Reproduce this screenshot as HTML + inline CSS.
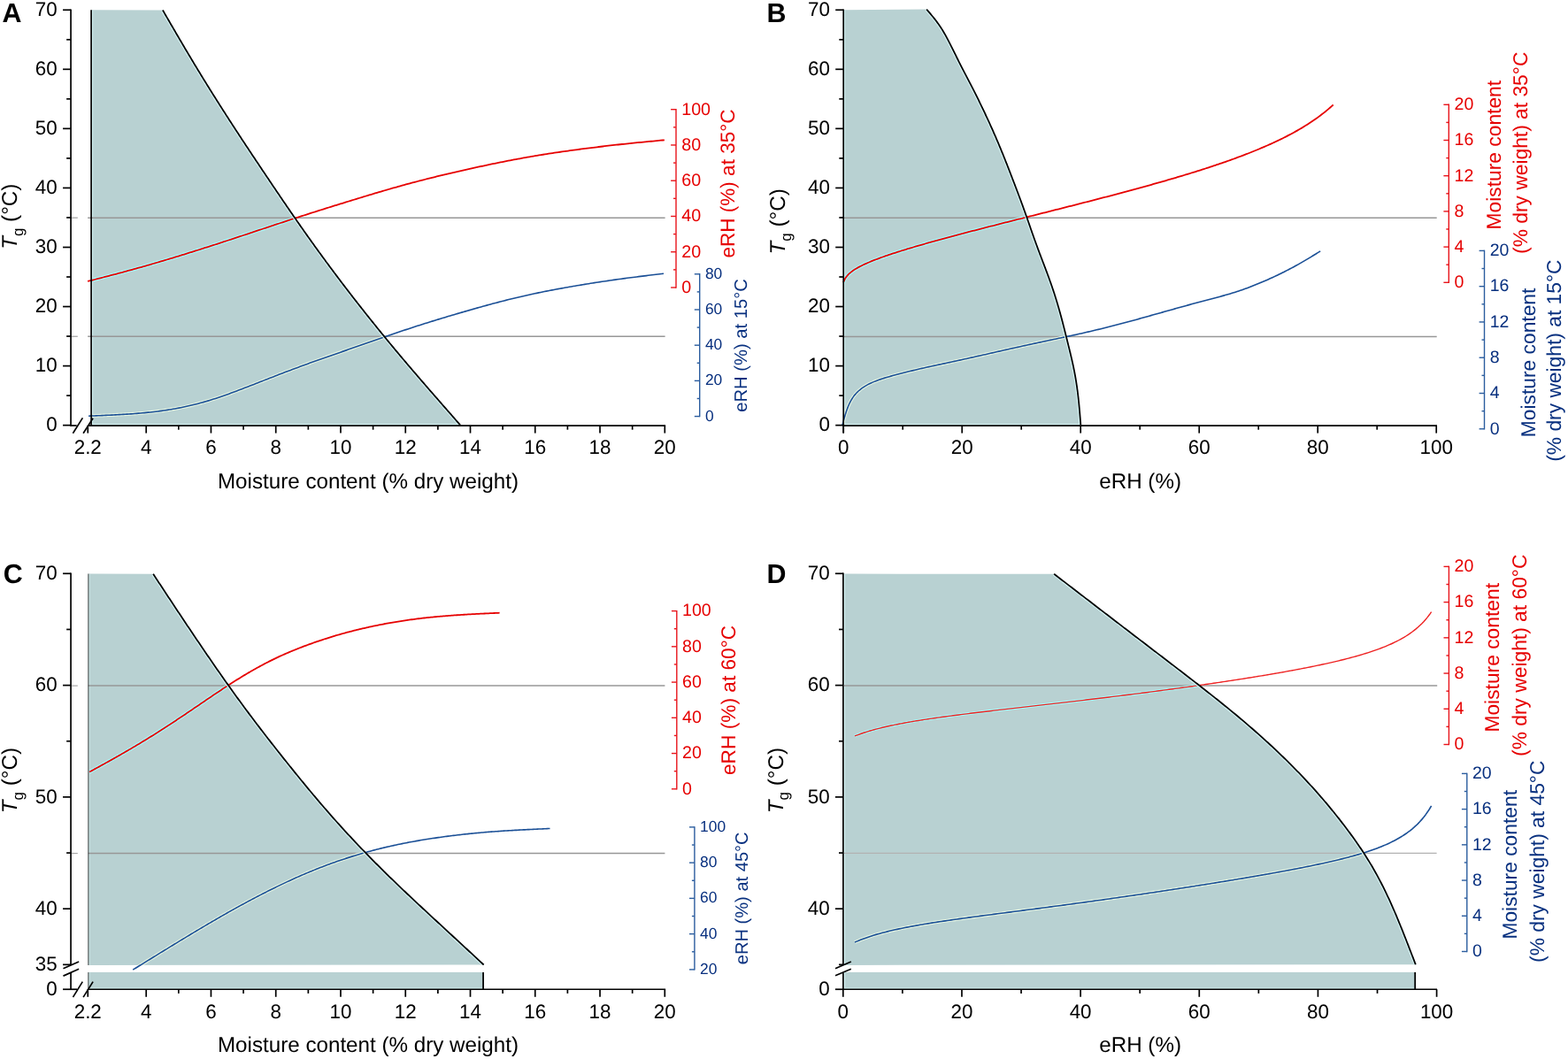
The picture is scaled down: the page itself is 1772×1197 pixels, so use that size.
<!DOCTYPE html>
<html><head><meta charset="utf-8"><title>Glass transition temperature vs moisture content and eRH</title>
<style>
html,body{margin:0;padding:0;background:#fff;}
body{width:1772px;height:1197px;overflow:hidden;}
svg{display:block;font-family:'Liberation Sans', Arial, Helvetica, sans-serif;text-rendering:geometricPrecision;}
</style></head><body>
<svg xmlns="http://www.w3.org/2000/svg" width="1772" height="1197" viewBox="0 0 1772 1197">
<defs>
<clipPath id="cA"><path d="M103.90,480.30 L103.90,11.30 L183.89,11.50 L184.80,13.07 L185.71,14.64 L186.62,16.21 L187.53,17.77 L188.44,19.34 L189.36,20.91 L190.27,22.48 L191.18,24.05 L192.09,25.62 L193.00,27.19 L193.91,28.75 L194.82,30.32 L195.74,31.89 L196.65,33.46 L197.57,35.03 L198.48,36.60 L199.40,38.17 L200.31,39.73 L201.23,41.30 L202.15,42.87 L203.07,44.44 L203.99,46.01 L204.91,47.58 L205.83,49.15 L206.76,50.71 L207.68,52.28 L208.61,53.85 L209.53,55.42 L210.46,56.99 L211.39,58.56 L212.32,60.13 L213.26,61.69 L214.19,63.26 L215.13,64.83 L216.06,66.40 L217.00,67.97 L217.95,69.54 L218.89,71.11 L219.83,72.67 L220.78,74.24 L221.73,75.81 L222.68,77.38 L223.63,78.95 L224.58,80.52 L225.54,82.09 L226.49,83.65 L227.45,85.22 L228.41,86.79 L229.38,88.36 L230.34,89.93 L231.31,91.50 L232.28,93.07 L233.25,94.63 L234.22,96.20 L235.19,97.77 L236.17,99.34 L237.15,100.91 L238.13,102.48 L239.11,104.05 L240.09,105.61 L241.07,107.18 L242.06,108.75 L243.05,110.32 L244.04,111.89 L245.03,113.46 L246.02,115.03 L247.01,116.59 L248.01,118.16 L249.00,119.73 L250.00,121.30 L251.00,122.87 L252.00,124.44 L253.00,126.01 L254.01,127.57 L255.01,129.14 L256.02,130.71 L257.03,132.28 L258.04,133.85 L259.05,135.42 L260.06,136.98 L261.08,138.55 L262.10,140.12 L263.11,141.69 L264.13,143.26 L265.15,144.83 L266.17,146.40 L267.20,147.96 L268.22,149.53 L269.25,151.10 L270.28,152.67 L271.30,154.24 L272.33,155.81 L273.37,157.38 L274.40,158.94 L275.43,160.51 L276.47,162.08 L277.50,163.65 L278.54,165.22 L279.58,166.79 L280.62,168.36 L281.66,169.92 L282.70,171.49 L283.74,173.06 L284.78,174.63 L285.82,176.20 L286.87,177.77 L287.91,179.34 L288.96,180.90 L290.00,182.47 L291.05,184.04 L292.10,185.61 L293.15,187.18 L294.19,188.75 L295.24,190.32 L296.29,191.88 L297.34,193.45 L298.39,195.02 L299.45,196.59 L300.50,198.16 L301.55,199.73 L302.60,201.30 L303.65,202.86 L304.71,204.43 L305.76,206.00 L306.82,207.57 L307.87,209.14 L308.93,210.71 L309.99,212.28 L311.05,213.84 L312.11,215.41 L313.17,216.98 L314.23,218.55 L315.29,220.12 L316.35,221.69 L317.42,223.26 L318.48,224.82 L319.55,226.39 L320.62,227.96 L321.69,229.53 L322.76,231.10 L323.83,232.67 L324.90,234.24 L325.98,235.80 L327.05,237.37 L328.13,238.94 L329.21,240.51 L330.29,242.08 L331.38,243.65 L332.46,245.22 L333.55,246.78 L334.64,248.35 L335.73,249.92 L336.82,251.49 L337.91,253.06 L339.01,254.63 L340.11,256.20 L341.21,257.76 L342.31,259.33 L343.41,260.90 L344.52,262.47 L345.62,264.04 L346.73,265.61 L347.85,267.18 L348.96,268.74 L350.08,270.31 L351.20,271.88 L352.32,273.45 L353.44,275.02 L354.56,276.59 L355.69,278.16 L356.82,279.72 L357.95,281.29 L359.09,282.86 L360.23,284.43 L361.37,286.00 L362.51,287.57 L363.65,289.14 L364.80,290.70 L365.95,292.27 L367.10,293.84 L368.25,295.41 L369.41,296.98 L370.57,298.55 L371.73,300.12 L372.89,301.68 L374.06,303.25 L375.22,304.82 L376.39,306.39 L377.57,307.96 L378.74,309.53 L379.92,311.10 L381.10,312.66 L382.28,314.23 L383.46,315.80 L384.65,317.37 L385.84,318.94 L387.03,320.51 L388.23,322.08 L389.42,323.64 L390.62,325.21 L391.82,326.78 L393.03,328.35 L394.23,329.92 L395.44,331.49 L396.65,333.06 L397.86,334.62 L399.08,336.19 L400.30,337.76 L401.52,339.33 L402.74,340.90 L403.97,342.47 L405.19,344.04 L406.42,345.60 L407.66,347.17 L408.89,348.74 L410.13,350.31 L411.37,351.88 L412.61,353.45 L413.85,355.02 L415.10,356.58 L416.35,358.15 L417.60,359.72 L418.85,361.29 L420.11,362.86 L421.37,364.43 L422.63,365.99 L423.89,367.56 L425.16,369.13 L426.42,370.70 L427.69,372.27 L428.97,373.84 L430.24,375.41 L431.52,376.97 L432.80,378.54 L434.08,380.11 L435.37,381.68 L436.65,383.25 L437.94,384.82 L439.24,386.39 L440.53,387.95 L441.83,389.52 L443.13,391.09 L444.43,392.66 L445.73,394.23 L447.04,395.80 L448.35,397.37 L449.66,398.93 L450.98,400.50 L452.29,402.07 L453.61,403.64 L454.94,405.21 L456.26,406.78 L457.59,408.35 L458.92,409.91 L460.25,411.48 L461.58,413.05 L462.92,414.62 L464.26,416.19 L465.60,417.76 L466.94,419.33 L468.28,420.89 L469.63,422.46 L470.98,424.03 L472.33,425.60 L473.68,427.17 L475.03,428.74 L476.39,430.31 L477.74,431.87 L479.10,433.44 L480.46,435.01 L481.82,436.58 L483.18,438.15 L484.54,439.72 L485.91,441.29 L487.27,442.85 L488.64,444.42 L490.00,445.99 L491.37,447.56 L492.74,449.13 L494.11,450.70 L495.48,452.27 L496.85,453.83 L498.22,455.40 L499.59,456.97 L500.96,458.54 L502.33,460.11 L503.70,461.68 L505.08,463.25 L506.45,464.81 L507.82,466.38 L509.19,467.95 L510.57,469.52 L511.94,471.09 L513.32,472.66 L514.69,474.23 L516.06,475.79 L517.44,477.36 L518.81,478.93 L520.18,480.50 L520.18,480.30 Z"/></clipPath>
<clipPath id="cB"><path d="M954.00,480.30 L954.00,11.30 L1047.16,10.55 L1048.25,11.83 L1049.34,13.11 L1050.42,14.39 L1051.51,15.67 L1052.58,16.96 L1053.65,18.26 L1054.71,19.55 L1055.76,20.86 L1056.80,22.18 L1057.83,23.51 L1058.84,24.84 L1059.83,26.19 L1060.80,27.55 L1061.76,28.93 L1062.70,30.32 L1063.62,31.72 L1064.52,33.13 L1065.40,34.56 L1066.27,35.99 L1067.12,37.44 L1067.95,38.90 L1068.78,40.37 L1069.59,41.84 L1070.39,43.33 L1071.18,44.81 L1071.96,46.31 L1072.73,47.81 L1073.50,49.32 L1074.26,50.82 L1075.02,52.34 L1075.78,53.85 L1076.53,55.37 L1077.29,56.88 L1078.04,58.40 L1078.79,59.92 L1079.54,61.44 L1080.29,62.96 L1081.04,64.48 L1081.80,65.99 L1082.55,67.51 L1083.31,69.03 L1084.07,70.54 L1084.84,72.05 L1085.60,73.56 L1086.37,75.07 L1087.14,76.58 L1087.92,78.09 L1088.70,79.59 L1089.47,81.10 L1090.25,82.60 L1091.04,84.10 L1091.82,85.60 L1092.60,87.11 L1093.39,88.61 L1094.17,90.11 L1094.95,91.61 L1095.74,93.11 L1096.52,94.61 L1097.30,96.11 L1098.07,97.61 L1098.85,99.12 L1099.62,100.63 L1100.39,102.13 L1101.15,103.64 L1101.92,105.15 L1102.68,106.66 L1103.43,108.18 L1104.19,109.69 L1104.94,111.21 L1105.68,112.73 L1106.43,114.24 L1107.17,115.77 L1107.91,117.29 L1108.65,118.81 L1109.38,120.33 L1110.11,121.86 L1110.84,123.39 L1111.57,124.91 L1112.29,126.44 L1113.02,127.97 L1113.74,129.50 L1114.45,131.04 L1115.17,132.57 L1115.88,134.10 L1116.59,135.64 L1117.30,137.17 L1118.01,138.71 L1118.71,140.25 L1119.41,141.79 L1120.11,143.33 L1120.80,144.88 L1121.49,146.42 L1122.17,147.97 L1122.86,149.52 L1123.53,151.07 L1124.21,152.62 L1124.88,154.17 L1125.55,155.72 L1126.22,157.27 L1126.89,158.83 L1127.55,160.39 L1128.21,161.94 L1128.87,163.50 L1129.52,165.06 L1130.18,166.62 L1130.82,168.19 L1131.47,169.75 L1132.11,171.32 L1132.75,172.88 L1133.39,174.45 L1134.02,176.02 L1134.65,177.59 L1135.28,179.16 L1135.91,180.73 L1136.53,182.31 L1137.15,183.88 L1137.77,185.45 L1138.39,187.03 L1139.01,188.60 L1139.62,190.18 L1140.24,191.76 L1140.85,193.34 L1141.46,194.92 L1142.07,196.49 L1142.67,198.07 L1143.28,199.65 L1143.89,201.23 L1144.50,202.81 L1145.10,204.39 L1145.71,205.97 L1146.31,207.55 L1146.92,209.13 L1147.52,210.72 L1148.12,212.30 L1148.72,213.88 L1149.32,215.46 L1149.92,217.04 L1150.52,218.63 L1151.12,220.21 L1151.71,221.79 L1152.30,223.38 L1152.90,224.96 L1153.48,226.55 L1154.07,228.14 L1154.65,229.73 L1155.23,231.31 L1155.81,232.90 L1156.39,234.49 L1156.97,236.09 L1157.54,237.68 L1158.11,239.27 L1158.68,240.86 L1159.24,242.46 L1159.81,244.05 L1160.37,245.65 L1160.93,247.25 L1161.49,248.84 L1162.04,250.44 L1162.60,252.04 L1163.15,253.64 L1163.71,255.24 L1164.26,256.83 L1164.82,258.43 L1165.38,260.03 L1165.93,261.63 L1166.49,263.23 L1167.05,264.82 L1167.61,266.42 L1168.18,268.01 L1168.75,269.61 L1169.32,271.20 L1169.89,272.79 L1170.47,274.38 L1171.04,275.97 L1171.63,277.56 L1172.21,279.15 L1172.80,280.74 L1173.39,282.32 L1173.98,283.91 L1174.57,285.49 L1175.17,287.08 L1175.77,288.66 L1176.37,290.24 L1176.97,291.82 L1177.57,293.41 L1178.17,294.99 L1178.77,296.57 L1179.38,298.15 L1179.98,299.73 L1180.58,301.31 L1181.18,302.90 L1181.78,304.48 L1182.38,306.06 L1182.97,307.65 L1183.56,309.23 L1184.15,310.82 L1184.73,312.41 L1185.31,314.00 L1185.89,315.59 L1186.46,317.18 L1187.03,318.77 L1187.59,320.37 L1188.15,321.97 L1188.70,323.57 L1189.25,325.17 L1189.79,326.77 L1190.33,328.37 L1190.86,329.98 L1191.38,331.59 L1191.90,333.20 L1192.41,334.81 L1192.92,336.42 L1193.43,338.04 L1193.92,339.65 L1194.41,341.27 L1194.90,342.89 L1195.38,344.51 L1195.86,346.14 L1196.33,347.76 L1196.79,349.39 L1197.26,351.02 L1197.71,352.65 L1198.16,354.28 L1198.61,355.91 L1199.05,357.54 L1199.49,359.17 L1199.93,360.81 L1200.36,362.45 L1200.79,364.08 L1201.21,365.72 L1201.63,367.36 L1202.05,369.00 L1202.47,370.64 L1202.88,372.28 L1203.29,373.92 L1203.70,375.57 L1204.11,377.21 L1204.52,378.85 L1204.93,380.49 L1205.34,382.13 L1205.75,383.78 L1206.16,385.42 L1206.57,387.06 L1206.98,388.70 L1207.39,390.35 L1207.80,391.99 L1208.20,393.63 L1208.61,395.28 L1209.01,396.92 L1209.41,398.57 L1209.80,400.21 L1210.20,401.86 L1210.58,403.50 L1210.97,405.15 L1211.35,406.80 L1211.72,408.45 L1212.09,410.10 L1212.45,411.75 L1212.81,413.41 L1213.16,415.06 L1213.50,416.72 L1213.83,418.38 L1214.16,420.03 L1214.47,421.70 L1214.78,423.36 L1215.09,425.02 L1215.38,426.69 L1215.67,428.35 L1215.94,430.02 L1216.21,431.69 L1216.47,433.36 L1216.72,435.03 L1216.97,436.70 L1217.21,438.38 L1217.43,440.05 L1217.66,441.73 L1217.87,443.41 L1218.08,445.09 L1218.28,446.76 L1218.47,448.44 L1218.66,450.13 L1218.84,451.81 L1219.02,453.49 L1219.19,455.17 L1219.36,456.86 L1219.52,458.54 L1219.67,460.23 L1219.83,461.91 L1219.97,463.60 L1220.12,465.29 L1220.26,466.97 L1220.40,468.66 L1220.53,470.35 L1220.67,472.03 L1220.80,473.72 L1220.93,475.41 L1221.06,477.10 L1221.19,478.79 L1221.32,480.48 L1221.32,480.30 Z"/></clipPath>
<clipPath id="cC"><path d="M100.60,1090.90 L100.60,648.60 L173.14,648.80 L174.11,650.28 L175.08,651.75 L176.06,653.23 L177.03,654.71 L178.00,656.19 L178.97,657.66 L179.94,659.14 L180.92,660.62 L181.89,662.10 L182.86,663.57 L183.84,665.05 L184.81,666.53 L185.78,668.00 L186.76,669.48 L187.73,670.96 L188.70,672.44 L189.68,673.91 L190.65,675.39 L191.63,676.87 L192.61,678.35 L193.58,679.82 L194.56,681.30 L195.54,682.78 L196.51,684.25 L197.49,685.73 L198.47,687.21 L199.45,688.69 L200.43,690.16 L201.41,691.64 L202.39,693.12 L203.37,694.59 L204.36,696.07 L205.34,697.55 L206.32,699.03 L207.31,700.50 L208.29,701.98 L209.28,703.46 L210.27,704.94 L211.25,706.41 L212.24,707.89 L213.23,709.37 L214.22,710.84 L215.21,712.32 L216.20,713.80 L217.20,715.28 L218.19,716.75 L219.18,718.23 L220.18,719.71 L221.18,721.19 L222.17,722.66 L223.17,724.14 L224.17,725.62 L225.17,727.09 L226.17,728.57 L227.17,730.05 L228.18,731.53 L229.18,733.00 L230.19,734.48 L231.19,735.96 L232.20,737.44 L233.21,738.91 L234.22,740.39 L235.23,741.87 L236.25,743.34 L237.26,744.82 L238.28,746.30 L239.29,747.78 L240.31,749.25 L241.33,750.73 L242.35,752.21 L243.38,753.69 L244.40,755.16 L245.43,756.64 L246.45,758.12 L247.48,759.59 L248.51,761.07 L249.55,762.55 L250.58,764.03 L251.62,765.50 L252.66,766.98 L253.70,768.46 L254.74,769.94 L255.79,771.41 L256.83,772.89 L257.88,774.37 L258.93,775.84 L259.99,777.32 L261.04,778.80 L262.10,780.28 L263.16,781.75 L264.23,783.23 L265.29,784.71 L266.36,786.18 L267.43,787.66 L268.50,789.14 L269.58,790.62 L270.66,792.09 L271.74,793.57 L272.82,795.05 L273.90,796.53 L274.99,798.00 L276.08,799.48 L277.18,800.96 L278.27,802.43 L279.37,803.91 L280.47,805.39 L281.57,806.87 L282.68,808.34 L283.79,809.82 L284.90,811.30 L286.01,812.78 L287.12,814.25 L288.24,815.73 L289.36,817.21 L290.48,818.68 L291.61,820.16 L292.74,821.64 L293.86,823.12 L295.00,824.59 L296.13,826.07 L297.27,827.55 L298.40,829.03 L299.54,830.50 L300.69,831.98 L301.83,833.46 L302.98,834.93 L304.13,836.41 L305.28,837.89 L306.43,839.37 L307.59,840.84 L308.74,842.32 L309.90,843.80 L311.06,845.28 L312.23,846.75 L313.39,848.23 L314.56,849.71 L315.73,851.18 L316.90,852.66 L318.07,854.14 L319.24,855.62 L320.42,857.09 L321.59,858.57 L322.77,860.05 L323.95,861.53 L325.14,863.00 L326.32,864.48 L327.51,865.96 L328.70,867.43 L329.88,868.91 L331.08,870.39 L332.27,871.87 L333.47,873.34 L334.66,874.82 L335.86,876.30 L337.06,877.77 L338.27,879.25 L339.47,880.73 L340.68,882.21 L341.89,883.68 L343.11,885.16 L344.32,886.64 L345.54,888.12 L346.76,889.59 L347.98,891.07 L349.21,892.55 L350.44,894.02 L351.67,895.50 L352.91,896.98 L354.14,898.46 L355.39,899.93 L356.63,901.41 L357.88,902.89 L359.13,904.37 L360.39,905.84 L361.64,907.32 L362.91,908.80 L364.17,910.27 L365.44,911.75 L366.72,913.23 L367.99,914.71 L369.28,916.18 L370.56,917.66 L371.85,919.14 L373.15,920.62 L374.44,922.09 L375.75,923.57 L377.05,925.05 L378.36,926.52 L379.68,928.00 L381.00,929.48 L382.32,930.96 L383.65,932.43 L384.99,933.91 L386.32,935.39 L387.67,936.87 L389.01,938.34 L390.36,939.82 L391.72,941.30 L393.08,942.77 L394.45,944.25 L395.82,945.73 L397.19,947.21 L398.57,948.68 L399.96,950.16 L401.34,951.64 L402.74,953.12 L404.14,954.59 L405.54,956.07 L406.95,957.55 L408.36,959.02 L409.78,960.50 L411.20,961.98 L412.63,963.46 L414.06,964.93 L415.50,966.41 L416.94,967.89 L418.38,969.36 L419.84,970.84 L421.29,972.32 L422.75,973.80 L424.22,975.27 L425.69,976.75 L427.16,978.23 L428.64,979.71 L430.12,981.18 L431.61,982.66 L433.10,984.14 L434.60,985.61 L436.10,987.09 L437.61,988.57 L439.12,990.05 L440.63,991.52 L442.15,993.00 L443.67,994.48 L445.20,995.96 L446.73,997.43 L448.26,998.91 L449.80,1000.39 L451.34,1001.86 L452.88,1003.34 L454.43,1004.82 L455.99,1006.30 L457.54,1007.77 L459.10,1009.25 L460.66,1010.73 L462.23,1012.21 L463.79,1013.68 L465.37,1015.16 L466.94,1016.64 L468.51,1018.11 L470.09,1019.59 L471.67,1021.07 L473.26,1022.55 L474.84,1024.02 L476.43,1025.50 L478.01,1026.98 L479.60,1028.46 L481.19,1029.93 L482.79,1031.41 L484.38,1032.89 L485.97,1034.36 L487.57,1035.84 L489.17,1037.32 L490.76,1038.80 L492.36,1040.27 L493.96,1041.75 L495.56,1043.23 L497.16,1044.71 L498.75,1046.18 L500.35,1047.66 L501.95,1049.14 L503.55,1050.61 L505.15,1052.09 L506.75,1053.57 L508.35,1055.05 L509.95,1056.52 L511.55,1058.00 L513.15,1059.48 L514.75,1060.95 L516.34,1062.43 L517.94,1063.91 L519.54,1065.39 L521.14,1066.86 L522.73,1068.34 L524.33,1069.82 L525.93,1071.30 L527.52,1072.77 L529.12,1074.25 L530.71,1075.73 L532.31,1077.20 L533.91,1078.68 L535.50,1080.16 L537.10,1081.64 L538.69,1083.11 L540.29,1084.59 L541.88,1086.07 L543.48,1087.55 L545.07,1089.02 L546.66,1090.50 Z"/></clipPath>
<clipPath id="cD"><path d="M953.90,1090.90 L953.90,648.60 L1191.19,648.80 L1193.11,650.28 L1195.04,651.75 L1196.96,653.23 L1198.88,654.71 L1200.81,656.18 L1202.73,657.66 L1204.65,659.14 L1206.58,660.61 L1208.50,662.09 L1210.42,663.57 L1212.35,665.04 L1214.27,666.52 L1216.19,668.00 L1218.11,669.47 L1220.04,670.95 L1221.96,672.43 L1223.88,673.90 L1225.80,675.38 L1227.73,676.86 L1229.65,678.33 L1231.57,679.81 L1233.50,681.28 L1235.42,682.76 L1237.34,684.24 L1239.26,685.71 L1241.19,687.19 L1243.11,688.67 L1245.03,690.14 L1246.96,691.62 L1248.88,693.10 L1250.80,694.57 L1252.73,696.05 L1254.65,697.53 L1256.58,699.00 L1258.50,700.48 L1260.42,701.96 L1262.35,703.43 L1264.28,704.91 L1266.20,706.39 L1268.13,707.86 L1270.05,709.34 L1271.98,710.82 L1273.91,712.29 L1275.84,713.77 L1277.77,715.25 L1279.69,716.72 L1281.62,718.20 L1283.55,719.68 L1285.48,721.15 L1287.41,722.63 L1289.34,724.11 L1291.27,725.58 L1293.20,727.06 L1295.13,728.54 L1297.06,730.01 L1298.99,731.49 L1300.92,732.97 L1302.85,734.44 L1304.78,735.92 L1306.71,737.40 L1308.64,738.87 L1310.57,740.35 L1312.50,741.83 L1314.43,743.30 L1316.36,744.78 L1318.28,746.25 L1320.21,747.73 L1322.14,749.21 L1324.06,750.68 L1325.99,752.16 L1327.91,753.64 L1329.83,755.11 L1331.76,756.59 L1333.68,758.07 L1335.60,759.54 L1337.52,761.02 L1339.43,762.50 L1341.35,763.97 L1343.27,765.45 L1345.18,766.93 L1347.09,768.40 L1349.00,769.88 L1350.90,771.36 L1352.80,772.83 L1354.70,774.31 L1356.60,775.79 L1358.49,777.26 L1360.38,778.74 L1362.27,780.22 L1364.15,781.69 L1366.03,783.17 L1367.90,784.65 L1369.77,786.12 L1371.64,787.60 L1373.50,789.08 L1375.35,790.55 L1377.20,792.03 L1379.04,793.51 L1380.88,794.98 L1382.71,796.46 L1384.54,797.94 L1386.35,799.41 L1388.17,800.89 L1389.97,802.37 L1391.77,803.84 L1393.56,805.32 L1395.35,806.79 L1397.13,808.27 L1398.90,809.75 L1400.66,811.22 L1402.42,812.70 L1404.17,814.18 L1405.91,815.65 L1407.64,817.13 L1409.37,818.61 L1411.08,820.08 L1412.79,821.56 L1414.49,823.04 L1416.19,824.51 L1417.87,825.99 L1419.55,827.47 L1421.22,828.94 L1422.88,830.42 L1424.54,831.90 L1426.18,833.37 L1427.82,834.85 L1429.45,836.33 L1431.07,837.80 L1432.68,839.28 L1434.29,840.76 L1435.89,842.23 L1437.47,843.71 L1439.06,845.19 L1440.63,846.66 L1442.19,848.14 L1443.75,849.62 L1445.30,851.09 L1446.84,852.57 L1448.37,854.05 L1449.90,855.52 L1451.41,857.00 L1452.92,858.48 L1454.42,859.95 L1455.92,861.43 L1457.40,862.91 L1458.88,864.38 L1460.35,865.86 L1461.81,867.34 L1463.27,868.81 L1464.71,870.29 L1466.15,871.76 L1467.58,873.24 L1469.01,874.72 L1470.42,876.19 L1471.83,877.67 L1473.23,879.15 L1474.62,880.62 L1476.01,882.10 L1477.38,883.58 L1478.75,885.05 L1480.11,886.53 L1481.46,888.01 L1482.81,889.48 L1484.14,890.96 L1485.47,892.44 L1486.79,893.91 L1488.10,895.39 L1489.41,896.87 L1490.70,898.34 L1491.99,899.82 L1493.27,901.30 L1494.54,902.77 L1495.81,904.25 L1497.06,905.73 L1498.32,907.20 L1499.56,908.68 L1500.79,910.16 L1502.02,911.63 L1503.24,913.11 L1504.46,914.59 L1505.67,916.06 L1506.87,917.54 L1508.06,919.02 L1509.25,920.49 L1510.43,921.97 L1511.60,923.45 L1512.77,924.92 L1513.93,926.40 L1515.09,927.88 L1516.23,929.35 L1517.38,930.83 L1518.51,932.31 L1519.64,933.78 L1520.76,935.26 L1521.87,936.73 L1522.98,938.21 L1524.08,939.69 L1525.17,941.16 L1526.26,942.64 L1527.34,944.12 L1528.41,945.59 L1529.47,947.07 L1530.52,948.55 L1531.57,950.02 L1532.61,951.50 L1533.64,952.98 L1534.66,954.45 L1535.68,955.93 L1536.68,957.41 L1537.68,958.88 L1538.67,960.36 L1539.64,961.84 L1540.61,963.31 L1541.58,964.79 L1542.53,966.27 L1543.47,967.74 L1544.40,969.22 L1545.33,970.70 L1546.24,972.17 L1547.15,973.65 L1548.05,975.13 L1548.94,976.60 L1549.82,978.08 L1550.69,979.56 L1551.55,981.03 L1552.40,982.51 L1553.24,983.99 L1554.08,985.46 L1554.91,986.94 L1555.72,988.42 L1556.53,989.89 L1557.33,991.37 L1558.12,992.85 L1558.91,994.32 L1559.69,995.80 L1560.45,997.27 L1561.21,998.75 L1561.97,1000.23 L1562.71,1001.70 L1563.45,1003.18 L1564.18,1004.66 L1564.91,1006.13 L1565.63,1007.61 L1566.34,1009.09 L1567.04,1010.56 L1567.74,1012.04 L1568.44,1013.52 L1569.12,1014.99 L1569.81,1016.47 L1570.48,1017.95 L1571.15,1019.42 L1571.82,1020.90 L1572.48,1022.38 L1573.14,1023.85 L1573.79,1025.33 L1574.44,1026.81 L1575.08,1028.28 L1575.72,1029.76 L1576.35,1031.24 L1576.98,1032.71 L1577.61,1034.19 L1578.23,1035.67 L1578.85,1037.14 L1579.47,1038.62 L1580.08,1040.10 L1580.69,1041.57 L1581.30,1043.05 L1581.90,1044.53 L1582.51,1046.00 L1583.10,1047.48 L1583.70,1048.96 L1584.29,1050.43 L1584.89,1051.91 L1585.48,1053.39 L1586.06,1054.86 L1586.65,1056.34 L1587.23,1057.82 L1587.82,1059.29 L1588.40,1060.77 L1588.98,1062.24 L1589.56,1063.72 L1590.13,1065.20 L1590.71,1066.67 L1591.28,1068.15 L1591.86,1069.63 L1592.43,1071.10 L1593.01,1072.58 L1593.58,1074.06 L1594.15,1075.53 L1594.72,1077.01 L1595.29,1078.49 L1595.86,1079.96 L1596.43,1081.44 L1597.00,1082.92 L1597.57,1084.39 L1598.14,1085.87 L1598.71,1087.35 L1599.27,1088.82 L1599.84,1090.30 Z"/></clipPath>
</defs>
<rect width="1772" height="1197" fill="#fff"/>
<path d="M103.90,480.30 L103.90,11.30 L183.89,11.50 L184.80,13.07 L185.71,14.64 L186.62,16.21 L187.53,17.77 L188.44,19.34 L189.36,20.91 L190.27,22.48 L191.18,24.05 L192.09,25.62 L193.00,27.19 L193.91,28.75 L194.82,30.32 L195.74,31.89 L196.65,33.46 L197.57,35.03 L198.48,36.60 L199.40,38.17 L200.31,39.73 L201.23,41.30 L202.15,42.87 L203.07,44.44 L203.99,46.01 L204.91,47.58 L205.83,49.15 L206.76,50.71 L207.68,52.28 L208.61,53.85 L209.53,55.42 L210.46,56.99 L211.39,58.56 L212.32,60.13 L213.26,61.69 L214.19,63.26 L215.13,64.83 L216.06,66.40 L217.00,67.97 L217.95,69.54 L218.89,71.11 L219.83,72.67 L220.78,74.24 L221.73,75.81 L222.68,77.38 L223.63,78.95 L224.58,80.52 L225.54,82.09 L226.49,83.65 L227.45,85.22 L228.41,86.79 L229.38,88.36 L230.34,89.93 L231.31,91.50 L232.28,93.07 L233.25,94.63 L234.22,96.20 L235.19,97.77 L236.17,99.34 L237.15,100.91 L238.13,102.48 L239.11,104.05 L240.09,105.61 L241.07,107.18 L242.06,108.75 L243.05,110.32 L244.04,111.89 L245.03,113.46 L246.02,115.03 L247.01,116.59 L248.01,118.16 L249.00,119.73 L250.00,121.30 L251.00,122.87 L252.00,124.44 L253.00,126.01 L254.01,127.57 L255.01,129.14 L256.02,130.71 L257.03,132.28 L258.04,133.85 L259.05,135.42 L260.06,136.98 L261.08,138.55 L262.10,140.12 L263.11,141.69 L264.13,143.26 L265.15,144.83 L266.17,146.40 L267.20,147.96 L268.22,149.53 L269.25,151.10 L270.28,152.67 L271.30,154.24 L272.33,155.81 L273.37,157.38 L274.40,158.94 L275.43,160.51 L276.47,162.08 L277.50,163.65 L278.54,165.22 L279.58,166.79 L280.62,168.36 L281.66,169.92 L282.70,171.49 L283.74,173.06 L284.78,174.63 L285.82,176.20 L286.87,177.77 L287.91,179.34 L288.96,180.90 L290.00,182.47 L291.05,184.04 L292.10,185.61 L293.15,187.18 L294.19,188.75 L295.24,190.32 L296.29,191.88 L297.34,193.45 L298.39,195.02 L299.45,196.59 L300.50,198.16 L301.55,199.73 L302.60,201.30 L303.65,202.86 L304.71,204.43 L305.76,206.00 L306.82,207.57 L307.87,209.14 L308.93,210.71 L309.99,212.28 L311.05,213.84 L312.11,215.41 L313.17,216.98 L314.23,218.55 L315.29,220.12 L316.35,221.69 L317.42,223.26 L318.48,224.82 L319.55,226.39 L320.62,227.96 L321.69,229.53 L322.76,231.10 L323.83,232.67 L324.90,234.24 L325.98,235.80 L327.05,237.37 L328.13,238.94 L329.21,240.51 L330.29,242.08 L331.38,243.65 L332.46,245.22 L333.55,246.78 L334.64,248.35 L335.73,249.92 L336.82,251.49 L337.91,253.06 L339.01,254.63 L340.11,256.20 L341.21,257.76 L342.31,259.33 L343.41,260.90 L344.52,262.47 L345.62,264.04 L346.73,265.61 L347.85,267.18 L348.96,268.74 L350.08,270.31 L351.20,271.88 L352.32,273.45 L353.44,275.02 L354.56,276.59 L355.69,278.16 L356.82,279.72 L357.95,281.29 L359.09,282.86 L360.23,284.43 L361.37,286.00 L362.51,287.57 L363.65,289.14 L364.80,290.70 L365.95,292.27 L367.10,293.84 L368.25,295.41 L369.41,296.98 L370.57,298.55 L371.73,300.12 L372.89,301.68 L374.06,303.25 L375.22,304.82 L376.39,306.39 L377.57,307.96 L378.74,309.53 L379.92,311.10 L381.10,312.66 L382.28,314.23 L383.46,315.80 L384.65,317.37 L385.84,318.94 L387.03,320.51 L388.23,322.08 L389.42,323.64 L390.62,325.21 L391.82,326.78 L393.03,328.35 L394.23,329.92 L395.44,331.49 L396.65,333.06 L397.86,334.62 L399.08,336.19 L400.30,337.76 L401.52,339.33 L402.74,340.90 L403.97,342.47 L405.19,344.04 L406.42,345.60 L407.66,347.17 L408.89,348.74 L410.13,350.31 L411.37,351.88 L412.61,353.45 L413.85,355.02 L415.10,356.58 L416.35,358.15 L417.60,359.72 L418.85,361.29 L420.11,362.86 L421.37,364.43 L422.63,365.99 L423.89,367.56 L425.16,369.13 L426.42,370.70 L427.69,372.27 L428.97,373.84 L430.24,375.41 L431.52,376.97 L432.80,378.54 L434.08,380.11 L435.37,381.68 L436.65,383.25 L437.94,384.82 L439.24,386.39 L440.53,387.95 L441.83,389.52 L443.13,391.09 L444.43,392.66 L445.73,394.23 L447.04,395.80 L448.35,397.37 L449.66,398.93 L450.98,400.50 L452.29,402.07 L453.61,403.64 L454.94,405.21 L456.26,406.78 L457.59,408.35 L458.92,409.91 L460.25,411.48 L461.58,413.05 L462.92,414.62 L464.26,416.19 L465.60,417.76 L466.94,419.33 L468.28,420.89 L469.63,422.46 L470.98,424.03 L472.33,425.60 L473.68,427.17 L475.03,428.74 L476.39,430.31 L477.74,431.87 L479.10,433.44 L480.46,435.01 L481.82,436.58 L483.18,438.15 L484.54,439.72 L485.91,441.29 L487.27,442.85 L488.64,444.42 L490.00,445.99 L491.37,447.56 L492.74,449.13 L494.11,450.70 L495.48,452.27 L496.85,453.83 L498.22,455.40 L499.59,456.97 L500.96,458.54 L502.33,460.11 L503.70,461.68 L505.08,463.25 L506.45,464.81 L507.82,466.38 L509.19,467.95 L510.57,469.52 L511.94,471.09 L513.32,472.66 L514.69,474.23 L516.06,475.79 L517.44,477.36 L518.81,478.93 L520.18,480.50 L520.18,480.30 Z" fill="#b8d1d2"/>
<line x1="104.6" y1="11.5" x2="104.6" y2="480" stroke="#d2f2f2" stroke-width="1.0" stroke-linecap="butt"/>
<line x1="104" y1="479.6" x2="519.18" y2="479.6" stroke="#d2f2f2" stroke-width="1.0" stroke-linecap="butt"/>
<line x1="99.2" y1="246.16" x2="751.6" y2="246.16" stroke="#979797" stroke-width="1.5" stroke-linecap="butt"/>
<line x1="80.9" y1="246.16" x2="87.8" y2="246.16" stroke="#a8a8a8" stroke-width="1.3" stroke-linecap="butt"/>
<line x1="99.2" y1="380.28" x2="751.6" y2="380.28" stroke="#979797" stroke-width="1.5" stroke-linecap="butt"/>
<line x1="80.9" y1="380.28" x2="87.8" y2="380.28" stroke="#a8a8a8" stroke-width="1.3" stroke-linecap="butt"/>
<path d="M99.10,317.98 L101.28,317.43 L103.46,316.87 L105.64,316.31 L107.82,315.75 L110.00,315.19 L112.18,314.62 L114.36,314.06 L116.54,313.50 L118.72,312.93 L120.90,312.37 L123.08,311.80 L125.26,311.23 L127.44,310.66 L129.62,310.08 L131.80,309.51 L133.98,308.93 L136.16,308.35 L138.34,307.76 L140.52,307.18 L142.70,306.59 L144.88,305.99 L147.06,305.40 L149.24,304.80 L151.42,304.20 L153.60,303.60 L155.78,302.99 L157.96,302.38 L160.14,301.76 L162.32,301.15 L164.50,300.53 L166.68,299.90 L168.86,299.28 L171.04,298.65 L173.22,298.01 L175.40,297.38 L177.58,296.74 L179.76,296.10 L181.94,295.45 L184.12,294.81 L186.30,294.16 L188.48,293.50 L190.66,292.85 L192.84,292.19 L195.02,291.53 L197.20,290.87 L199.38,290.20 L201.56,289.54 L203.74,288.87 L205.92,288.19 L208.10,287.52 L210.28,286.84 L212.46,286.16 L214.64,285.48 L216.82,284.80 L219.00,284.12 L221.18,283.43 L223.36,282.74 L225.54,282.05 L227.72,281.36 L229.90,280.67 L232.08,279.98 L234.26,279.28 L236.44,278.59 L238.62,277.89 L240.80,277.19 L242.98,276.49 L245.16,275.78 L247.34,275.08 L249.52,274.37 L251.70,273.66 L253.88,272.95 L256.06,272.24 L258.24,271.52 L260.42,270.81 L262.59,270.09 L264.77,269.37 L266.95,268.65 L269.13,267.93 L271.31,267.21 L273.49,266.49 L275.67,265.76 L277.85,265.04 L280.03,264.31 L282.21,263.59 L284.39,262.86 L286.57,262.13 L288.75,261.41 L290.93,260.68 L293.11,259.96 L295.29,259.23 L297.47,258.51 L299.65,257.78 L301.83,257.06 L304.01,256.33 L306.19,255.61 L308.37,254.89 L310.55,254.17 L312.73,253.45 L314.91,252.73 L317.09,252.01 L319.27,251.29 L321.45,250.58 L323.63,249.86 L325.81,249.15 L327.99,248.44 L330.17,247.73 L332.35,247.02 L334.53,246.31 L336.71,245.60 L338.89,244.90 L341.07,244.19 L343.25,243.49 L345.43,242.79 L347.61,242.09 L349.79,241.39 L351.97,240.70 L354.15,240.00 L356.33,239.31 L358.51,238.62 L360.69,237.93 L362.87,237.24 L365.05,236.56 L367.23,235.88 L369.41,235.19 L371.59,234.51 L373.77,233.83 L375.95,233.16 L378.13,232.48 L380.31,231.80 L382.49,231.13 L384.67,230.45 L386.85,229.78 L389.03,229.10 L391.21,228.43 L393.39,227.76 L395.57,227.08 L397.75,226.41 L399.93,225.74 L402.11,225.07 L404.29,224.41 L406.47,223.74 L408.65,223.07 L410.83,222.41 L413.01,221.75 L415.19,221.09 L417.37,220.43 L419.55,219.77 L421.73,219.12 L423.91,218.47 L426.09,217.82 L428.27,217.17 L430.45,216.53 L432.63,215.89 L434.81,215.25 L436.99,214.62 L439.17,213.99 L441.35,213.36 L443.53,212.74 L445.71,212.12 L447.89,211.51 L450.07,210.90 L452.25,210.29 L454.43,209.68 L456.61,209.08 L458.79,208.49 L460.97,207.90 L463.15,207.31 L465.33,206.72 L467.51,206.14 L469.69,205.57 L471.87,205.00 L474.05,204.43 L476.23,203.87 L478.41,203.31 L480.59,202.75 L482.77,202.20 L484.95,201.65 L487.13,201.10 L489.31,200.56 L491.49,200.02 L493.67,199.49 L495.85,198.96 L498.03,198.43 L500.21,197.90 L502.39,197.38 L504.57,196.86 L506.75,196.35 L508.93,195.83 L511.11,195.32 L513.29,194.82 L515.47,194.31 L517.65,193.81 L519.83,193.31 L522.01,192.82 L524.19,192.32 L526.37,191.83 L528.55,191.35 L530.73,190.86 L532.91,190.38 L535.09,189.90 L537.27,189.42 L539.45,188.94 L541.63,188.47 L543.81,188.00 L545.99,187.53 L548.17,187.07 L550.35,186.61 L552.53,186.15 L554.71,185.69 L556.89,185.24 L559.07,184.79 L561.25,184.34 L563.43,183.90 L565.61,183.46 L567.79,183.02 L569.97,182.59 L572.15,182.16 L574.33,181.74 L576.51,181.31 L578.69,180.90 L580.87,180.48 L583.05,180.07 L585.23,179.67 L587.41,179.26 L589.58,178.87 L591.76,178.47 L593.94,178.08 L596.12,177.70 L598.30,177.32 L600.48,176.94 L602.66,176.56 L604.84,176.20 L607.02,175.83 L609.20,175.47 L611.38,175.11 L613.56,174.76 L615.74,174.41 L617.92,174.07 L620.10,173.73 L622.28,173.39 L624.46,173.06 L626.64,172.73 L628.82,172.40 L631.00,172.08 L633.18,171.76 L635.36,171.45 L637.54,171.14 L639.72,170.83 L641.90,170.53 L644.08,170.22 L646.26,169.93 L648.44,169.63 L650.62,169.34 L652.80,169.05 L654.98,168.76 L657.16,168.48 L659.34,168.19 L661.52,167.91 L663.70,167.64 L665.88,167.36 L668.06,167.09 L670.24,166.82 L672.42,166.55 L674.60,166.28 L676.78,166.01 L678.96,165.75 L681.14,165.49 L683.32,165.23 L685.50,164.97 L687.68,164.72 L689.86,164.47 L692.04,164.22 L694.22,163.98 L696.40,163.73 L698.58,163.49 L700.76,163.25 L702.94,163.02 L705.12,162.78 L707.30,162.55 L709.48,162.32 L711.66,162.10 L713.84,161.87 L716.02,161.65 L718.20,161.43 L720.38,161.21 L722.56,161.00 L724.74,160.78 L726.92,160.57 L729.10,160.36 L731.28,160.15 L733.46,159.94 L735.64,159.73 L737.82,159.53 L740.00,159.32 L742.18,159.12 L744.36,158.91 L746.54,158.71 L748.72,158.50 L750.90,158.30" fill="none" stroke="#a6fbfb" stroke-width="4.0" clip-path="url(#cA)"/>
<path d="M99.10,317.98 L101.28,317.43 L103.46,316.87 L105.64,316.31 L107.82,315.75 L110.00,315.19 L112.18,314.62 L114.36,314.06 L116.54,313.50 L118.72,312.93 L120.90,312.37 L123.08,311.80 L125.26,311.23 L127.44,310.66 L129.62,310.08 L131.80,309.51 L133.98,308.93 L136.16,308.35 L138.34,307.76 L140.52,307.18 L142.70,306.59 L144.88,305.99 L147.06,305.40 L149.24,304.80 L151.42,304.20 L153.60,303.60 L155.78,302.99 L157.96,302.38 L160.14,301.76 L162.32,301.15 L164.50,300.53 L166.68,299.90 L168.86,299.28 L171.04,298.65 L173.22,298.01 L175.40,297.38 L177.58,296.74 L179.76,296.10 L181.94,295.45 L184.12,294.81 L186.30,294.16 L188.48,293.50 L190.66,292.85 L192.84,292.19 L195.02,291.53 L197.20,290.87 L199.38,290.20 L201.56,289.54 L203.74,288.87 L205.92,288.19 L208.10,287.52 L210.28,286.84 L212.46,286.16 L214.64,285.48 L216.82,284.80 L219.00,284.12 L221.18,283.43 L223.36,282.74 L225.54,282.05 L227.72,281.36 L229.90,280.67 L232.08,279.98 L234.26,279.28 L236.44,278.59 L238.62,277.89 L240.80,277.19 L242.98,276.49 L245.16,275.78 L247.34,275.08 L249.52,274.37 L251.70,273.66 L253.88,272.95 L256.06,272.24 L258.24,271.52 L260.42,270.81 L262.59,270.09 L264.77,269.37 L266.95,268.65 L269.13,267.93 L271.31,267.21 L273.49,266.49 L275.67,265.76 L277.85,265.04 L280.03,264.31 L282.21,263.59 L284.39,262.86 L286.57,262.13 L288.75,261.41 L290.93,260.68 L293.11,259.96 L295.29,259.23 L297.47,258.51 L299.65,257.78 L301.83,257.06 L304.01,256.33 L306.19,255.61 L308.37,254.89 L310.55,254.17 L312.73,253.45 L314.91,252.73 L317.09,252.01 L319.27,251.29 L321.45,250.58 L323.63,249.86 L325.81,249.15 L327.99,248.44 L330.17,247.73 L332.35,247.02 L334.53,246.31 L336.71,245.60 L338.89,244.90 L341.07,244.19 L343.25,243.49 L345.43,242.79 L347.61,242.09 L349.79,241.39 L351.97,240.70 L354.15,240.00 L356.33,239.31 L358.51,238.62 L360.69,237.93 L362.87,237.24 L365.05,236.56 L367.23,235.88 L369.41,235.19 L371.59,234.51 L373.77,233.83 L375.95,233.16 L378.13,232.48 L380.31,231.80 L382.49,231.13 L384.67,230.45 L386.85,229.78 L389.03,229.10 L391.21,228.43 L393.39,227.76 L395.57,227.08 L397.75,226.41 L399.93,225.74 L402.11,225.07 L404.29,224.41 L406.47,223.74 L408.65,223.07 L410.83,222.41 L413.01,221.75 L415.19,221.09 L417.37,220.43 L419.55,219.77 L421.73,219.12 L423.91,218.47 L426.09,217.82 L428.27,217.17 L430.45,216.53 L432.63,215.89 L434.81,215.25 L436.99,214.62 L439.17,213.99 L441.35,213.36 L443.53,212.74 L445.71,212.12 L447.89,211.51 L450.07,210.90 L452.25,210.29 L454.43,209.68 L456.61,209.08 L458.79,208.49 L460.97,207.90 L463.15,207.31 L465.33,206.72 L467.51,206.14 L469.69,205.57 L471.87,205.00 L474.05,204.43 L476.23,203.87 L478.41,203.31 L480.59,202.75 L482.77,202.20 L484.95,201.65 L487.13,201.10 L489.31,200.56 L491.49,200.02 L493.67,199.49 L495.85,198.96 L498.03,198.43 L500.21,197.90 L502.39,197.38 L504.57,196.86 L506.75,196.35 L508.93,195.83 L511.11,195.32 L513.29,194.82 L515.47,194.31 L517.65,193.81 L519.83,193.31 L522.01,192.82 L524.19,192.32 L526.37,191.83 L528.55,191.35 L530.73,190.86 L532.91,190.38 L535.09,189.90 L537.27,189.42 L539.45,188.94 L541.63,188.47 L543.81,188.00 L545.99,187.53 L548.17,187.07 L550.35,186.61 L552.53,186.15 L554.71,185.69 L556.89,185.24 L559.07,184.79 L561.25,184.34 L563.43,183.90 L565.61,183.46 L567.79,183.02 L569.97,182.59 L572.15,182.16 L574.33,181.74 L576.51,181.31 L578.69,180.90 L580.87,180.48 L583.05,180.07 L585.23,179.67 L587.41,179.26 L589.58,178.87 L591.76,178.47 L593.94,178.08 L596.12,177.70 L598.30,177.32 L600.48,176.94 L602.66,176.56 L604.84,176.20 L607.02,175.83 L609.20,175.47 L611.38,175.11 L613.56,174.76 L615.74,174.41 L617.92,174.07 L620.10,173.73 L622.28,173.39 L624.46,173.06 L626.64,172.73 L628.82,172.40 L631.00,172.08 L633.18,171.76 L635.36,171.45 L637.54,171.14 L639.72,170.83 L641.90,170.53 L644.08,170.22 L646.26,169.93 L648.44,169.63 L650.62,169.34 L652.80,169.05 L654.98,168.76 L657.16,168.48 L659.34,168.19 L661.52,167.91 L663.70,167.64 L665.88,167.36 L668.06,167.09 L670.24,166.82 L672.42,166.55 L674.60,166.28 L676.78,166.01 L678.96,165.75 L681.14,165.49 L683.32,165.23 L685.50,164.97 L687.68,164.72 L689.86,164.47 L692.04,164.22 L694.22,163.98 L696.40,163.73 L698.58,163.49 L700.76,163.25 L702.94,163.02 L705.12,162.78 L707.30,162.55 L709.48,162.32 L711.66,162.10 L713.84,161.87 L716.02,161.65 L718.20,161.43 L720.38,161.21 L722.56,161.00 L724.74,160.78 L726.92,160.57 L729.10,160.36 L731.28,160.15 L733.46,159.94 L735.64,159.73 L737.82,159.53 L740.00,159.32 L742.18,159.12 L744.36,158.91 L746.54,158.71 L748.72,158.50 L750.90,158.30" fill="none" stroke="#e60000" stroke-width="1.8" stroke-linejoin="round"/>
<path d="M100.10,470.25 L102.27,470.16 L104.45,470.07 L106.62,469.97 L108.79,469.88 L110.97,469.79 L113.14,469.69 L115.32,469.59 L117.49,469.50 L119.66,469.40 L121.84,469.30 L124.01,469.19 L126.18,469.09 L128.36,468.98 L130.53,468.87 L132.70,468.76 L134.88,468.64 L137.05,468.52 L139.22,468.39 L141.40,468.26 L143.57,468.12 L145.75,467.98 L147.92,467.83 L150.09,467.68 L152.27,467.52 L154.44,467.35 L156.61,467.17 L158.79,466.99 L160.96,466.80 L163.13,466.60 L165.31,466.39 L167.48,466.17 L169.65,465.94 L171.83,465.71 L174.00,465.46 L176.18,465.20 L178.35,464.92 L180.52,464.64 L182.70,464.35 L184.87,464.04 L187.04,463.72 L189.22,463.39 L191.39,463.04 L193.56,462.68 L195.74,462.31 L197.91,461.92 L200.08,461.52 L202.26,461.11 L204.43,460.68 L206.61,460.24 L208.78,459.78 L210.95,459.30 L213.13,458.82 L215.30,458.31 L217.47,457.80 L219.65,457.26 L221.82,456.72 L223.99,456.15 L226.17,455.57 L228.34,454.98 L230.51,454.37 L232.69,453.75 L234.86,453.11 L237.04,452.45 L239.21,451.78 L241.38,451.10 L243.56,450.40 L245.73,449.69 L247.90,448.96 L250.08,448.23 L252.25,447.47 L254.42,446.71 L256.60,445.94 L258.77,445.16 L260.94,444.36 L263.12,443.56 L265.29,442.75 L267.47,441.94 L269.64,441.12 L271.81,440.29 L273.99,439.45 L276.16,438.62 L278.33,437.78 L280.51,436.93 L282.68,436.08 L284.85,435.23 L287.03,434.38 L289.20,433.53 L291.37,432.68 L293.55,431.83 L295.72,430.98 L297.90,430.12 L300.07,429.28 L302.24,428.43 L304.42,427.58 L306.59,426.73 L308.76,425.89 L310.94,425.05 L313.11,424.21 L315.28,423.37 L317.46,422.53 L319.63,421.70 L321.81,420.86 L323.98,420.04 L326.15,419.21 L328.33,418.39 L330.50,417.57 L332.67,416.75 L334.85,415.94 L337.02,415.13 L339.19,414.32 L341.37,413.52 L343.54,412.72 L345.71,411.93 L347.89,411.14 L350.06,410.35 L352.24,409.57 L354.41,408.79 L356.58,408.01 L358.76,407.24 L360.93,406.47 L363.10,405.70 L365.28,404.94 L367.45,404.17 L369.62,403.42 L371.80,402.66 L373.97,401.90 L376.14,401.15 L378.32,400.40 L380.49,399.64 L382.67,398.89 L384.84,398.14 L387.01,397.38 L389.19,396.63 L391.36,395.87 L393.53,395.11 L395.71,394.35 L397.88,393.60 L400.05,392.84 L402.23,392.07 L404.40,391.31 L406.57,390.55 L408.75,389.79 L410.92,389.03 L413.10,388.27 L415.27,387.51 L417.44,386.75 L419.62,385.99 L421.79,385.23 L423.96,384.47 L426.14,383.72 L428.31,382.96 L430.48,382.21 L432.66,381.46 L434.83,380.71 L437.00,379.96 L439.18,379.21 L441.35,378.47 L443.53,377.73 L445.70,376.99 L447.87,376.25 L450.05,375.52 L452.22,374.79 L454.39,374.06 L456.57,373.34 L458.74,372.62 L460.91,371.90 L463.09,371.18 L465.26,370.47 L467.43,369.76 L469.61,369.06 L471.78,368.36 L473.96,367.66 L476.13,366.97 L478.30,366.28 L480.48,365.59 L482.65,364.91 L484.82,364.22 L487.00,363.55 L489.17,362.87 L491.34,362.20 L493.52,361.54 L495.69,360.87 L497.86,360.21 L500.04,359.55 L502.21,358.90 L504.39,358.25 L506.56,357.60 L508.73,356.95 L510.91,356.31 L513.08,355.66 L515.25,355.02 L517.43,354.39 L519.60,353.75 L521.77,353.12 L523.95,352.49 L526.12,351.86 L528.29,351.24 L530.47,350.61 L532.64,349.99 L534.82,349.37 L536.99,348.76 L539.16,348.14 L541.34,347.53 L543.51,346.93 L545.68,346.32 L547.86,345.72 L550.03,345.12 L552.20,344.53 L554.38,343.94 L556.55,343.35 L558.73,342.77 L560.90,342.19 L563.07,341.62 L565.25,341.05 L567.42,340.49 L569.59,339.93 L571.77,339.38 L573.94,338.83 L576.11,338.29 L578.29,337.75 L580.46,337.23 L582.63,336.70 L584.81,336.19 L586.98,335.68 L589.16,335.17 L591.33,334.67 L593.50,334.18 L595.68,333.70 L597.85,333.22 L600.02,332.74 L602.20,332.27 L604.37,331.81 L606.54,331.35 L608.72,330.90 L610.89,330.45 L613.06,330.01 L615.24,329.57 L617.41,329.14 L619.59,328.72 L621.76,328.29 L623.93,327.88 L626.11,327.46 L628.28,327.06 L630.45,326.65 L632.63,326.25 L634.80,325.86 L636.97,325.47 L639.15,325.08 L641.32,324.69 L643.49,324.31 L645.67,323.93 L647.84,323.56 L650.02,323.19 L652.19,322.82 L654.36,322.45 L656.54,322.09 L658.71,321.73 L660.88,321.38 L663.06,321.03 L665.23,320.68 L667.40,320.33 L669.58,319.99 L671.75,319.64 L673.92,319.31 L676.10,318.97 L678.27,318.64 L680.45,318.31 L682.62,317.99 L684.79,317.67 L686.97,317.35 L689.14,317.03 L691.31,316.72 L693.49,316.41 L695.66,316.11 L697.83,315.80 L700.01,315.50 L702.18,315.21 L704.35,314.91 L706.53,314.62 L708.70,314.33 L710.88,314.05 L713.05,313.76 L715.22,313.48 L717.40,313.21 L719.57,312.93 L721.74,312.66 L723.92,312.39 L726.09,312.12 L728.26,311.85 L730.44,311.59 L732.61,311.33 L734.78,311.06 L736.96,310.80 L739.13,310.54 L741.31,310.28 L743.48,310.02 L745.65,309.77 L747.83,309.51 L750.00,309.25" fill="none" stroke="#e4f4e2" stroke-width="3.8000000000000003" clip-path="url(#cA)"/>
<path d="M100.10,470.25 L102.27,470.16 L104.45,470.07 L106.62,469.97 L108.79,469.88 L110.97,469.79 L113.14,469.69 L115.32,469.59 L117.49,469.50 L119.66,469.40 L121.84,469.30 L124.01,469.19 L126.18,469.09 L128.36,468.98 L130.53,468.87 L132.70,468.76 L134.88,468.64 L137.05,468.52 L139.22,468.39 L141.40,468.26 L143.57,468.12 L145.75,467.98 L147.92,467.83 L150.09,467.68 L152.27,467.52 L154.44,467.35 L156.61,467.17 L158.79,466.99 L160.96,466.80 L163.13,466.60 L165.31,466.39 L167.48,466.17 L169.65,465.94 L171.83,465.71 L174.00,465.46 L176.18,465.20 L178.35,464.92 L180.52,464.64 L182.70,464.35 L184.87,464.04 L187.04,463.72 L189.22,463.39 L191.39,463.04 L193.56,462.68 L195.74,462.31 L197.91,461.92 L200.08,461.52 L202.26,461.11 L204.43,460.68 L206.61,460.24 L208.78,459.78 L210.95,459.30 L213.13,458.82 L215.30,458.31 L217.47,457.80 L219.65,457.26 L221.82,456.72 L223.99,456.15 L226.17,455.57 L228.34,454.98 L230.51,454.37 L232.69,453.75 L234.86,453.11 L237.04,452.45 L239.21,451.78 L241.38,451.10 L243.56,450.40 L245.73,449.69 L247.90,448.96 L250.08,448.23 L252.25,447.47 L254.42,446.71 L256.60,445.94 L258.77,445.16 L260.94,444.36 L263.12,443.56 L265.29,442.75 L267.47,441.94 L269.64,441.12 L271.81,440.29 L273.99,439.45 L276.16,438.62 L278.33,437.78 L280.51,436.93 L282.68,436.08 L284.85,435.23 L287.03,434.38 L289.20,433.53 L291.37,432.68 L293.55,431.83 L295.72,430.98 L297.90,430.12 L300.07,429.28 L302.24,428.43 L304.42,427.58 L306.59,426.73 L308.76,425.89 L310.94,425.05 L313.11,424.21 L315.28,423.37 L317.46,422.53 L319.63,421.70 L321.81,420.86 L323.98,420.04 L326.15,419.21 L328.33,418.39 L330.50,417.57 L332.67,416.75 L334.85,415.94 L337.02,415.13 L339.19,414.32 L341.37,413.52 L343.54,412.72 L345.71,411.93 L347.89,411.14 L350.06,410.35 L352.24,409.57 L354.41,408.79 L356.58,408.01 L358.76,407.24 L360.93,406.47 L363.10,405.70 L365.28,404.94 L367.45,404.17 L369.62,403.42 L371.80,402.66 L373.97,401.90 L376.14,401.15 L378.32,400.40 L380.49,399.64 L382.67,398.89 L384.84,398.14 L387.01,397.38 L389.19,396.63 L391.36,395.87 L393.53,395.11 L395.71,394.35 L397.88,393.60 L400.05,392.84 L402.23,392.07 L404.40,391.31 L406.57,390.55 L408.75,389.79 L410.92,389.03 L413.10,388.27 L415.27,387.51 L417.44,386.75 L419.62,385.99 L421.79,385.23 L423.96,384.47 L426.14,383.72 L428.31,382.96 L430.48,382.21 L432.66,381.46 L434.83,380.71 L437.00,379.96 L439.18,379.21 L441.35,378.47 L443.53,377.73 L445.70,376.99 L447.87,376.25 L450.05,375.52 L452.22,374.79 L454.39,374.06 L456.57,373.34 L458.74,372.62 L460.91,371.90 L463.09,371.18 L465.26,370.47 L467.43,369.76 L469.61,369.06 L471.78,368.36 L473.96,367.66 L476.13,366.97 L478.30,366.28 L480.48,365.59 L482.65,364.91 L484.82,364.22 L487.00,363.55 L489.17,362.87 L491.34,362.20 L493.52,361.54 L495.69,360.87 L497.86,360.21 L500.04,359.55 L502.21,358.90 L504.39,358.25 L506.56,357.60 L508.73,356.95 L510.91,356.31 L513.08,355.66 L515.25,355.02 L517.43,354.39 L519.60,353.75 L521.77,353.12 L523.95,352.49 L526.12,351.86 L528.29,351.24 L530.47,350.61 L532.64,349.99 L534.82,349.37 L536.99,348.76 L539.16,348.14 L541.34,347.53 L543.51,346.93 L545.68,346.32 L547.86,345.72 L550.03,345.12 L552.20,344.53 L554.38,343.94 L556.55,343.35 L558.73,342.77 L560.90,342.19 L563.07,341.62 L565.25,341.05 L567.42,340.49 L569.59,339.93 L571.77,339.38 L573.94,338.83 L576.11,338.29 L578.29,337.75 L580.46,337.23 L582.63,336.70 L584.81,336.19 L586.98,335.68 L589.16,335.17 L591.33,334.67 L593.50,334.18 L595.68,333.70 L597.85,333.22 L600.02,332.74 L602.20,332.27 L604.37,331.81 L606.54,331.35 L608.72,330.90 L610.89,330.45 L613.06,330.01 L615.24,329.57 L617.41,329.14 L619.59,328.72 L621.76,328.29 L623.93,327.88 L626.11,327.46 L628.28,327.06 L630.45,326.65 L632.63,326.25 L634.80,325.86 L636.97,325.47 L639.15,325.08 L641.32,324.69 L643.49,324.31 L645.67,323.93 L647.84,323.56 L650.02,323.19 L652.19,322.82 L654.36,322.45 L656.54,322.09 L658.71,321.73 L660.88,321.38 L663.06,321.03 L665.23,320.68 L667.40,320.33 L669.58,319.99 L671.75,319.64 L673.92,319.31 L676.10,318.97 L678.27,318.64 L680.45,318.31 L682.62,317.99 L684.79,317.67 L686.97,317.35 L689.14,317.03 L691.31,316.72 L693.49,316.41 L695.66,316.11 L697.83,315.80 L700.01,315.50 L702.18,315.21 L704.35,314.91 L706.53,314.62 L708.70,314.33 L710.88,314.05 L713.05,313.76 L715.22,313.48 L717.40,313.21 L719.57,312.93 L721.74,312.66 L723.92,312.39 L726.09,312.12 L728.26,311.85 L730.44,311.59 L732.61,311.33 L734.78,311.06 L736.96,310.80 L739.13,310.54 L741.31,310.28 L743.48,310.02 L745.65,309.77 L747.83,309.51 L750.00,309.25" fill="none" stroke="#1a4f96" stroke-width="1.6" stroke-linejoin="round"/>
<path d="M183.89,11.50 L184.80,13.07 L185.71,14.64 L186.62,16.21 L187.53,17.77 L188.44,19.34 L189.36,20.91 L190.27,22.48 L191.18,24.05 L192.09,25.62 L193.00,27.19 L193.91,28.75 L194.82,30.32 L195.74,31.89 L196.65,33.46 L197.57,35.03 L198.48,36.60 L199.40,38.17 L200.31,39.73 L201.23,41.30 L202.15,42.87 L203.07,44.44 L203.99,46.01 L204.91,47.58 L205.83,49.15 L206.76,50.71 L207.68,52.28 L208.61,53.85 L209.53,55.42 L210.46,56.99 L211.39,58.56 L212.32,60.13 L213.26,61.69 L214.19,63.26 L215.13,64.83 L216.06,66.40 L217.00,67.97 L217.95,69.54 L218.89,71.11 L219.83,72.67 L220.78,74.24 L221.73,75.81 L222.68,77.38 L223.63,78.95 L224.58,80.52 L225.54,82.09 L226.49,83.65 L227.45,85.22 L228.41,86.79 L229.38,88.36 L230.34,89.93 L231.31,91.50 L232.28,93.07 L233.25,94.63 L234.22,96.20 L235.19,97.77 L236.17,99.34 L237.15,100.91 L238.13,102.48 L239.11,104.05 L240.09,105.61 L241.07,107.18 L242.06,108.75 L243.05,110.32 L244.04,111.89 L245.03,113.46 L246.02,115.03 L247.01,116.59 L248.01,118.16 L249.00,119.73 L250.00,121.30 L251.00,122.87 L252.00,124.44 L253.00,126.01 L254.01,127.57 L255.01,129.14 L256.02,130.71 L257.03,132.28 L258.04,133.85 L259.05,135.42 L260.06,136.98 L261.08,138.55 L262.10,140.12 L263.11,141.69 L264.13,143.26 L265.15,144.83 L266.17,146.40 L267.20,147.96 L268.22,149.53 L269.25,151.10 L270.28,152.67 L271.30,154.24 L272.33,155.81 L273.37,157.38 L274.40,158.94 L275.43,160.51 L276.47,162.08 L277.50,163.65 L278.54,165.22 L279.58,166.79 L280.62,168.36 L281.66,169.92 L282.70,171.49 L283.74,173.06 L284.78,174.63 L285.82,176.20 L286.87,177.77 L287.91,179.34 L288.96,180.90 L290.00,182.47 L291.05,184.04 L292.10,185.61 L293.15,187.18 L294.19,188.75 L295.24,190.32 L296.29,191.88 L297.34,193.45 L298.39,195.02 L299.45,196.59 L300.50,198.16 L301.55,199.73 L302.60,201.30 L303.65,202.86 L304.71,204.43 L305.76,206.00 L306.82,207.57 L307.87,209.14 L308.93,210.71 L309.99,212.28 L311.05,213.84 L312.11,215.41 L313.17,216.98 L314.23,218.55 L315.29,220.12 L316.35,221.69 L317.42,223.26 L318.48,224.82 L319.55,226.39 L320.62,227.96 L321.69,229.53 L322.76,231.10 L323.83,232.67 L324.90,234.24 L325.98,235.80 L327.05,237.37 L328.13,238.94 L329.21,240.51 L330.29,242.08 L331.38,243.65 L332.46,245.22 L333.55,246.78 L334.64,248.35 L335.73,249.92 L336.82,251.49 L337.91,253.06 L339.01,254.63 L340.11,256.20 L341.21,257.76 L342.31,259.33 L343.41,260.90 L344.52,262.47 L345.62,264.04 L346.73,265.61 L347.85,267.18 L348.96,268.74 L350.08,270.31 L351.20,271.88 L352.32,273.45 L353.44,275.02 L354.56,276.59 L355.69,278.16 L356.82,279.72 L357.95,281.29 L359.09,282.86 L360.23,284.43 L361.37,286.00 L362.51,287.57 L363.65,289.14 L364.80,290.70 L365.95,292.27 L367.10,293.84 L368.25,295.41 L369.41,296.98 L370.57,298.55 L371.73,300.12 L372.89,301.68 L374.06,303.25 L375.22,304.82 L376.39,306.39 L377.57,307.96 L378.74,309.53 L379.92,311.10 L381.10,312.66 L382.28,314.23 L383.46,315.80 L384.65,317.37 L385.84,318.94 L387.03,320.51 L388.23,322.08 L389.42,323.64 L390.62,325.21 L391.82,326.78 L393.03,328.35 L394.23,329.92 L395.44,331.49 L396.65,333.06 L397.86,334.62 L399.08,336.19 L400.30,337.76 L401.52,339.33 L402.74,340.90 L403.97,342.47 L405.19,344.04 L406.42,345.60 L407.66,347.17 L408.89,348.74 L410.13,350.31 L411.37,351.88 L412.61,353.45 L413.85,355.02 L415.10,356.58 L416.35,358.15 L417.60,359.72 L418.85,361.29 L420.11,362.86 L421.37,364.43 L422.63,365.99 L423.89,367.56 L425.16,369.13 L426.42,370.70 L427.69,372.27 L428.97,373.84 L430.24,375.41 L431.52,376.97 L432.80,378.54 L434.08,380.11 L435.37,381.68 L436.65,383.25 L437.94,384.82 L439.24,386.39 L440.53,387.95 L441.83,389.52 L443.13,391.09 L444.43,392.66 L445.73,394.23 L447.04,395.80 L448.35,397.37 L449.66,398.93 L450.98,400.50 L452.29,402.07 L453.61,403.64 L454.94,405.21 L456.26,406.78 L457.59,408.35 L458.92,409.91 L460.25,411.48 L461.58,413.05 L462.92,414.62 L464.26,416.19 L465.60,417.76 L466.94,419.33 L468.28,420.89 L469.63,422.46 L470.98,424.03 L472.33,425.60 L473.68,427.17 L475.03,428.74 L476.39,430.31 L477.74,431.87 L479.10,433.44 L480.46,435.01 L481.82,436.58 L483.18,438.15 L484.54,439.72 L485.91,441.29 L487.27,442.85 L488.64,444.42 L490.00,445.99 L491.37,447.56 L492.74,449.13 L494.11,450.70 L495.48,452.27 L496.85,453.83 L498.22,455.40 L499.59,456.97 L500.96,458.54 L502.33,460.11 L503.70,461.68 L505.08,463.25 L506.45,464.81 L507.82,466.38 L509.19,467.95 L510.57,469.52 L511.94,471.09 L513.32,472.66 L514.69,474.23 L516.06,475.79 L517.44,477.36 L518.81,478.93 L520.18,480.50" fill="none" stroke="#d6f6f6" stroke-width="4.0" clip-path="url(#cA)"/>
<path d="M183.89,11.50 L184.80,13.07 L185.71,14.64 L186.62,16.21 L187.53,17.77 L188.44,19.34 L189.36,20.91 L190.27,22.48 L191.18,24.05 L192.09,25.62 L193.00,27.19 L193.91,28.75 L194.82,30.32 L195.74,31.89 L196.65,33.46 L197.57,35.03 L198.48,36.60 L199.40,38.17 L200.31,39.73 L201.23,41.30 L202.15,42.87 L203.07,44.44 L203.99,46.01 L204.91,47.58 L205.83,49.15 L206.76,50.71 L207.68,52.28 L208.61,53.85 L209.53,55.42 L210.46,56.99 L211.39,58.56 L212.32,60.13 L213.26,61.69 L214.19,63.26 L215.13,64.83 L216.06,66.40 L217.00,67.97 L217.95,69.54 L218.89,71.11 L219.83,72.67 L220.78,74.24 L221.73,75.81 L222.68,77.38 L223.63,78.95 L224.58,80.52 L225.54,82.09 L226.49,83.65 L227.45,85.22 L228.41,86.79 L229.38,88.36 L230.34,89.93 L231.31,91.50 L232.28,93.07 L233.25,94.63 L234.22,96.20 L235.19,97.77 L236.17,99.34 L237.15,100.91 L238.13,102.48 L239.11,104.05 L240.09,105.61 L241.07,107.18 L242.06,108.75 L243.05,110.32 L244.04,111.89 L245.03,113.46 L246.02,115.03 L247.01,116.59 L248.01,118.16 L249.00,119.73 L250.00,121.30 L251.00,122.87 L252.00,124.44 L253.00,126.01 L254.01,127.57 L255.01,129.14 L256.02,130.71 L257.03,132.28 L258.04,133.85 L259.05,135.42 L260.06,136.98 L261.08,138.55 L262.10,140.12 L263.11,141.69 L264.13,143.26 L265.15,144.83 L266.17,146.40 L267.20,147.96 L268.22,149.53 L269.25,151.10 L270.28,152.67 L271.30,154.24 L272.33,155.81 L273.37,157.38 L274.40,158.94 L275.43,160.51 L276.47,162.08 L277.50,163.65 L278.54,165.22 L279.58,166.79 L280.62,168.36 L281.66,169.92 L282.70,171.49 L283.74,173.06 L284.78,174.63 L285.82,176.20 L286.87,177.77 L287.91,179.34 L288.96,180.90 L290.00,182.47 L291.05,184.04 L292.10,185.61 L293.15,187.18 L294.19,188.75 L295.24,190.32 L296.29,191.88 L297.34,193.45 L298.39,195.02 L299.45,196.59 L300.50,198.16 L301.55,199.73 L302.60,201.30 L303.65,202.86 L304.71,204.43 L305.76,206.00 L306.82,207.57 L307.87,209.14 L308.93,210.71 L309.99,212.28 L311.05,213.84 L312.11,215.41 L313.17,216.98 L314.23,218.55 L315.29,220.12 L316.35,221.69 L317.42,223.26 L318.48,224.82 L319.55,226.39 L320.62,227.96 L321.69,229.53 L322.76,231.10 L323.83,232.67 L324.90,234.24 L325.98,235.80 L327.05,237.37 L328.13,238.94 L329.21,240.51 L330.29,242.08 L331.38,243.65 L332.46,245.22 L333.55,246.78 L334.64,248.35 L335.73,249.92 L336.82,251.49 L337.91,253.06 L339.01,254.63 L340.11,256.20 L341.21,257.76 L342.31,259.33 L343.41,260.90 L344.52,262.47 L345.62,264.04 L346.73,265.61 L347.85,267.18 L348.96,268.74 L350.08,270.31 L351.20,271.88 L352.32,273.45 L353.44,275.02 L354.56,276.59 L355.69,278.16 L356.82,279.72 L357.95,281.29 L359.09,282.86 L360.23,284.43 L361.37,286.00 L362.51,287.57 L363.65,289.14 L364.80,290.70 L365.95,292.27 L367.10,293.84 L368.25,295.41 L369.41,296.98 L370.57,298.55 L371.73,300.12 L372.89,301.68 L374.06,303.25 L375.22,304.82 L376.39,306.39 L377.57,307.96 L378.74,309.53 L379.92,311.10 L381.10,312.66 L382.28,314.23 L383.46,315.80 L384.65,317.37 L385.84,318.94 L387.03,320.51 L388.23,322.08 L389.42,323.64 L390.62,325.21 L391.82,326.78 L393.03,328.35 L394.23,329.92 L395.44,331.49 L396.65,333.06 L397.86,334.62 L399.08,336.19 L400.30,337.76 L401.52,339.33 L402.74,340.90 L403.97,342.47 L405.19,344.04 L406.42,345.60 L407.66,347.17 L408.89,348.74 L410.13,350.31 L411.37,351.88 L412.61,353.45 L413.85,355.02 L415.10,356.58 L416.35,358.15 L417.60,359.72 L418.85,361.29 L420.11,362.86 L421.37,364.43 L422.63,365.99 L423.89,367.56 L425.16,369.13 L426.42,370.70 L427.69,372.27 L428.97,373.84 L430.24,375.41 L431.52,376.97 L432.80,378.54 L434.08,380.11 L435.37,381.68 L436.65,383.25 L437.94,384.82 L439.24,386.39 L440.53,387.95 L441.83,389.52 L443.13,391.09 L444.43,392.66 L445.73,394.23 L447.04,395.80 L448.35,397.37 L449.66,398.93 L450.98,400.50 L452.29,402.07 L453.61,403.64 L454.94,405.21 L456.26,406.78 L457.59,408.35 L458.92,409.91 L460.25,411.48 L461.58,413.05 L462.92,414.62 L464.26,416.19 L465.60,417.76 L466.94,419.33 L468.28,420.89 L469.63,422.46 L470.98,424.03 L472.33,425.60 L473.68,427.17 L475.03,428.74 L476.39,430.31 L477.74,431.87 L479.10,433.44 L480.46,435.01 L481.82,436.58 L483.18,438.15 L484.54,439.72 L485.91,441.29 L487.27,442.85 L488.64,444.42 L490.00,445.99 L491.37,447.56 L492.74,449.13 L494.11,450.70 L495.48,452.27 L496.85,453.83 L498.22,455.40 L499.59,456.97 L500.96,458.54 L502.33,460.11 L503.70,461.68 L505.08,463.25 L506.45,464.81 L507.82,466.38 L509.19,467.95 L510.57,469.52 L511.94,471.09 L513.32,472.66 L514.69,474.23 L516.06,475.79 L517.44,477.36 L518.81,478.93 L520.18,480.50" fill="none" stroke="#000" stroke-width="1.8" stroke-linejoin="round"/>
<line x1="103.1" y1="11.3" x2="103.1" y2="481" stroke="#000" stroke-width="1.7" stroke-linecap="butt"/>
<line x1="80.05" y1="10.4" x2="80.05" y2="481.9" stroke="#000" stroke-width="1.7" stroke-linecap="butt"/>
<line x1="71.05" y1="480.67" x2="80.05" y2="480.67" stroke="#000" stroke-width="1.7" stroke-linecap="butt"/>
<text x="64.75" y="487.47" font-size="22.4" fill="#000" text-anchor="end">0</text>
<line x1="71.05" y1="413.61" x2="80.05" y2="413.61" stroke="#000" stroke-width="1.7" stroke-linecap="butt"/>
<text x="64.75" y="420.41" font-size="22.4" fill="#000" text-anchor="end">10</text>
<line x1="71.05" y1="346.55" x2="80.05" y2="346.55" stroke="#000" stroke-width="1.7" stroke-linecap="butt"/>
<text x="64.75" y="353.35" font-size="22.4" fill="#000" text-anchor="end">20</text>
<line x1="71.05" y1="279.49" x2="80.05" y2="279.49" stroke="#000" stroke-width="1.7" stroke-linecap="butt"/>
<text x="64.75" y="286.29" font-size="22.4" fill="#000" text-anchor="end">30</text>
<line x1="71.05" y1="212.43" x2="80.05" y2="212.43" stroke="#000" stroke-width="1.7" stroke-linecap="butt"/>
<text x="64.75" y="219.23" font-size="22.4" fill="#000" text-anchor="end">40</text>
<line x1="71.05" y1="145.37" x2="80.05" y2="145.37" stroke="#000" stroke-width="1.7" stroke-linecap="butt"/>
<text x="64.75" y="152.17" font-size="22.4" fill="#000" text-anchor="end">50</text>
<line x1="71.05" y1="78.31" x2="80.05" y2="78.31" stroke="#000" stroke-width="1.7" stroke-linecap="butt"/>
<text x="64.75" y="85.11" font-size="22.4" fill="#000" text-anchor="end">60</text>
<line x1="71.05" y1="11.25" x2="80.05" y2="11.25" stroke="#000" stroke-width="1.7" stroke-linecap="butt"/>
<text x="64.75" y="18.05" font-size="22.4" fill="#000" text-anchor="end">70</text>
<line x1="75.15" y1="447.14" x2="80.05" y2="447.14" stroke="#000" stroke-width="1.7" stroke-linecap="butt"/>
<line x1="75.15" y1="380.08" x2="80.05" y2="380.08" stroke="#000" stroke-width="1.7" stroke-linecap="butt"/>
<line x1="75.15" y1="313.02" x2="80.05" y2="313.02" stroke="#000" stroke-width="1.7" stroke-linecap="butt"/>
<line x1="75.15" y1="245.96" x2="80.05" y2="245.96" stroke="#000" stroke-width="1.7" stroke-linecap="butt"/>
<line x1="75.15" y1="178.9" x2="80.05" y2="178.9" stroke="#000" stroke-width="1.7" stroke-linecap="butt"/>
<line x1="75.15" y1="111.84" x2="80.05" y2="111.84" stroke="#000" stroke-width="1.7" stroke-linecap="butt"/>
<line x1="75.15" y1="44.78" x2="80.05" y2="44.78" stroke="#000" stroke-width="1.7" stroke-linecap="butt"/>
<line x1="80.05" y1="481.05" x2="86.7" y2="481.05" stroke="#000" stroke-width="1.7" stroke-linecap="butt"/>
<line x1="100.3" y1="481.05" x2="752.1" y2="481.05" stroke="#000" stroke-width="1.7" stroke-linecap="butt"/>
<line x1="99.27" y1="481.05" x2="99.27" y2="489.6" stroke="#000" stroke-width="1.7" stroke-linecap="butt"/>
<text x="99.27" y="513.3" font-size="22.4" fill="#000" text-anchor="middle">2.2</text>
<line x1="165.2" y1="481.05" x2="165.2" y2="489.6" stroke="#000" stroke-width="1.7" stroke-linecap="butt"/>
<text x="165.2" y="513.3" font-size="22.4" fill="#000" text-anchor="middle">4</text>
<line x1="238.46" y1="481.05" x2="238.46" y2="489.6" stroke="#000" stroke-width="1.7" stroke-linecap="butt"/>
<text x="238.46" y="513.3" font-size="22.4" fill="#000" text-anchor="middle">6</text>
<line x1="311.72" y1="481.05" x2="311.72" y2="489.6" stroke="#000" stroke-width="1.7" stroke-linecap="butt"/>
<text x="311.72" y="513.3" font-size="22.4" fill="#000" text-anchor="middle">8</text>
<line x1="384.98" y1="481.05" x2="384.98" y2="489.6" stroke="#000" stroke-width="1.7" stroke-linecap="butt"/>
<text x="384.98" y="513.3" font-size="22.4" fill="#000" text-anchor="middle">10</text>
<line x1="458.24" y1="481.05" x2="458.24" y2="489.6" stroke="#000" stroke-width="1.7" stroke-linecap="butt"/>
<text x="458.24" y="513.3" font-size="22.4" fill="#000" text-anchor="middle">12</text>
<line x1="531.5" y1="481.05" x2="531.5" y2="489.6" stroke="#000" stroke-width="1.7" stroke-linecap="butt"/>
<text x="531.5" y="513.3" font-size="22.4" fill="#000" text-anchor="middle">14</text>
<line x1="604.76" y1="481.05" x2="604.76" y2="489.6" stroke="#000" stroke-width="1.7" stroke-linecap="butt"/>
<text x="604.76" y="513.3" font-size="22.4" fill="#000" text-anchor="middle">16</text>
<line x1="678.02" y1="481.05" x2="678.02" y2="489.6" stroke="#000" stroke-width="1.7" stroke-linecap="butt"/>
<text x="678.02" y="513.3" font-size="22.4" fill="#000" text-anchor="middle">18</text>
<line x1="751.28" y1="481.05" x2="751.28" y2="489.6" stroke="#000" stroke-width="1.7" stroke-linecap="butt"/>
<text x="751.28" y="513.3" font-size="22.4" fill="#000" text-anchor="middle">20</text>
<line x1="201.83" y1="481.05" x2="201.83" y2="485.7" stroke="#000" stroke-width="1.7" stroke-linecap="butt"/>
<line x1="275.09" y1="481.05" x2="275.09" y2="485.7" stroke="#000" stroke-width="1.7" stroke-linecap="butt"/>
<line x1="348.35" y1="481.05" x2="348.35" y2="485.7" stroke="#000" stroke-width="1.7" stroke-linecap="butt"/>
<line x1="421.61" y1="481.05" x2="421.61" y2="485.7" stroke="#000" stroke-width="1.7" stroke-linecap="butt"/>
<line x1="494.87" y1="481.05" x2="494.87" y2="485.7" stroke="#000" stroke-width="1.7" stroke-linecap="butt"/>
<line x1="568.13" y1="481.05" x2="568.13" y2="485.7" stroke="#000" stroke-width="1.7" stroke-linecap="butt"/>
<line x1="641.39" y1="481.05" x2="641.39" y2="485.7" stroke="#000" stroke-width="1.7" stroke-linecap="butt"/>
<line x1="714.65" y1="481.05" x2="714.65" y2="485.7" stroke="#000" stroke-width="1.7" stroke-linecap="butt"/>
<line x1="82.4" y1="489.7" x2="93.4" y2="472.4" stroke="#000" stroke-width="1.7" stroke-linecap="butt"/>
<line x1="94.1" y1="489.7" x2="105.1" y2="472.7" stroke="#000" stroke-width="1.7" stroke-linecap="butt"/>
<text x="416" y="552.4" font-size="24.2" fill="#000" text-anchor="middle">Moisture content (% dry weight)</text>
<text transform="translate(19.45,244.75) rotate(-90)" font-size="24.2" fill="#000" text-anchor="middle"><tspan font-style="italic">T</tspan><tspan font-size="17" dy="6.9">g</tspan><tspan dy="-6.9"> (°C)</tspan></text>
<text x="2.6" y="24.65" font-size="30.4" fill="#000" text-anchor="start" font-weight="bold">A</text>
<line x1="764" y1="123" x2="764" y2="325.7" stroke="#e8141b" stroke-width="1.4" stroke-linecap="butt"/>
<line x1="758.1" y1="325" x2="764" y2="325" stroke="#e8141b" stroke-width="1.4" stroke-linecap="butt"/>
<text x="770.2" y="330.88" font-size="19.7" fill="#e60000" text-anchor="start">0</text>
<line x1="761" y1="304.87" x2="764" y2="304.87" stroke="#e8141b" stroke-width="1.4" stroke-linecap="butt"/>
<line x1="758.1" y1="284.74" x2="764" y2="284.74" stroke="#e8141b" stroke-width="1.4" stroke-linecap="butt"/>
<text x="770.2" y="290.62" font-size="19.7" fill="#e60000" text-anchor="start">20</text>
<line x1="761" y1="264.61" x2="764" y2="264.61" stroke="#e8141b" stroke-width="1.4" stroke-linecap="butt"/>
<line x1="758.1" y1="244.48" x2="764" y2="244.48" stroke="#e8141b" stroke-width="1.4" stroke-linecap="butt"/>
<text x="770.2" y="250.36" font-size="19.7" fill="#e60000" text-anchor="start">40</text>
<line x1="761" y1="224.35" x2="764" y2="224.35" stroke="#e8141b" stroke-width="1.4" stroke-linecap="butt"/>
<line x1="758.1" y1="204.22" x2="764" y2="204.22" stroke="#e8141b" stroke-width="1.4" stroke-linecap="butt"/>
<text x="770.2" y="210.1" font-size="19.7" fill="#e60000" text-anchor="start">60</text>
<line x1="761" y1="184.09" x2="764" y2="184.09" stroke="#e8141b" stroke-width="1.4" stroke-linecap="butt"/>
<line x1="758.1" y1="163.96" x2="764" y2="163.96" stroke="#e8141b" stroke-width="1.4" stroke-linecap="butt"/>
<text x="770.2" y="169.84" font-size="19.7" fill="#e60000" text-anchor="start">80</text>
<line x1="761" y1="143.83" x2="764" y2="143.83" stroke="#e8141b" stroke-width="1.4" stroke-linecap="butt"/>
<line x1="758.1" y1="123.7" x2="764" y2="123.7" stroke="#e8141b" stroke-width="1.4" stroke-linecap="butt"/>
<text x="770.2" y="129.58" font-size="19.7" fill="#e60000" text-anchor="start">100</text>
<text transform="translate(830.3,207.5) rotate(-90)" font-size="22.5" fill="#e60000" text-anchor="middle">eRH (%) at 35°C</text>
<line x1="790.7" y1="309.1" x2="790.7" y2="471.3" stroke="#2a5c9e" stroke-width="1.4" stroke-linecap="butt"/>
<line x1="784.8" y1="470.6" x2="790.7" y2="470.6" stroke="#2a5c9e" stroke-width="1.4" stroke-linecap="butt"/>
<text x="796.9" y="475.67" font-size="17.4" fill="#08307f" text-anchor="start">0</text>
<line x1="787.7" y1="450.5" x2="790.7" y2="450.5" stroke="#2a5c9e" stroke-width="1.4" stroke-linecap="butt"/>
<line x1="784.8" y1="430.4" x2="790.7" y2="430.4" stroke="#2a5c9e" stroke-width="1.4" stroke-linecap="butt"/>
<text x="796.9" y="435.47" font-size="17.4" fill="#08307f" text-anchor="start">20</text>
<line x1="787.7" y1="410.3" x2="790.7" y2="410.3" stroke="#2a5c9e" stroke-width="1.4" stroke-linecap="butt"/>
<line x1="784.8" y1="390.2" x2="790.7" y2="390.2" stroke="#2a5c9e" stroke-width="1.4" stroke-linecap="butt"/>
<text x="796.9" y="395.27" font-size="17.4" fill="#08307f" text-anchor="start">40</text>
<line x1="787.7" y1="370.1" x2="790.7" y2="370.1" stroke="#2a5c9e" stroke-width="1.4" stroke-linecap="butt"/>
<line x1="784.8" y1="350" x2="790.7" y2="350" stroke="#2a5c9e" stroke-width="1.4" stroke-linecap="butt"/>
<text x="796.9" y="355.07" font-size="17.4" fill="#08307f" text-anchor="start">60</text>
<line x1="787.7" y1="329.9" x2="790.7" y2="329.9" stroke="#2a5c9e" stroke-width="1.4" stroke-linecap="butt"/>
<line x1="784.8" y1="309.8" x2="790.7" y2="309.8" stroke="#2a5c9e" stroke-width="1.4" stroke-linecap="butt"/>
<text x="796.9" y="314.87" font-size="17.4" fill="#08307f" text-anchor="start">80</text>
<text transform="translate(844.1,390.4) rotate(-90)" font-size="20.2" fill="#08307f" text-anchor="middle">eRH (%) at 15°C</text>
<path d="M954.00,480.30 L954.00,11.30 L1047.16,10.55 L1048.25,11.83 L1049.34,13.11 L1050.42,14.39 L1051.51,15.67 L1052.58,16.96 L1053.65,18.26 L1054.71,19.55 L1055.76,20.86 L1056.80,22.18 L1057.83,23.51 L1058.84,24.84 L1059.83,26.19 L1060.80,27.55 L1061.76,28.93 L1062.70,30.32 L1063.62,31.72 L1064.52,33.13 L1065.40,34.56 L1066.27,35.99 L1067.12,37.44 L1067.95,38.90 L1068.78,40.37 L1069.59,41.84 L1070.39,43.33 L1071.18,44.81 L1071.96,46.31 L1072.73,47.81 L1073.50,49.32 L1074.26,50.82 L1075.02,52.34 L1075.78,53.85 L1076.53,55.37 L1077.29,56.88 L1078.04,58.40 L1078.79,59.92 L1079.54,61.44 L1080.29,62.96 L1081.04,64.48 L1081.80,65.99 L1082.55,67.51 L1083.31,69.03 L1084.07,70.54 L1084.84,72.05 L1085.60,73.56 L1086.37,75.07 L1087.14,76.58 L1087.92,78.09 L1088.70,79.59 L1089.47,81.10 L1090.25,82.60 L1091.04,84.10 L1091.82,85.60 L1092.60,87.11 L1093.39,88.61 L1094.17,90.11 L1094.95,91.61 L1095.74,93.11 L1096.52,94.61 L1097.30,96.11 L1098.07,97.61 L1098.85,99.12 L1099.62,100.63 L1100.39,102.13 L1101.15,103.64 L1101.92,105.15 L1102.68,106.66 L1103.43,108.18 L1104.19,109.69 L1104.94,111.21 L1105.68,112.73 L1106.43,114.24 L1107.17,115.77 L1107.91,117.29 L1108.65,118.81 L1109.38,120.33 L1110.11,121.86 L1110.84,123.39 L1111.57,124.91 L1112.29,126.44 L1113.02,127.97 L1113.74,129.50 L1114.45,131.04 L1115.17,132.57 L1115.88,134.10 L1116.59,135.64 L1117.30,137.17 L1118.01,138.71 L1118.71,140.25 L1119.41,141.79 L1120.11,143.33 L1120.80,144.88 L1121.49,146.42 L1122.17,147.97 L1122.86,149.52 L1123.53,151.07 L1124.21,152.62 L1124.88,154.17 L1125.55,155.72 L1126.22,157.27 L1126.89,158.83 L1127.55,160.39 L1128.21,161.94 L1128.87,163.50 L1129.52,165.06 L1130.18,166.62 L1130.82,168.19 L1131.47,169.75 L1132.11,171.32 L1132.75,172.88 L1133.39,174.45 L1134.02,176.02 L1134.65,177.59 L1135.28,179.16 L1135.91,180.73 L1136.53,182.31 L1137.15,183.88 L1137.77,185.45 L1138.39,187.03 L1139.01,188.60 L1139.62,190.18 L1140.24,191.76 L1140.85,193.34 L1141.46,194.92 L1142.07,196.49 L1142.67,198.07 L1143.28,199.65 L1143.89,201.23 L1144.50,202.81 L1145.10,204.39 L1145.71,205.97 L1146.31,207.55 L1146.92,209.13 L1147.52,210.72 L1148.12,212.30 L1148.72,213.88 L1149.32,215.46 L1149.92,217.04 L1150.52,218.63 L1151.12,220.21 L1151.71,221.79 L1152.30,223.38 L1152.90,224.96 L1153.48,226.55 L1154.07,228.14 L1154.65,229.73 L1155.23,231.31 L1155.81,232.90 L1156.39,234.49 L1156.97,236.09 L1157.54,237.68 L1158.11,239.27 L1158.68,240.86 L1159.24,242.46 L1159.81,244.05 L1160.37,245.65 L1160.93,247.25 L1161.49,248.84 L1162.04,250.44 L1162.60,252.04 L1163.15,253.64 L1163.71,255.24 L1164.26,256.83 L1164.82,258.43 L1165.38,260.03 L1165.93,261.63 L1166.49,263.23 L1167.05,264.82 L1167.61,266.42 L1168.18,268.01 L1168.75,269.61 L1169.32,271.20 L1169.89,272.79 L1170.47,274.38 L1171.04,275.97 L1171.63,277.56 L1172.21,279.15 L1172.80,280.74 L1173.39,282.32 L1173.98,283.91 L1174.57,285.49 L1175.17,287.08 L1175.77,288.66 L1176.37,290.24 L1176.97,291.82 L1177.57,293.41 L1178.17,294.99 L1178.77,296.57 L1179.38,298.15 L1179.98,299.73 L1180.58,301.31 L1181.18,302.90 L1181.78,304.48 L1182.38,306.06 L1182.97,307.65 L1183.56,309.23 L1184.15,310.82 L1184.73,312.41 L1185.31,314.00 L1185.89,315.59 L1186.46,317.18 L1187.03,318.77 L1187.59,320.37 L1188.15,321.97 L1188.70,323.57 L1189.25,325.17 L1189.79,326.77 L1190.33,328.37 L1190.86,329.98 L1191.38,331.59 L1191.90,333.20 L1192.41,334.81 L1192.92,336.42 L1193.43,338.04 L1193.92,339.65 L1194.41,341.27 L1194.90,342.89 L1195.38,344.51 L1195.86,346.14 L1196.33,347.76 L1196.79,349.39 L1197.26,351.02 L1197.71,352.65 L1198.16,354.28 L1198.61,355.91 L1199.05,357.54 L1199.49,359.17 L1199.93,360.81 L1200.36,362.45 L1200.79,364.08 L1201.21,365.72 L1201.63,367.36 L1202.05,369.00 L1202.47,370.64 L1202.88,372.28 L1203.29,373.92 L1203.70,375.57 L1204.11,377.21 L1204.52,378.85 L1204.93,380.49 L1205.34,382.13 L1205.75,383.78 L1206.16,385.42 L1206.57,387.06 L1206.98,388.70 L1207.39,390.35 L1207.80,391.99 L1208.20,393.63 L1208.61,395.28 L1209.01,396.92 L1209.41,398.57 L1209.80,400.21 L1210.20,401.86 L1210.58,403.50 L1210.97,405.15 L1211.35,406.80 L1211.72,408.45 L1212.09,410.10 L1212.45,411.75 L1212.81,413.41 L1213.16,415.06 L1213.50,416.72 L1213.83,418.38 L1214.16,420.03 L1214.47,421.70 L1214.78,423.36 L1215.09,425.02 L1215.38,426.69 L1215.67,428.35 L1215.94,430.02 L1216.21,431.69 L1216.47,433.36 L1216.72,435.03 L1216.97,436.70 L1217.21,438.38 L1217.43,440.05 L1217.66,441.73 L1217.87,443.41 L1218.08,445.09 L1218.28,446.76 L1218.47,448.44 L1218.66,450.13 L1218.84,451.81 L1219.02,453.49 L1219.19,455.17 L1219.36,456.86 L1219.52,458.54 L1219.67,460.23 L1219.83,461.91 L1219.97,463.60 L1220.12,465.29 L1220.26,466.97 L1220.40,468.66 L1220.53,470.35 L1220.67,472.03 L1220.80,473.72 L1220.93,475.41 L1221.06,477.10 L1221.19,478.79 L1221.32,480.48 L1221.32,480.30 Z" fill="#b8d1d2"/>
<line x1="954.6" y1="11.5" x2="954.6" y2="480" stroke="#d2f2f2" stroke-width="1.0" stroke-linecap="butt"/>
<line x1="954" y1="479.6" x2="1220.32" y2="479.6" stroke="#d2f2f2" stroke-width="1.0" stroke-linecap="butt"/>
<line x1="954" y1="246.26" x2="1623.7" y2="246.26" stroke="#979797" stroke-width="1.5" stroke-linecap="butt"/>
<line x1="954" y1="380.38" x2="1623.7" y2="380.38" stroke="#979797" stroke-width="1.5" stroke-linecap="butt"/>
<path d="M953.00,319.38 L954.85,315.28 L956.70,312.55 L958.56,310.44 L960.41,308.69 L962.26,307.17 L964.11,305.82 L965.96,304.58 L967.81,303.45 L969.67,302.38 L971.52,301.38 L973.37,300.43 L975.22,299.52 L977.07,298.65 L978.93,297.81 L980.78,297.00 L982.63,296.21 L984.48,295.44 L986.33,294.69 L988.18,293.96 L990.04,293.25 L991.89,292.55 L993.74,291.86 L995.59,291.19 L997.44,290.52 L999.30,289.87 L1001.15,289.22 L1003.00,288.59 L1004.85,287.96 L1006.70,287.34 L1008.56,286.73 L1010.41,286.12 L1012.26,285.52 L1014.11,284.93 L1015.96,284.34 L1017.81,283.76 L1019.67,283.18 L1021.52,282.61 L1023.37,282.04 L1025.22,281.48 L1027.07,280.92 L1028.93,280.36 L1030.78,279.81 L1032.63,279.26 L1034.48,278.71 L1036.33,278.17 L1038.18,277.63 L1040.04,277.10 L1041.89,276.56 L1043.74,276.03 L1045.59,275.50 L1047.44,274.98 L1049.30,274.46 L1051.15,273.93 L1053.00,273.42 L1054.85,272.90 L1056.70,272.39 L1058.55,271.87 L1060.41,271.36 L1062.26,270.85 L1064.11,270.35 L1065.96,269.84 L1067.81,269.34 L1069.67,268.84 L1071.52,268.34 L1073.37,267.84 L1075.22,267.34 L1077.07,266.85 L1078.93,266.35 L1080.78,265.86 L1082.63,265.37 L1084.48,264.88 L1086.33,264.39 L1088.18,263.90 L1090.04,263.41 L1091.89,262.92 L1093.74,262.44 L1095.59,261.95 L1097.44,261.47 L1099.30,260.99 L1101.15,260.51 L1103.00,260.03 L1104.85,259.55 L1106.70,259.07 L1108.55,258.59 L1110.41,258.11 L1112.26,257.63 L1114.11,257.16 L1115.96,256.68 L1117.81,256.21 L1119.67,255.73 L1121.52,255.26 L1123.37,254.79 L1125.22,254.31 L1127.07,253.84 L1128.92,253.37 L1130.78,252.90 L1132.63,252.43 L1134.48,251.96 L1136.33,251.49 L1138.18,251.02 L1140.04,250.55 L1141.89,250.08 L1143.74,249.61 L1145.59,249.14 L1147.44,248.67 L1149.29,248.20 L1151.15,247.74 L1153.00,247.27 L1154.85,246.80 L1156.70,246.33 L1158.55,245.87 L1160.41,245.40 L1162.26,244.93 L1164.11,244.47 L1165.96,244.00 L1167.81,243.53 L1169.67,243.07 L1171.52,242.60 L1173.37,242.13 L1175.22,241.67 L1177.07,241.20 L1178.92,240.73 L1180.78,240.26 L1182.63,239.80 L1184.48,239.33 L1186.33,238.86 L1188.18,238.39 L1190.04,237.93 L1191.89,237.46 L1193.74,236.99 L1195.59,236.52 L1197.44,236.05 L1199.29,235.58 L1201.15,235.12 L1203.00,234.65 L1204.85,234.18 L1206.70,233.71 L1208.55,233.23 L1210.41,232.76 L1212.26,232.29 L1214.11,231.82 L1215.96,231.35 L1217.81,230.88 L1219.66,230.40 L1221.52,229.93 L1223.37,229.45 L1225.22,228.98 L1227.07,228.50 L1228.92,228.03 L1230.78,227.55 L1232.63,227.07 L1234.48,226.60 L1236.33,226.12 L1238.18,225.64 L1240.04,225.16 L1241.89,224.68 L1243.74,224.20 L1245.59,223.71 L1247.44,223.23 L1249.29,222.75 L1251.15,222.26 L1253.00,221.78 L1254.85,221.29 L1256.70,220.80 L1258.55,220.31 L1260.41,219.82 L1262.26,219.33 L1264.11,218.84 L1265.96,218.35 L1267.81,217.86 L1269.66,217.36 L1271.52,216.87 L1273.37,216.37 L1275.22,215.87 L1277.07,215.37 L1278.92,214.87 L1280.78,214.37 L1282.63,213.87 L1284.48,213.36 L1286.33,212.86 L1288.18,212.35 L1290.03,211.84 L1291.89,211.33 L1293.74,210.82 L1295.59,210.31 L1297.44,209.79 L1299.29,209.28 L1301.15,208.76 L1303.00,208.24 L1304.85,207.72 L1306.70,207.20 L1308.55,206.67 L1310.41,206.15 L1312.26,205.62 L1314.11,205.09 L1315.96,204.56 L1317.81,204.02 L1319.66,203.49 L1321.52,202.95 L1323.37,202.41 L1325.22,201.87 L1327.07,201.32 L1328.92,200.78 L1330.78,200.23 L1332.63,199.67 L1334.48,199.12 L1336.33,198.56 L1338.18,198.01 L1340.03,197.44 L1341.89,196.88 L1343.74,196.31 L1345.59,195.74 L1347.44,195.17 L1349.29,194.60 L1351.15,194.02 L1353.00,193.44 L1354.85,192.85 L1356.70,192.27 L1358.55,191.68 L1360.40,191.08 L1362.26,190.49 L1364.11,189.89 L1365.96,189.28 L1367.81,188.67 L1369.66,188.06 L1371.52,187.45 L1373.37,186.83 L1375.22,186.21 L1377.07,185.58 L1378.92,184.95 L1380.77,184.31 L1382.63,183.67 L1384.48,183.03 L1386.33,182.38 L1388.18,181.73 L1390.03,181.07 L1391.89,180.40 L1393.74,179.74 L1395.59,179.06 L1397.44,178.38 L1399.29,177.70 L1401.15,177.01 L1403.00,176.31 L1404.85,175.61 L1406.70,174.90 L1408.55,174.19 L1410.40,173.47 L1412.26,172.74 L1414.11,172.00 L1415.96,171.26 L1417.81,170.51 L1419.66,169.76 L1421.52,168.99 L1423.37,168.22 L1425.22,167.44 L1427.07,166.66 L1428.92,165.86 L1430.77,165.05 L1432.63,164.24 L1434.48,163.41 L1436.33,162.58 L1438.18,161.74 L1440.03,160.88 L1441.89,160.02 L1443.74,159.14 L1445.59,158.25 L1447.44,157.35 L1449.29,156.44 L1451.14,155.51 L1453.00,154.58 L1454.85,153.63 L1456.70,152.66 L1458.55,151.68 L1460.40,150.68 L1462.26,149.67 L1464.11,148.64 L1465.96,147.60 L1467.81,146.54 L1469.66,145.46 L1471.52,144.36 L1473.37,143.24 L1475.22,142.10 L1477.07,140.94 L1478.92,139.75 L1480.77,138.54 L1482.63,137.31 L1484.48,136.05 L1486.33,134.77 L1488.18,133.46 L1490.03,132.11 L1491.89,130.74 L1493.74,129.34 L1495.59,127.90 L1497.44,126.43 L1499.29,124.91 L1501.14,123.36 L1503.00,121.77 L1504.85,120.14 L1506.70,118.46" fill="none" stroke="#a6fbfb" stroke-width="4.0" clip-path="url(#cB)"/>
<path d="M953.00,319.38 L954.85,315.28 L956.70,312.55 L958.56,310.44 L960.41,308.69 L962.26,307.17 L964.11,305.82 L965.96,304.58 L967.81,303.45 L969.67,302.38 L971.52,301.38 L973.37,300.43 L975.22,299.52 L977.07,298.65 L978.93,297.81 L980.78,297.00 L982.63,296.21 L984.48,295.44 L986.33,294.69 L988.18,293.96 L990.04,293.25 L991.89,292.55 L993.74,291.86 L995.59,291.19 L997.44,290.52 L999.30,289.87 L1001.15,289.22 L1003.00,288.59 L1004.85,287.96 L1006.70,287.34 L1008.56,286.73 L1010.41,286.12 L1012.26,285.52 L1014.11,284.93 L1015.96,284.34 L1017.81,283.76 L1019.67,283.18 L1021.52,282.61 L1023.37,282.04 L1025.22,281.48 L1027.07,280.92 L1028.93,280.36 L1030.78,279.81 L1032.63,279.26 L1034.48,278.71 L1036.33,278.17 L1038.18,277.63 L1040.04,277.10 L1041.89,276.56 L1043.74,276.03 L1045.59,275.50 L1047.44,274.98 L1049.30,274.46 L1051.15,273.93 L1053.00,273.42 L1054.85,272.90 L1056.70,272.39 L1058.55,271.87 L1060.41,271.36 L1062.26,270.85 L1064.11,270.35 L1065.96,269.84 L1067.81,269.34 L1069.67,268.84 L1071.52,268.34 L1073.37,267.84 L1075.22,267.34 L1077.07,266.85 L1078.93,266.35 L1080.78,265.86 L1082.63,265.37 L1084.48,264.88 L1086.33,264.39 L1088.18,263.90 L1090.04,263.41 L1091.89,262.92 L1093.74,262.44 L1095.59,261.95 L1097.44,261.47 L1099.30,260.99 L1101.15,260.51 L1103.00,260.03 L1104.85,259.55 L1106.70,259.07 L1108.55,258.59 L1110.41,258.11 L1112.26,257.63 L1114.11,257.16 L1115.96,256.68 L1117.81,256.21 L1119.67,255.73 L1121.52,255.26 L1123.37,254.79 L1125.22,254.31 L1127.07,253.84 L1128.92,253.37 L1130.78,252.90 L1132.63,252.43 L1134.48,251.96 L1136.33,251.49 L1138.18,251.02 L1140.04,250.55 L1141.89,250.08 L1143.74,249.61 L1145.59,249.14 L1147.44,248.67 L1149.29,248.20 L1151.15,247.74 L1153.00,247.27 L1154.85,246.80 L1156.70,246.33 L1158.55,245.87 L1160.41,245.40 L1162.26,244.93 L1164.11,244.47 L1165.96,244.00 L1167.81,243.53 L1169.67,243.07 L1171.52,242.60 L1173.37,242.13 L1175.22,241.67 L1177.07,241.20 L1178.92,240.73 L1180.78,240.26 L1182.63,239.80 L1184.48,239.33 L1186.33,238.86 L1188.18,238.39 L1190.04,237.93 L1191.89,237.46 L1193.74,236.99 L1195.59,236.52 L1197.44,236.05 L1199.29,235.58 L1201.15,235.12 L1203.00,234.65 L1204.85,234.18 L1206.70,233.71 L1208.55,233.23 L1210.41,232.76 L1212.26,232.29 L1214.11,231.82 L1215.96,231.35 L1217.81,230.88 L1219.66,230.40 L1221.52,229.93 L1223.37,229.45 L1225.22,228.98 L1227.07,228.50 L1228.92,228.03 L1230.78,227.55 L1232.63,227.07 L1234.48,226.60 L1236.33,226.12 L1238.18,225.64 L1240.04,225.16 L1241.89,224.68 L1243.74,224.20 L1245.59,223.71 L1247.44,223.23 L1249.29,222.75 L1251.15,222.26 L1253.00,221.78 L1254.85,221.29 L1256.70,220.80 L1258.55,220.31 L1260.41,219.82 L1262.26,219.33 L1264.11,218.84 L1265.96,218.35 L1267.81,217.86 L1269.66,217.36 L1271.52,216.87 L1273.37,216.37 L1275.22,215.87 L1277.07,215.37 L1278.92,214.87 L1280.78,214.37 L1282.63,213.87 L1284.48,213.36 L1286.33,212.86 L1288.18,212.35 L1290.03,211.84 L1291.89,211.33 L1293.74,210.82 L1295.59,210.31 L1297.44,209.79 L1299.29,209.28 L1301.15,208.76 L1303.00,208.24 L1304.85,207.72 L1306.70,207.20 L1308.55,206.67 L1310.41,206.15 L1312.26,205.62 L1314.11,205.09 L1315.96,204.56 L1317.81,204.02 L1319.66,203.49 L1321.52,202.95 L1323.37,202.41 L1325.22,201.87 L1327.07,201.32 L1328.92,200.78 L1330.78,200.23 L1332.63,199.67 L1334.48,199.12 L1336.33,198.56 L1338.18,198.01 L1340.03,197.44 L1341.89,196.88 L1343.74,196.31 L1345.59,195.74 L1347.44,195.17 L1349.29,194.60 L1351.15,194.02 L1353.00,193.44 L1354.85,192.85 L1356.70,192.27 L1358.55,191.68 L1360.40,191.08 L1362.26,190.49 L1364.11,189.89 L1365.96,189.28 L1367.81,188.67 L1369.66,188.06 L1371.52,187.45 L1373.37,186.83 L1375.22,186.21 L1377.07,185.58 L1378.92,184.95 L1380.77,184.31 L1382.63,183.67 L1384.48,183.03 L1386.33,182.38 L1388.18,181.73 L1390.03,181.07 L1391.89,180.40 L1393.74,179.74 L1395.59,179.06 L1397.44,178.38 L1399.29,177.70 L1401.15,177.01 L1403.00,176.31 L1404.85,175.61 L1406.70,174.90 L1408.55,174.19 L1410.40,173.47 L1412.26,172.74 L1414.11,172.00 L1415.96,171.26 L1417.81,170.51 L1419.66,169.76 L1421.52,168.99 L1423.37,168.22 L1425.22,167.44 L1427.07,166.66 L1428.92,165.86 L1430.77,165.05 L1432.63,164.24 L1434.48,163.41 L1436.33,162.58 L1438.18,161.74 L1440.03,160.88 L1441.89,160.02 L1443.74,159.14 L1445.59,158.25 L1447.44,157.35 L1449.29,156.44 L1451.14,155.51 L1453.00,154.58 L1454.85,153.63 L1456.70,152.66 L1458.55,151.68 L1460.40,150.68 L1462.26,149.67 L1464.11,148.64 L1465.96,147.60 L1467.81,146.54 L1469.66,145.46 L1471.52,144.36 L1473.37,143.24 L1475.22,142.10 L1477.07,140.94 L1478.92,139.75 L1480.77,138.54 L1482.63,137.31 L1484.48,136.05 L1486.33,134.77 L1488.18,133.46 L1490.03,132.11 L1491.89,130.74 L1493.74,129.34 L1495.59,127.90 L1497.44,126.43 L1499.29,124.91 L1501.14,123.36 L1503.00,121.77 L1504.85,120.14 L1506.70,118.46" fill="none" stroke="#e60000" stroke-width="1.8" stroke-linejoin="round"/>
<path d="M951.98,480.33 L952.51,478.40 L953.03,476.47 L953.56,474.55 L954.10,472.64 L954.66,470.73 L955.22,468.83 L955.81,466.94 L956.42,465.06 L957.06,463.20 L957.74,461.36 L958.45,459.55 L959.20,457.76 L960.00,456.00 L960.85,454.28 L961.76,452.60 L962.72,450.97 L963.75,449.38 L964.84,447.84 L966.00,446.36 L967.22,444.94 L968.51,443.57 L969.86,442.26 L971.27,441.01 L972.74,439.82 L974.26,438.68 L975.83,437.60 L977.45,436.57 L979.11,435.59 L980.81,434.66 L982.54,433.78 L984.31,432.94 L986.10,432.14 L987.92,431.37 L989.76,430.64 L991.63,429.94 L993.51,429.27 L995.40,428.62 L997.30,427.99 L999.22,427.38 L1001.14,426.79 L1003.07,426.22 L1005.00,425.66 L1006.94,425.11 L1008.88,424.58 L1010.83,424.05 L1012.77,423.53 L1014.72,423.02 L1016.66,422.52 L1018.60,422.02 L1020.55,421.52 L1022.49,421.03 L1024.43,420.55 L1026.37,420.07 L1028.32,419.59 L1030.25,419.12 L1032.19,418.65 L1034.13,418.19 L1036.07,417.73 L1038.01,417.28 L1039.95,416.83 L1041.88,416.39 L1043.82,415.95 L1045.76,415.51 L1047.69,415.08 L1049.63,414.65 L1051.57,414.22 L1053.51,413.80 L1055.44,413.38 L1057.38,412.96 L1059.32,412.54 L1061.26,412.13 L1063.19,411.71 L1065.13,411.30 L1067.07,410.89 L1069.00,410.47 L1070.94,410.06 L1072.88,409.64 L1074.81,409.22 L1076.75,408.80 L1078.69,408.38 L1080.62,407.96 L1082.56,407.54 L1084.49,407.12 L1086.43,406.69 L1088.36,406.27 L1090.30,405.84 L1092.23,405.42 L1094.16,404.99 L1096.10,404.56 L1098.03,404.13 L1099.97,403.70 L1101.90,403.27 L1103.83,402.83 L1105.77,402.40 L1107.70,401.96 L1109.63,401.53 L1111.57,401.09 L1113.50,400.66 L1115.43,400.22 L1117.37,399.78 L1119.30,399.34 L1121.23,398.90 L1123.17,398.47 L1125.10,398.03 L1127.03,397.59 L1128.97,397.15 L1130.90,396.71 L1132.83,396.27 L1134.76,395.83 L1136.70,395.40 L1138.63,394.96 L1140.57,394.52 L1142.50,394.09 L1144.43,393.65 L1146.37,393.22 L1148.30,392.78 L1150.24,392.35 L1152.17,391.92 L1154.11,391.49 L1156.04,391.06 L1157.98,390.63 L1159.91,390.21 L1161.85,389.78 L1163.79,389.36 L1165.72,388.94 L1167.66,388.52 L1169.60,388.10 L1171.54,387.68 L1173.47,387.27 L1175.41,386.85 L1177.35,386.44 L1179.29,386.03 L1181.23,385.61 L1183.17,385.20 L1185.11,384.79 L1187.05,384.38 L1188.99,383.97 L1190.93,383.56 L1192.87,383.16 L1194.80,382.75 L1196.74,382.34 L1198.68,381.93 L1200.62,381.52 L1202.56,381.11 L1204.50,380.70 L1206.44,380.29 L1208.38,379.88 L1210.32,379.46 L1212.26,379.04 L1214.19,378.62 L1216.13,378.20 L1218.06,377.77 L1220.00,377.34 L1221.93,376.91 L1223.86,376.47 L1225.80,376.03 L1227.73,375.58 L1229.66,375.14 L1231.59,374.68 L1233.52,374.23 L1235.45,373.77 L1237.37,373.31 L1239.30,372.84 L1241.23,372.38 L1243.15,371.91 L1245.08,371.43 L1247.00,370.96 L1248.92,370.48 L1250.85,370.00 L1252.77,369.51 L1254.69,369.03 L1256.61,368.54 L1258.53,368.05 L1260.45,367.55 L1262.37,367.05 L1264.29,366.56 L1266.21,366.05 L1268.12,365.55 L1270.04,365.04 L1271.95,364.53 L1273.87,364.02 L1275.78,363.51 L1277.70,362.99 L1279.61,362.47 L1281.52,361.95 L1283.43,361.42 L1285.35,360.90 L1287.26,360.37 L1289.17,359.84 L1291.08,359.31 L1292.99,358.78 L1294.90,358.24 L1296.80,357.71 L1298.71,357.17 L1300.62,356.64 L1302.53,356.10 L1304.44,355.56 L1306.35,355.03 L1308.25,354.49 L1310.16,353.95 L1312.07,353.41 L1313.98,352.87 L1315.89,352.34 L1317.79,351.80 L1319.70,351.26 L1321.61,350.72 L1323.52,350.19 L1325.43,349.65 L1327.34,349.12 L1329.25,348.58 L1331.16,348.05 L1333.07,347.52 L1334.98,346.99 L1336.89,346.46 L1338.80,345.94 L1340.71,345.41 L1342.62,344.89 L1344.54,344.37 L1346.45,343.85 L1348.36,343.33 L1350.28,342.81 L1352.19,342.29 L1354.10,341.78 L1356.02,341.26 L1357.93,340.75 L1359.85,340.24 L1361.76,339.73 L1363.68,339.22 L1365.60,338.71 L1367.51,338.21 L1369.43,337.70 L1371.34,337.20 L1373.26,336.69 L1375.17,336.18 L1377.09,335.67 L1379.00,335.16 L1380.91,334.63 L1382.82,334.11 L1384.72,333.57 L1386.63,333.03 L1388.53,332.47 L1390.43,331.91 L1392.32,331.34 L1394.21,330.76 L1396.10,330.16 L1397.98,329.56 L1399.86,328.95 L1401.74,328.32 L1403.61,327.68 L1405.48,327.02 L1407.34,326.36 L1409.20,325.68 L1411.05,324.99 L1412.90,324.28 L1414.75,323.57 L1416.59,322.84 L1418.43,322.10 L1420.26,321.36 L1422.10,320.60 L1423.92,319.84 L1425.75,319.07 L1427.57,318.29 L1429.39,317.50 L1431.21,316.71 L1433.02,315.91 L1434.83,315.10 L1436.64,314.28 L1438.44,313.46 L1440.24,312.62 L1442.03,311.78 L1443.82,310.93 L1445.61,310.07 L1447.39,309.21 L1449.17,308.33 L1450.95,307.45 L1452.71,306.55 L1454.48,305.65 L1456.24,304.74 L1457.99,303.82 L1459.74,302.89 L1461.49,301.95 L1463.23,301.01 L1464.97,300.05 L1466.70,299.09 L1468.42,298.12 L1470.15,297.14 L1471.86,296.15 L1473.57,295.15 L1475.28,294.15 L1476.99,293.14 L1478.69,292.12 L1480.38,291.09 L1482.08,290.07 L1483.77,289.03 L1485.45,287.99 L1487.14,286.95 L1488.82,285.91 L1490.51,284.86 L1492.19,283.81" fill="none" stroke="#e4f4e2" stroke-width="3.8000000000000003" clip-path="url(#cB)"/>
<path d="M951.98,480.33 L952.51,478.40 L953.03,476.47 L953.56,474.55 L954.10,472.64 L954.66,470.73 L955.22,468.83 L955.81,466.94 L956.42,465.06 L957.06,463.20 L957.74,461.36 L958.45,459.55 L959.20,457.76 L960.00,456.00 L960.85,454.28 L961.76,452.60 L962.72,450.97 L963.75,449.38 L964.84,447.84 L966.00,446.36 L967.22,444.94 L968.51,443.57 L969.86,442.26 L971.27,441.01 L972.74,439.82 L974.26,438.68 L975.83,437.60 L977.45,436.57 L979.11,435.59 L980.81,434.66 L982.54,433.78 L984.31,432.94 L986.10,432.14 L987.92,431.37 L989.76,430.64 L991.63,429.94 L993.51,429.27 L995.40,428.62 L997.30,427.99 L999.22,427.38 L1001.14,426.79 L1003.07,426.22 L1005.00,425.66 L1006.94,425.11 L1008.88,424.58 L1010.83,424.05 L1012.77,423.53 L1014.72,423.02 L1016.66,422.52 L1018.60,422.02 L1020.55,421.52 L1022.49,421.03 L1024.43,420.55 L1026.37,420.07 L1028.32,419.59 L1030.25,419.12 L1032.19,418.65 L1034.13,418.19 L1036.07,417.73 L1038.01,417.28 L1039.95,416.83 L1041.88,416.39 L1043.82,415.95 L1045.76,415.51 L1047.69,415.08 L1049.63,414.65 L1051.57,414.22 L1053.51,413.80 L1055.44,413.38 L1057.38,412.96 L1059.32,412.54 L1061.26,412.13 L1063.19,411.71 L1065.13,411.30 L1067.07,410.89 L1069.00,410.47 L1070.94,410.06 L1072.88,409.64 L1074.81,409.22 L1076.75,408.80 L1078.69,408.38 L1080.62,407.96 L1082.56,407.54 L1084.49,407.12 L1086.43,406.69 L1088.36,406.27 L1090.30,405.84 L1092.23,405.42 L1094.16,404.99 L1096.10,404.56 L1098.03,404.13 L1099.97,403.70 L1101.90,403.27 L1103.83,402.83 L1105.77,402.40 L1107.70,401.96 L1109.63,401.53 L1111.57,401.09 L1113.50,400.66 L1115.43,400.22 L1117.37,399.78 L1119.30,399.34 L1121.23,398.90 L1123.17,398.47 L1125.10,398.03 L1127.03,397.59 L1128.97,397.15 L1130.90,396.71 L1132.83,396.27 L1134.76,395.83 L1136.70,395.40 L1138.63,394.96 L1140.57,394.52 L1142.50,394.09 L1144.43,393.65 L1146.37,393.22 L1148.30,392.78 L1150.24,392.35 L1152.17,391.92 L1154.11,391.49 L1156.04,391.06 L1157.98,390.63 L1159.91,390.21 L1161.85,389.78 L1163.79,389.36 L1165.72,388.94 L1167.66,388.52 L1169.60,388.10 L1171.54,387.68 L1173.47,387.27 L1175.41,386.85 L1177.35,386.44 L1179.29,386.03 L1181.23,385.61 L1183.17,385.20 L1185.11,384.79 L1187.05,384.38 L1188.99,383.97 L1190.93,383.56 L1192.87,383.16 L1194.80,382.75 L1196.74,382.34 L1198.68,381.93 L1200.62,381.52 L1202.56,381.11 L1204.50,380.70 L1206.44,380.29 L1208.38,379.88 L1210.32,379.46 L1212.26,379.04 L1214.19,378.62 L1216.13,378.20 L1218.06,377.77 L1220.00,377.34 L1221.93,376.91 L1223.86,376.47 L1225.80,376.03 L1227.73,375.58 L1229.66,375.14 L1231.59,374.68 L1233.52,374.23 L1235.45,373.77 L1237.37,373.31 L1239.30,372.84 L1241.23,372.38 L1243.15,371.91 L1245.08,371.43 L1247.00,370.96 L1248.92,370.48 L1250.85,370.00 L1252.77,369.51 L1254.69,369.03 L1256.61,368.54 L1258.53,368.05 L1260.45,367.55 L1262.37,367.05 L1264.29,366.56 L1266.21,366.05 L1268.12,365.55 L1270.04,365.04 L1271.95,364.53 L1273.87,364.02 L1275.78,363.51 L1277.70,362.99 L1279.61,362.47 L1281.52,361.95 L1283.43,361.42 L1285.35,360.90 L1287.26,360.37 L1289.17,359.84 L1291.08,359.31 L1292.99,358.78 L1294.90,358.24 L1296.80,357.71 L1298.71,357.17 L1300.62,356.64 L1302.53,356.10 L1304.44,355.56 L1306.35,355.03 L1308.25,354.49 L1310.16,353.95 L1312.07,353.41 L1313.98,352.87 L1315.89,352.34 L1317.79,351.80 L1319.70,351.26 L1321.61,350.72 L1323.52,350.19 L1325.43,349.65 L1327.34,349.12 L1329.25,348.58 L1331.16,348.05 L1333.07,347.52 L1334.98,346.99 L1336.89,346.46 L1338.80,345.94 L1340.71,345.41 L1342.62,344.89 L1344.54,344.37 L1346.45,343.85 L1348.36,343.33 L1350.28,342.81 L1352.19,342.29 L1354.10,341.78 L1356.02,341.26 L1357.93,340.75 L1359.85,340.24 L1361.76,339.73 L1363.68,339.22 L1365.60,338.71 L1367.51,338.21 L1369.43,337.70 L1371.34,337.20 L1373.26,336.69 L1375.17,336.18 L1377.09,335.67 L1379.00,335.16 L1380.91,334.63 L1382.82,334.11 L1384.72,333.57 L1386.63,333.03 L1388.53,332.47 L1390.43,331.91 L1392.32,331.34 L1394.21,330.76 L1396.10,330.16 L1397.98,329.56 L1399.86,328.95 L1401.74,328.32 L1403.61,327.68 L1405.48,327.02 L1407.34,326.36 L1409.20,325.68 L1411.05,324.99 L1412.90,324.28 L1414.75,323.57 L1416.59,322.84 L1418.43,322.10 L1420.26,321.36 L1422.10,320.60 L1423.92,319.84 L1425.75,319.07 L1427.57,318.29 L1429.39,317.50 L1431.21,316.71 L1433.02,315.91 L1434.83,315.10 L1436.64,314.28 L1438.44,313.46 L1440.24,312.62 L1442.03,311.78 L1443.82,310.93 L1445.61,310.07 L1447.39,309.21 L1449.17,308.33 L1450.95,307.45 L1452.71,306.55 L1454.48,305.65 L1456.24,304.74 L1457.99,303.82 L1459.74,302.89 L1461.49,301.95 L1463.23,301.01 L1464.97,300.05 L1466.70,299.09 L1468.42,298.12 L1470.15,297.14 L1471.86,296.15 L1473.57,295.15 L1475.28,294.15 L1476.99,293.14 L1478.69,292.12 L1480.38,291.09 L1482.08,290.07 L1483.77,289.03 L1485.45,287.99 L1487.14,286.95 L1488.82,285.91 L1490.51,284.86 L1492.19,283.81" fill="none" stroke="#1a4f96" stroke-width="1.6" stroke-linejoin="round"/>
<path d="M1047.16,10.55 L1048.25,11.83 L1049.34,13.11 L1050.42,14.39 L1051.51,15.67 L1052.58,16.96 L1053.65,18.26 L1054.71,19.55 L1055.76,20.86 L1056.80,22.18 L1057.83,23.51 L1058.84,24.84 L1059.83,26.19 L1060.80,27.55 L1061.76,28.93 L1062.70,30.32 L1063.62,31.72 L1064.52,33.13 L1065.40,34.56 L1066.27,35.99 L1067.12,37.44 L1067.95,38.90 L1068.78,40.37 L1069.59,41.84 L1070.39,43.33 L1071.18,44.81 L1071.96,46.31 L1072.73,47.81 L1073.50,49.32 L1074.26,50.82 L1075.02,52.34 L1075.78,53.85 L1076.53,55.37 L1077.29,56.88 L1078.04,58.40 L1078.79,59.92 L1079.54,61.44 L1080.29,62.96 L1081.04,64.48 L1081.80,65.99 L1082.55,67.51 L1083.31,69.03 L1084.07,70.54 L1084.84,72.05 L1085.60,73.56 L1086.37,75.07 L1087.14,76.58 L1087.92,78.09 L1088.70,79.59 L1089.47,81.10 L1090.25,82.60 L1091.04,84.10 L1091.82,85.60 L1092.60,87.11 L1093.39,88.61 L1094.17,90.11 L1094.95,91.61 L1095.74,93.11 L1096.52,94.61 L1097.30,96.11 L1098.07,97.61 L1098.85,99.12 L1099.62,100.63 L1100.39,102.13 L1101.15,103.64 L1101.92,105.15 L1102.68,106.66 L1103.43,108.18 L1104.19,109.69 L1104.94,111.21 L1105.68,112.73 L1106.43,114.24 L1107.17,115.77 L1107.91,117.29 L1108.65,118.81 L1109.38,120.33 L1110.11,121.86 L1110.84,123.39 L1111.57,124.91 L1112.29,126.44 L1113.02,127.97 L1113.74,129.50 L1114.45,131.04 L1115.17,132.57 L1115.88,134.10 L1116.59,135.64 L1117.30,137.17 L1118.01,138.71 L1118.71,140.25 L1119.41,141.79 L1120.11,143.33 L1120.80,144.88 L1121.49,146.42 L1122.17,147.97 L1122.86,149.52 L1123.53,151.07 L1124.21,152.62 L1124.88,154.17 L1125.55,155.72 L1126.22,157.27 L1126.89,158.83 L1127.55,160.39 L1128.21,161.94 L1128.87,163.50 L1129.52,165.06 L1130.18,166.62 L1130.82,168.19 L1131.47,169.75 L1132.11,171.32 L1132.75,172.88 L1133.39,174.45 L1134.02,176.02 L1134.65,177.59 L1135.28,179.16 L1135.91,180.73 L1136.53,182.31 L1137.15,183.88 L1137.77,185.45 L1138.39,187.03 L1139.01,188.60 L1139.62,190.18 L1140.24,191.76 L1140.85,193.34 L1141.46,194.92 L1142.07,196.49 L1142.67,198.07 L1143.28,199.65 L1143.89,201.23 L1144.50,202.81 L1145.10,204.39 L1145.71,205.97 L1146.31,207.55 L1146.92,209.13 L1147.52,210.72 L1148.12,212.30 L1148.72,213.88 L1149.32,215.46 L1149.92,217.04 L1150.52,218.63 L1151.12,220.21 L1151.71,221.79 L1152.30,223.38 L1152.90,224.96 L1153.48,226.55 L1154.07,228.14 L1154.65,229.73 L1155.23,231.31 L1155.81,232.90 L1156.39,234.49 L1156.97,236.09 L1157.54,237.68 L1158.11,239.27 L1158.68,240.86 L1159.24,242.46 L1159.81,244.05 L1160.37,245.65 L1160.93,247.25 L1161.49,248.84 L1162.04,250.44 L1162.60,252.04 L1163.15,253.64 L1163.71,255.24 L1164.26,256.83 L1164.82,258.43 L1165.38,260.03 L1165.93,261.63 L1166.49,263.23 L1167.05,264.82 L1167.61,266.42 L1168.18,268.01 L1168.75,269.61 L1169.32,271.20 L1169.89,272.79 L1170.47,274.38 L1171.04,275.97 L1171.63,277.56 L1172.21,279.15 L1172.80,280.74 L1173.39,282.32 L1173.98,283.91 L1174.57,285.49 L1175.17,287.08 L1175.77,288.66 L1176.37,290.24 L1176.97,291.82 L1177.57,293.41 L1178.17,294.99 L1178.77,296.57 L1179.38,298.15 L1179.98,299.73 L1180.58,301.31 L1181.18,302.90 L1181.78,304.48 L1182.38,306.06 L1182.97,307.65 L1183.56,309.23 L1184.15,310.82 L1184.73,312.41 L1185.31,314.00 L1185.89,315.59 L1186.46,317.18 L1187.03,318.77 L1187.59,320.37 L1188.15,321.97 L1188.70,323.57 L1189.25,325.17 L1189.79,326.77 L1190.33,328.37 L1190.86,329.98 L1191.38,331.59 L1191.90,333.20 L1192.41,334.81 L1192.92,336.42 L1193.43,338.04 L1193.92,339.65 L1194.41,341.27 L1194.90,342.89 L1195.38,344.51 L1195.86,346.14 L1196.33,347.76 L1196.79,349.39 L1197.26,351.02 L1197.71,352.65 L1198.16,354.28 L1198.61,355.91 L1199.05,357.54 L1199.49,359.17 L1199.93,360.81 L1200.36,362.45 L1200.79,364.08 L1201.21,365.72 L1201.63,367.36 L1202.05,369.00 L1202.47,370.64 L1202.88,372.28 L1203.29,373.92 L1203.70,375.57 L1204.11,377.21 L1204.52,378.85 L1204.93,380.49 L1205.34,382.13 L1205.75,383.78 L1206.16,385.42 L1206.57,387.06 L1206.98,388.70 L1207.39,390.35 L1207.80,391.99 L1208.20,393.63 L1208.61,395.28 L1209.01,396.92 L1209.41,398.57 L1209.80,400.21 L1210.20,401.86 L1210.58,403.50 L1210.97,405.15 L1211.35,406.80 L1211.72,408.45 L1212.09,410.10 L1212.45,411.75 L1212.81,413.41 L1213.16,415.06 L1213.50,416.72 L1213.83,418.38 L1214.16,420.03 L1214.47,421.70 L1214.78,423.36 L1215.09,425.02 L1215.38,426.69 L1215.67,428.35 L1215.94,430.02 L1216.21,431.69 L1216.47,433.36 L1216.72,435.03 L1216.97,436.70 L1217.21,438.38 L1217.43,440.05 L1217.66,441.73 L1217.87,443.41 L1218.08,445.09 L1218.28,446.76 L1218.47,448.44 L1218.66,450.13 L1218.84,451.81 L1219.02,453.49 L1219.19,455.17 L1219.36,456.86 L1219.52,458.54 L1219.67,460.23 L1219.83,461.91 L1219.97,463.60 L1220.12,465.29 L1220.26,466.97 L1220.40,468.66 L1220.53,470.35 L1220.67,472.03 L1220.80,473.72 L1220.93,475.41 L1221.06,477.10 L1221.19,478.79 L1221.32,480.48" fill="none" stroke="#d6f6f6" stroke-width="4.0" clip-path="url(#cB)"/>
<path d="M1047.16,10.55 L1048.25,11.83 L1049.34,13.11 L1050.42,14.39 L1051.51,15.67 L1052.58,16.96 L1053.65,18.26 L1054.71,19.55 L1055.76,20.86 L1056.80,22.18 L1057.83,23.51 L1058.84,24.84 L1059.83,26.19 L1060.80,27.55 L1061.76,28.93 L1062.70,30.32 L1063.62,31.72 L1064.52,33.13 L1065.40,34.56 L1066.27,35.99 L1067.12,37.44 L1067.95,38.90 L1068.78,40.37 L1069.59,41.84 L1070.39,43.33 L1071.18,44.81 L1071.96,46.31 L1072.73,47.81 L1073.50,49.32 L1074.26,50.82 L1075.02,52.34 L1075.78,53.85 L1076.53,55.37 L1077.29,56.88 L1078.04,58.40 L1078.79,59.92 L1079.54,61.44 L1080.29,62.96 L1081.04,64.48 L1081.80,65.99 L1082.55,67.51 L1083.31,69.03 L1084.07,70.54 L1084.84,72.05 L1085.60,73.56 L1086.37,75.07 L1087.14,76.58 L1087.92,78.09 L1088.70,79.59 L1089.47,81.10 L1090.25,82.60 L1091.04,84.10 L1091.82,85.60 L1092.60,87.11 L1093.39,88.61 L1094.17,90.11 L1094.95,91.61 L1095.74,93.11 L1096.52,94.61 L1097.30,96.11 L1098.07,97.61 L1098.85,99.12 L1099.62,100.63 L1100.39,102.13 L1101.15,103.64 L1101.92,105.15 L1102.68,106.66 L1103.43,108.18 L1104.19,109.69 L1104.94,111.21 L1105.68,112.73 L1106.43,114.24 L1107.17,115.77 L1107.91,117.29 L1108.65,118.81 L1109.38,120.33 L1110.11,121.86 L1110.84,123.39 L1111.57,124.91 L1112.29,126.44 L1113.02,127.97 L1113.74,129.50 L1114.45,131.04 L1115.17,132.57 L1115.88,134.10 L1116.59,135.64 L1117.30,137.17 L1118.01,138.71 L1118.71,140.25 L1119.41,141.79 L1120.11,143.33 L1120.80,144.88 L1121.49,146.42 L1122.17,147.97 L1122.86,149.52 L1123.53,151.07 L1124.21,152.62 L1124.88,154.17 L1125.55,155.72 L1126.22,157.27 L1126.89,158.83 L1127.55,160.39 L1128.21,161.94 L1128.87,163.50 L1129.52,165.06 L1130.18,166.62 L1130.82,168.19 L1131.47,169.75 L1132.11,171.32 L1132.75,172.88 L1133.39,174.45 L1134.02,176.02 L1134.65,177.59 L1135.28,179.16 L1135.91,180.73 L1136.53,182.31 L1137.15,183.88 L1137.77,185.45 L1138.39,187.03 L1139.01,188.60 L1139.62,190.18 L1140.24,191.76 L1140.85,193.34 L1141.46,194.92 L1142.07,196.49 L1142.67,198.07 L1143.28,199.65 L1143.89,201.23 L1144.50,202.81 L1145.10,204.39 L1145.71,205.97 L1146.31,207.55 L1146.92,209.13 L1147.52,210.72 L1148.12,212.30 L1148.72,213.88 L1149.32,215.46 L1149.92,217.04 L1150.52,218.63 L1151.12,220.21 L1151.71,221.79 L1152.30,223.38 L1152.90,224.96 L1153.48,226.55 L1154.07,228.14 L1154.65,229.73 L1155.23,231.31 L1155.81,232.90 L1156.39,234.49 L1156.97,236.09 L1157.54,237.68 L1158.11,239.27 L1158.68,240.86 L1159.24,242.46 L1159.81,244.05 L1160.37,245.65 L1160.93,247.25 L1161.49,248.84 L1162.04,250.44 L1162.60,252.04 L1163.15,253.64 L1163.71,255.24 L1164.26,256.83 L1164.82,258.43 L1165.38,260.03 L1165.93,261.63 L1166.49,263.23 L1167.05,264.82 L1167.61,266.42 L1168.18,268.01 L1168.75,269.61 L1169.32,271.20 L1169.89,272.79 L1170.47,274.38 L1171.04,275.97 L1171.63,277.56 L1172.21,279.15 L1172.80,280.74 L1173.39,282.32 L1173.98,283.91 L1174.57,285.49 L1175.17,287.08 L1175.77,288.66 L1176.37,290.24 L1176.97,291.82 L1177.57,293.41 L1178.17,294.99 L1178.77,296.57 L1179.38,298.15 L1179.98,299.73 L1180.58,301.31 L1181.18,302.90 L1181.78,304.48 L1182.38,306.06 L1182.97,307.65 L1183.56,309.23 L1184.15,310.82 L1184.73,312.41 L1185.31,314.00 L1185.89,315.59 L1186.46,317.18 L1187.03,318.77 L1187.59,320.37 L1188.15,321.97 L1188.70,323.57 L1189.25,325.17 L1189.79,326.77 L1190.33,328.37 L1190.86,329.98 L1191.38,331.59 L1191.90,333.20 L1192.41,334.81 L1192.92,336.42 L1193.43,338.04 L1193.92,339.65 L1194.41,341.27 L1194.90,342.89 L1195.38,344.51 L1195.86,346.14 L1196.33,347.76 L1196.79,349.39 L1197.26,351.02 L1197.71,352.65 L1198.16,354.28 L1198.61,355.91 L1199.05,357.54 L1199.49,359.17 L1199.93,360.81 L1200.36,362.45 L1200.79,364.08 L1201.21,365.72 L1201.63,367.36 L1202.05,369.00 L1202.47,370.64 L1202.88,372.28 L1203.29,373.92 L1203.70,375.57 L1204.11,377.21 L1204.52,378.85 L1204.93,380.49 L1205.34,382.13 L1205.75,383.78 L1206.16,385.42 L1206.57,387.06 L1206.98,388.70 L1207.39,390.35 L1207.80,391.99 L1208.20,393.63 L1208.61,395.28 L1209.01,396.92 L1209.41,398.57 L1209.80,400.21 L1210.20,401.86 L1210.58,403.50 L1210.97,405.15 L1211.35,406.80 L1211.72,408.45 L1212.09,410.10 L1212.45,411.75 L1212.81,413.41 L1213.16,415.06 L1213.50,416.72 L1213.83,418.38 L1214.16,420.03 L1214.47,421.70 L1214.78,423.36 L1215.09,425.02 L1215.38,426.69 L1215.67,428.35 L1215.94,430.02 L1216.21,431.69 L1216.47,433.36 L1216.72,435.03 L1216.97,436.70 L1217.21,438.38 L1217.43,440.05 L1217.66,441.73 L1217.87,443.41 L1218.08,445.09 L1218.28,446.76 L1218.47,448.44 L1218.66,450.13 L1218.84,451.81 L1219.02,453.49 L1219.19,455.17 L1219.36,456.86 L1219.52,458.54 L1219.67,460.23 L1219.83,461.91 L1219.97,463.60 L1220.12,465.29 L1220.26,466.97 L1220.40,468.66 L1220.53,470.35 L1220.67,472.03 L1220.80,473.72 L1220.93,475.41 L1221.06,477.10 L1221.19,478.79 L1221.32,480.48" fill="none" stroke="#000" stroke-width="1.8" stroke-linejoin="round"/>
<line x1="953.2" y1="10.4" x2="953.2" y2="489.6" stroke="#000" stroke-width="1.7" stroke-linecap="butt"/>
<line x1="944.2" y1="480.67" x2="953.2" y2="480.67" stroke="#000" stroke-width="1.7" stroke-linecap="butt"/>
<text x="937.9" y="487.47" font-size="22.4" fill="#000" text-anchor="end">0</text>
<line x1="944.2" y1="413.61" x2="953.2" y2="413.61" stroke="#000" stroke-width="1.7" stroke-linecap="butt"/>
<text x="937.9" y="420.41" font-size="22.4" fill="#000" text-anchor="end">10</text>
<line x1="944.2" y1="346.55" x2="953.2" y2="346.55" stroke="#000" stroke-width="1.7" stroke-linecap="butt"/>
<text x="937.9" y="353.35" font-size="22.4" fill="#000" text-anchor="end">20</text>
<line x1="944.2" y1="279.49" x2="953.2" y2="279.49" stroke="#000" stroke-width="1.7" stroke-linecap="butt"/>
<text x="937.9" y="286.29" font-size="22.4" fill="#000" text-anchor="end">30</text>
<line x1="944.2" y1="212.43" x2="953.2" y2="212.43" stroke="#000" stroke-width="1.7" stroke-linecap="butt"/>
<text x="937.9" y="219.23" font-size="22.4" fill="#000" text-anchor="end">40</text>
<line x1="944.2" y1="145.37" x2="953.2" y2="145.37" stroke="#000" stroke-width="1.7" stroke-linecap="butt"/>
<text x="937.9" y="152.17" font-size="22.4" fill="#000" text-anchor="end">50</text>
<line x1="944.2" y1="78.31" x2="953.2" y2="78.31" stroke="#000" stroke-width="1.7" stroke-linecap="butt"/>
<text x="937.9" y="85.11" font-size="22.4" fill="#000" text-anchor="end">60</text>
<line x1="944.2" y1="11.25" x2="953.2" y2="11.25" stroke="#000" stroke-width="1.7" stroke-linecap="butt"/>
<text x="937.9" y="18.05" font-size="22.4" fill="#000" text-anchor="end">70</text>
<line x1="948.3" y1="447.14" x2="953.2" y2="447.14" stroke="#000" stroke-width="1.7" stroke-linecap="butt"/>
<line x1="948.3" y1="380.08" x2="953.2" y2="380.08" stroke="#000" stroke-width="1.7" stroke-linecap="butt"/>
<line x1="948.3" y1="313.02" x2="953.2" y2="313.02" stroke="#000" stroke-width="1.7" stroke-linecap="butt"/>
<line x1="948.3" y1="245.96" x2="953.2" y2="245.96" stroke="#000" stroke-width="1.7" stroke-linecap="butt"/>
<line x1="948.3" y1="178.9" x2="953.2" y2="178.9" stroke="#000" stroke-width="1.7" stroke-linecap="butt"/>
<line x1="948.3" y1="111.84" x2="953.2" y2="111.84" stroke="#000" stroke-width="1.7" stroke-linecap="butt"/>
<line x1="948.3" y1="44.78" x2="953.2" y2="44.78" stroke="#000" stroke-width="1.7" stroke-linecap="butt"/>
<line x1="953.2" y1="481.05" x2="1624" y2="481.05" stroke="#000" stroke-width="1.7" stroke-linecap="butt"/>
<line x1="953.2" y1="481.05" x2="953.2" y2="489.6" stroke="#000" stroke-width="1.7" stroke-linecap="butt"/>
<text x="953.2" y="513.3" font-size="22.4" fill="#000" text-anchor="middle">0</text>
<line x1="1087.2" y1="481.05" x2="1087.2" y2="489.6" stroke="#000" stroke-width="1.7" stroke-linecap="butt"/>
<text x="1087.2" y="513.3" font-size="22.4" fill="#000" text-anchor="middle">20</text>
<line x1="1221.2" y1="481.05" x2="1221.2" y2="489.6" stroke="#000" stroke-width="1.7" stroke-linecap="butt"/>
<text x="1221.2" y="513.3" font-size="22.4" fill="#000" text-anchor="middle">40</text>
<line x1="1355.2" y1="481.05" x2="1355.2" y2="489.6" stroke="#000" stroke-width="1.7" stroke-linecap="butt"/>
<text x="1355.2" y="513.3" font-size="22.4" fill="#000" text-anchor="middle">60</text>
<line x1="1489.2" y1="481.05" x2="1489.2" y2="489.6" stroke="#000" stroke-width="1.7" stroke-linecap="butt"/>
<text x="1489.2" y="513.3" font-size="22.4" fill="#000" text-anchor="middle">80</text>
<line x1="1623.2" y1="481.05" x2="1623.2" y2="489.6" stroke="#000" stroke-width="1.7" stroke-linecap="butt"/>
<text x="1623.2" y="513.3" font-size="22.4" fill="#000" text-anchor="middle">100</text>
<line x1="1020.2" y1="481.05" x2="1020.2" y2="485.7" stroke="#000" stroke-width="1.7" stroke-linecap="butt"/>
<line x1="1154.2" y1="481.05" x2="1154.2" y2="485.7" stroke="#000" stroke-width="1.7" stroke-linecap="butt"/>
<line x1="1288.2" y1="481.05" x2="1288.2" y2="485.7" stroke="#000" stroke-width="1.7" stroke-linecap="butt"/>
<line x1="1422.2" y1="481.05" x2="1422.2" y2="485.7" stroke="#000" stroke-width="1.7" stroke-linecap="butt"/>
<line x1="1556.2" y1="481.05" x2="1556.2" y2="485.7" stroke="#000" stroke-width="1.7" stroke-linecap="butt"/>
<text x="1288.6" y="551.9" font-size="24.2" fill="#000" text-anchor="middle">eRH (%)</text>
<text transform="translate(887.3,250.4) rotate(-90)" font-size="24.2" fill="#000" text-anchor="middle"><tspan font-style="italic">T</tspan><tspan font-size="17" dy="6.9">g</tspan><tspan dy="-6.9"> (°C)</tspan></text>
<text x="866.4" y="24.5" font-size="30.4" fill="#000" text-anchor="start" font-weight="bold">B</text>
<line x1="1637.3" y1="117.6" x2="1637.3" y2="320" stroke="#e8141b" stroke-width="1.4" stroke-linecap="butt"/>
<line x1="1631.4" y1="319.3" x2="1637.3" y2="319.3" stroke="#e8141b" stroke-width="1.4" stroke-linecap="butt"/>
<text x="1643.5" y="325.14" font-size="19.6" fill="#e60000" text-anchor="start">0</text>
<line x1="1634.3" y1="299.2" x2="1637.3" y2="299.2" stroke="#e8141b" stroke-width="1.4" stroke-linecap="butt"/>
<line x1="1631.4" y1="279.1" x2="1637.3" y2="279.1" stroke="#e8141b" stroke-width="1.4" stroke-linecap="butt"/>
<text x="1643.5" y="284.94" font-size="19.6" fill="#e60000" text-anchor="start">4</text>
<line x1="1634.3" y1="259" x2="1637.3" y2="259" stroke="#e8141b" stroke-width="1.4" stroke-linecap="butt"/>
<line x1="1631.4" y1="238.9" x2="1637.3" y2="238.9" stroke="#e8141b" stroke-width="1.4" stroke-linecap="butt"/>
<text x="1643.5" y="244.74" font-size="19.6" fill="#e60000" text-anchor="start">8</text>
<line x1="1634.3" y1="218.8" x2="1637.3" y2="218.8" stroke="#e8141b" stroke-width="1.4" stroke-linecap="butt"/>
<line x1="1631.4" y1="198.7" x2="1637.3" y2="198.7" stroke="#e8141b" stroke-width="1.4" stroke-linecap="butt"/>
<text x="1643.5" y="204.54" font-size="19.6" fill="#e60000" text-anchor="start">12</text>
<line x1="1634.3" y1="178.6" x2="1637.3" y2="178.6" stroke="#e8141b" stroke-width="1.4" stroke-linecap="butt"/>
<line x1="1631.4" y1="158.5" x2="1637.3" y2="158.5" stroke="#e8141b" stroke-width="1.4" stroke-linecap="butt"/>
<text x="1643.5" y="164.34" font-size="19.6" fill="#e60000" text-anchor="start">16</text>
<line x1="1634.3" y1="138.4" x2="1637.3" y2="138.4" stroke="#e8141b" stroke-width="1.4" stroke-linecap="butt"/>
<line x1="1631.4" y1="118.3" x2="1637.3" y2="118.3" stroke="#e8141b" stroke-width="1.4" stroke-linecap="butt"/>
<text x="1643.5" y="124.14" font-size="19.6" fill="#e60000" text-anchor="start">20</text>
<text transform="translate(1696.3,175.15) rotate(-90)" font-size="22.8" fill="#e60000" text-anchor="middle">Moisture content</text>
<text transform="translate(1726.4,172.8) rotate(-90)" font-size="22.8" fill="#e60000" text-anchor="middle">(% dry weight) at 35°C</text>
<line x1="1677.5" y1="282.7" x2="1677.5" y2="485.5" stroke="#2a5c9e" stroke-width="1.4" stroke-linecap="butt"/>
<line x1="1671.6" y1="484.8" x2="1677.5" y2="484.8" stroke="#2a5c9e" stroke-width="1.4" stroke-linecap="butt"/>
<text x="1683.7" y="490.61" font-size="19.5" fill="#08307f" text-anchor="start">0</text>
<line x1="1674.5" y1="464.66" x2="1677.5" y2="464.66" stroke="#2a5c9e" stroke-width="1.4" stroke-linecap="butt"/>
<line x1="1671.6" y1="444.52" x2="1677.5" y2="444.52" stroke="#2a5c9e" stroke-width="1.4" stroke-linecap="butt"/>
<text x="1683.7" y="450.33" font-size="19.5" fill="#08307f" text-anchor="start">4</text>
<line x1="1674.5" y1="424.38" x2="1677.5" y2="424.38" stroke="#2a5c9e" stroke-width="1.4" stroke-linecap="butt"/>
<line x1="1671.6" y1="404.24" x2="1677.5" y2="404.24" stroke="#2a5c9e" stroke-width="1.4" stroke-linecap="butt"/>
<text x="1683.7" y="410.05" font-size="19.5" fill="#08307f" text-anchor="start">8</text>
<line x1="1674.5" y1="384.1" x2="1677.5" y2="384.1" stroke="#2a5c9e" stroke-width="1.4" stroke-linecap="butt"/>
<line x1="1671.6" y1="363.96" x2="1677.5" y2="363.96" stroke="#2a5c9e" stroke-width="1.4" stroke-linecap="butt"/>
<text x="1683.7" y="369.77" font-size="19.5" fill="#08307f" text-anchor="start">12</text>
<line x1="1674.5" y1="343.82" x2="1677.5" y2="343.82" stroke="#2a5c9e" stroke-width="1.4" stroke-linecap="butt"/>
<line x1="1671.6" y1="323.68" x2="1677.5" y2="323.68" stroke="#2a5c9e" stroke-width="1.4" stroke-linecap="butt"/>
<text x="1683.7" y="329.49" font-size="19.5" fill="#08307f" text-anchor="start">16</text>
<line x1="1674.5" y1="303.54" x2="1677.5" y2="303.54" stroke="#2a5c9e" stroke-width="1.4" stroke-linecap="butt"/>
<line x1="1671.6" y1="283.4" x2="1677.5" y2="283.4" stroke="#2a5c9e" stroke-width="1.4" stroke-linecap="butt"/>
<text x="1683.7" y="289.21" font-size="19.5" fill="#08307f" text-anchor="start">20</text>
<text transform="translate(1735,409.9) rotate(-90)" font-size="22.8" fill="#08307f" text-anchor="middle">Moisture content</text>
<text transform="translate(1764,407.65) rotate(-90)" font-size="22.8" fill="#08307f" text-anchor="middle">(% dry weight) at 15°C</text>
<path d="M100.60,1090.90 L100.60,648.60 L173.14,648.80 L174.11,650.28 L175.08,651.75 L176.06,653.23 L177.03,654.71 L178.00,656.19 L178.97,657.66 L179.94,659.14 L180.92,660.62 L181.89,662.10 L182.86,663.57 L183.84,665.05 L184.81,666.53 L185.78,668.00 L186.76,669.48 L187.73,670.96 L188.70,672.44 L189.68,673.91 L190.65,675.39 L191.63,676.87 L192.61,678.35 L193.58,679.82 L194.56,681.30 L195.54,682.78 L196.51,684.25 L197.49,685.73 L198.47,687.21 L199.45,688.69 L200.43,690.16 L201.41,691.64 L202.39,693.12 L203.37,694.59 L204.36,696.07 L205.34,697.55 L206.32,699.03 L207.31,700.50 L208.29,701.98 L209.28,703.46 L210.27,704.94 L211.25,706.41 L212.24,707.89 L213.23,709.37 L214.22,710.84 L215.21,712.32 L216.20,713.80 L217.20,715.28 L218.19,716.75 L219.18,718.23 L220.18,719.71 L221.18,721.19 L222.17,722.66 L223.17,724.14 L224.17,725.62 L225.17,727.09 L226.17,728.57 L227.17,730.05 L228.18,731.53 L229.18,733.00 L230.19,734.48 L231.19,735.96 L232.20,737.44 L233.21,738.91 L234.22,740.39 L235.23,741.87 L236.25,743.34 L237.26,744.82 L238.28,746.30 L239.29,747.78 L240.31,749.25 L241.33,750.73 L242.35,752.21 L243.38,753.69 L244.40,755.16 L245.43,756.64 L246.45,758.12 L247.48,759.59 L248.51,761.07 L249.55,762.55 L250.58,764.03 L251.62,765.50 L252.66,766.98 L253.70,768.46 L254.74,769.94 L255.79,771.41 L256.83,772.89 L257.88,774.37 L258.93,775.84 L259.99,777.32 L261.04,778.80 L262.10,780.28 L263.16,781.75 L264.23,783.23 L265.29,784.71 L266.36,786.18 L267.43,787.66 L268.50,789.14 L269.58,790.62 L270.66,792.09 L271.74,793.57 L272.82,795.05 L273.90,796.53 L274.99,798.00 L276.08,799.48 L277.18,800.96 L278.27,802.43 L279.37,803.91 L280.47,805.39 L281.57,806.87 L282.68,808.34 L283.79,809.82 L284.90,811.30 L286.01,812.78 L287.12,814.25 L288.24,815.73 L289.36,817.21 L290.48,818.68 L291.61,820.16 L292.74,821.64 L293.86,823.12 L295.00,824.59 L296.13,826.07 L297.27,827.55 L298.40,829.03 L299.54,830.50 L300.69,831.98 L301.83,833.46 L302.98,834.93 L304.13,836.41 L305.28,837.89 L306.43,839.37 L307.59,840.84 L308.74,842.32 L309.90,843.80 L311.06,845.28 L312.23,846.75 L313.39,848.23 L314.56,849.71 L315.73,851.18 L316.90,852.66 L318.07,854.14 L319.24,855.62 L320.42,857.09 L321.59,858.57 L322.77,860.05 L323.95,861.53 L325.14,863.00 L326.32,864.48 L327.51,865.96 L328.70,867.43 L329.88,868.91 L331.08,870.39 L332.27,871.87 L333.47,873.34 L334.66,874.82 L335.86,876.30 L337.06,877.77 L338.27,879.25 L339.47,880.73 L340.68,882.21 L341.89,883.68 L343.11,885.16 L344.32,886.64 L345.54,888.12 L346.76,889.59 L347.98,891.07 L349.21,892.55 L350.44,894.02 L351.67,895.50 L352.91,896.98 L354.14,898.46 L355.39,899.93 L356.63,901.41 L357.88,902.89 L359.13,904.37 L360.39,905.84 L361.64,907.32 L362.91,908.80 L364.17,910.27 L365.44,911.75 L366.72,913.23 L367.99,914.71 L369.28,916.18 L370.56,917.66 L371.85,919.14 L373.15,920.62 L374.44,922.09 L375.75,923.57 L377.05,925.05 L378.36,926.52 L379.68,928.00 L381.00,929.48 L382.32,930.96 L383.65,932.43 L384.99,933.91 L386.32,935.39 L387.67,936.87 L389.01,938.34 L390.36,939.82 L391.72,941.30 L393.08,942.77 L394.45,944.25 L395.82,945.73 L397.19,947.21 L398.57,948.68 L399.96,950.16 L401.34,951.64 L402.74,953.12 L404.14,954.59 L405.54,956.07 L406.95,957.55 L408.36,959.02 L409.78,960.50 L411.20,961.98 L412.63,963.46 L414.06,964.93 L415.50,966.41 L416.94,967.89 L418.38,969.36 L419.84,970.84 L421.29,972.32 L422.75,973.80 L424.22,975.27 L425.69,976.75 L427.16,978.23 L428.64,979.71 L430.12,981.18 L431.61,982.66 L433.10,984.14 L434.60,985.61 L436.10,987.09 L437.61,988.57 L439.12,990.05 L440.63,991.52 L442.15,993.00 L443.67,994.48 L445.20,995.96 L446.73,997.43 L448.26,998.91 L449.80,1000.39 L451.34,1001.86 L452.88,1003.34 L454.43,1004.82 L455.99,1006.30 L457.54,1007.77 L459.10,1009.25 L460.66,1010.73 L462.23,1012.21 L463.79,1013.68 L465.37,1015.16 L466.94,1016.64 L468.51,1018.11 L470.09,1019.59 L471.67,1021.07 L473.26,1022.55 L474.84,1024.02 L476.43,1025.50 L478.01,1026.98 L479.60,1028.46 L481.19,1029.93 L482.79,1031.41 L484.38,1032.89 L485.97,1034.36 L487.57,1035.84 L489.17,1037.32 L490.76,1038.80 L492.36,1040.27 L493.96,1041.75 L495.56,1043.23 L497.16,1044.71 L498.75,1046.18 L500.35,1047.66 L501.95,1049.14 L503.55,1050.61 L505.15,1052.09 L506.75,1053.57 L508.35,1055.05 L509.95,1056.52 L511.55,1058.00 L513.15,1059.48 L514.75,1060.95 L516.34,1062.43 L517.94,1063.91 L519.54,1065.39 L521.14,1066.86 L522.73,1068.34 L524.33,1069.82 L525.93,1071.30 L527.52,1072.77 L529.12,1074.25 L530.71,1075.73 L532.31,1077.20 L533.91,1078.68 L535.50,1080.16 L537.10,1081.64 L538.69,1083.11 L540.29,1084.59 L541.88,1086.07 L543.48,1087.55 L545.07,1089.02 L546.66,1090.50 Z" fill="#b8d1d2"/>
<rect x="100.6" y="1098.9" width="445.4" height="18.699999999999818" fill="#b8d1d2"/>
<line x1="100.9" y1="649" x2="100.9" y2="1090.9" stroke="#d2f2f2" stroke-width="1.0" stroke-linecap="butt"/>
<line x1="100.9" y1="1098.9" x2="100.9" y2="1117.5" stroke="#d2f2f2" stroke-width="1.0" stroke-linecap="butt"/>
<line x1="101" y1="1117" x2="545" y2="1117" stroke="#d2f2f2" stroke-width="1.0" stroke-linecap="butt"/>
<line x1="99.7" y1="775.1" x2="751.4" y2="775.1" stroke="#979797" stroke-width="1.5" stroke-linecap="butt"/>
<line x1="80.9" y1="775.1" x2="87.8" y2="775.1" stroke="#a8a8a8" stroke-width="1.2" stroke-linecap="butt"/>
<line x1="99.7" y1="964.55" x2="751.4" y2="964.55" stroke="#979797" stroke-width="1.5" stroke-linecap="butt"/>
<line x1="80.9" y1="964.55" x2="87.8" y2="964.55" stroke="#a8a8a8" stroke-width="1.2" stroke-linecap="butt"/>
<path d="M101.10,872.55 L102.65,871.70 L104.20,870.85 L105.75,870.00 L107.30,869.16 L108.85,868.31 L110.40,867.46 L111.95,866.61 L113.50,865.75 L115.05,864.90 L116.60,864.05 L118.15,863.19 L119.70,862.33 L121.25,861.47 L122.80,860.61 L124.35,859.74 L125.90,858.87 L127.45,858.00 L129.00,857.13 L130.55,856.26 L132.10,855.38 L133.65,854.50 L135.20,853.61 L136.75,852.73 L138.30,851.84 L139.85,850.94 L141.40,850.05 L142.95,849.15 L144.50,848.24 L146.05,847.34 L147.61,846.43 L149.16,845.52 L150.71,844.60 L152.26,843.68 L153.81,842.76 L155.36,841.83 L156.91,840.90 L158.46,839.97 L160.01,839.03 L161.56,838.09 L163.11,837.14 L164.66,836.19 L166.21,835.24 L167.76,834.28 L169.31,833.32 L170.86,832.36 L172.41,831.39 L173.96,830.42 L175.51,829.44 L177.06,828.47 L178.61,827.48 L180.16,826.50 L181.71,825.51 L183.26,824.51 L184.81,823.52 L186.36,822.52 L187.91,821.51 L189.46,820.51 L191.01,819.49 L192.56,818.48 L194.11,817.46 L195.66,816.44 L197.21,815.42 L198.76,814.39 L200.31,813.36 L201.86,812.33 L203.41,811.30 L204.96,810.26 L206.51,809.22 L208.06,808.18 L209.61,807.14 L211.16,806.09 L212.71,805.05 L214.26,804.00 L215.81,802.95 L217.36,801.90 L218.91,800.85 L220.46,799.79 L222.01,798.74 L223.56,797.68 L225.11,796.63 L226.66,795.57 L228.21,794.52 L229.76,793.47 L231.31,792.41 L232.86,791.36 L234.41,790.31 L235.96,789.25 L237.51,788.20 L239.06,787.16 L240.62,786.11 L242.17,785.07 L243.72,784.03 L245.27,782.99 L246.82,781.95 L248.37,780.92 L249.92,779.89 L251.47,778.86 L253.02,777.84 L254.57,776.82 L256.12,775.81 L257.67,774.80 L259.22,773.79 L260.77,772.79 L262.32,771.80 L263.87,770.81 L265.42,769.83 L266.97,768.85 L268.52,767.88 L270.07,766.92 L271.62,765.96 L273.17,765.01 L274.72,764.07 L276.27,763.13 L277.82,762.20 L279.37,761.28 L280.92,760.37 L282.47,759.46 L284.02,758.56 L285.57,757.67 L287.12,756.79 L288.67,755.92 L290.22,755.05 L291.77,754.20 L293.32,753.35 L294.87,752.52 L296.42,751.69 L297.97,750.86 L299.52,750.05 L301.07,749.25 L302.62,748.45 L304.17,747.67 L305.72,746.89 L307.27,746.12 L308.82,745.36 L310.37,744.61 L311.92,743.87 L313.47,743.13 L315.02,742.41 L316.57,741.69 L318.12,740.98 L319.67,740.28 L321.22,739.59 L322.77,738.91 L324.32,738.23 L325.87,737.57 L327.42,736.91 L328.97,736.26 L330.52,735.61 L332.07,734.98 L333.63,734.35 L335.18,733.72 L336.73,733.11 L338.28,732.50 L339.83,731.89 L341.38,731.30 L342.93,730.71 L344.48,730.12 L346.03,729.54 L347.58,728.97 L349.13,728.40 L350.68,727.84 L352.23,727.28 L353.78,726.73 L355.33,726.19 L356.88,725.65 L358.43,725.11 L359.98,724.58 L361.53,724.06 L363.08,723.54 L364.63,723.03 L366.18,722.52 L367.73,722.02 L369.28,721.53 L370.83,721.04 L372.38,720.55 L373.93,720.07 L375.48,719.60 L377.03,719.13 L378.58,718.67 L380.13,718.21 L381.68,717.76 L383.23,717.31 L384.78,716.87 L386.33,716.43 L387.88,716.00 L389.43,715.57 L390.98,715.15 L392.53,714.73 L394.08,714.32 L395.63,713.91 L397.18,713.51 L398.73,713.11 L400.28,712.72 L401.83,712.33 L403.38,711.95 L404.93,711.57 L406.48,711.20 L408.03,710.83 L409.58,710.47 L411.13,710.11 L412.68,709.76 L414.23,709.41 L415.78,709.06 L417.33,708.72 L418.88,708.38 L420.43,708.05 L421.98,707.72 L423.53,707.40 L425.08,707.08 L426.64,706.76 L428.19,706.45 L429.74,706.15 L431.29,705.84 L432.84,705.55 L434.39,705.25 L435.94,704.96 L437.49,704.68 L439.04,704.39 L440.59,704.12 L442.14,703.84 L443.69,703.57 L445.24,703.31 L446.79,703.05 L448.34,702.79 L449.89,702.54 L451.44,702.29 L452.99,702.05 L454.54,701.81 L456.09,701.57 L457.64,701.34 L459.19,701.11 L460.74,700.89 L462.29,700.67 L463.84,700.45 L465.39,700.24 L466.94,700.03 L468.49,699.83 L470.04,699.63 L471.59,699.43 L473.14,699.24 L474.69,699.05 L476.24,698.87 L477.79,698.69 L479.34,698.51 L480.89,698.34 L482.44,698.17 L483.99,698.01 L485.54,697.85 L487.09,697.69 L488.64,697.53 L490.19,697.38 L491.74,697.23 L493.29,697.09 L494.84,696.95 L496.39,696.81 L497.94,696.67 L499.49,696.54 L501.04,696.41 L502.59,696.28 L504.14,696.16 L505.69,696.03 L507.24,695.91 L508.79,695.80 L510.34,695.68 L511.89,695.57 L513.44,695.46 L514.99,695.35 L516.54,695.24 L518.09,695.14 L519.65,695.03 L521.20,694.93 L522.75,694.84 L524.30,694.74 L525.85,694.65 L527.40,694.55 L528.95,694.46 L530.50,694.37 L532.05,694.29 L533.60,694.20 L535.15,694.12 L536.70,694.03 L538.25,693.95 L539.80,693.87 L541.35,693.80 L542.90,693.72 L544.45,693.64 L546.00,693.57 L547.55,693.49 L549.10,693.42 L550.65,693.35 L552.20,693.28 L553.75,693.21 L555.30,693.13 L556.85,693.06 L558.40,692.99 L559.95,692.92 L561.50,692.86 L563.05,692.79 L564.60,692.72" fill="none" stroke="#a6fbfb" stroke-width="4.0" clip-path="url(#cC)"/>
<path d="M101.10,872.55 L102.65,871.70 L104.20,870.85 L105.75,870.00 L107.30,869.16 L108.85,868.31 L110.40,867.46 L111.95,866.61 L113.50,865.75 L115.05,864.90 L116.60,864.05 L118.15,863.19 L119.70,862.33 L121.25,861.47 L122.80,860.61 L124.35,859.74 L125.90,858.87 L127.45,858.00 L129.00,857.13 L130.55,856.26 L132.10,855.38 L133.65,854.50 L135.20,853.61 L136.75,852.73 L138.30,851.84 L139.85,850.94 L141.40,850.05 L142.95,849.15 L144.50,848.24 L146.05,847.34 L147.61,846.43 L149.16,845.52 L150.71,844.60 L152.26,843.68 L153.81,842.76 L155.36,841.83 L156.91,840.90 L158.46,839.97 L160.01,839.03 L161.56,838.09 L163.11,837.14 L164.66,836.19 L166.21,835.24 L167.76,834.28 L169.31,833.32 L170.86,832.36 L172.41,831.39 L173.96,830.42 L175.51,829.44 L177.06,828.47 L178.61,827.48 L180.16,826.50 L181.71,825.51 L183.26,824.51 L184.81,823.52 L186.36,822.52 L187.91,821.51 L189.46,820.51 L191.01,819.49 L192.56,818.48 L194.11,817.46 L195.66,816.44 L197.21,815.42 L198.76,814.39 L200.31,813.36 L201.86,812.33 L203.41,811.30 L204.96,810.26 L206.51,809.22 L208.06,808.18 L209.61,807.14 L211.16,806.09 L212.71,805.05 L214.26,804.00 L215.81,802.95 L217.36,801.90 L218.91,800.85 L220.46,799.79 L222.01,798.74 L223.56,797.68 L225.11,796.63 L226.66,795.57 L228.21,794.52 L229.76,793.47 L231.31,792.41 L232.86,791.36 L234.41,790.31 L235.96,789.25 L237.51,788.20 L239.06,787.16 L240.62,786.11 L242.17,785.07 L243.72,784.03 L245.27,782.99 L246.82,781.95 L248.37,780.92 L249.92,779.89 L251.47,778.86 L253.02,777.84 L254.57,776.82 L256.12,775.81 L257.67,774.80 L259.22,773.79 L260.77,772.79 L262.32,771.80 L263.87,770.81 L265.42,769.83 L266.97,768.85 L268.52,767.88 L270.07,766.92 L271.62,765.96 L273.17,765.01 L274.72,764.07 L276.27,763.13 L277.82,762.20 L279.37,761.28 L280.92,760.37 L282.47,759.46 L284.02,758.56 L285.57,757.67 L287.12,756.79 L288.67,755.92 L290.22,755.05 L291.77,754.20 L293.32,753.35 L294.87,752.52 L296.42,751.69 L297.97,750.86 L299.52,750.05 L301.07,749.25 L302.62,748.45 L304.17,747.67 L305.72,746.89 L307.27,746.12 L308.82,745.36 L310.37,744.61 L311.92,743.87 L313.47,743.13 L315.02,742.41 L316.57,741.69 L318.12,740.98 L319.67,740.28 L321.22,739.59 L322.77,738.91 L324.32,738.23 L325.87,737.57 L327.42,736.91 L328.97,736.26 L330.52,735.61 L332.07,734.98 L333.63,734.35 L335.18,733.72 L336.73,733.11 L338.28,732.50 L339.83,731.89 L341.38,731.30 L342.93,730.71 L344.48,730.12 L346.03,729.54 L347.58,728.97 L349.13,728.40 L350.68,727.84 L352.23,727.28 L353.78,726.73 L355.33,726.19 L356.88,725.65 L358.43,725.11 L359.98,724.58 L361.53,724.06 L363.08,723.54 L364.63,723.03 L366.18,722.52 L367.73,722.02 L369.28,721.53 L370.83,721.04 L372.38,720.55 L373.93,720.07 L375.48,719.60 L377.03,719.13 L378.58,718.67 L380.13,718.21 L381.68,717.76 L383.23,717.31 L384.78,716.87 L386.33,716.43 L387.88,716.00 L389.43,715.57 L390.98,715.15 L392.53,714.73 L394.08,714.32 L395.63,713.91 L397.18,713.51 L398.73,713.11 L400.28,712.72 L401.83,712.33 L403.38,711.95 L404.93,711.57 L406.48,711.20 L408.03,710.83 L409.58,710.47 L411.13,710.11 L412.68,709.76 L414.23,709.41 L415.78,709.06 L417.33,708.72 L418.88,708.38 L420.43,708.05 L421.98,707.72 L423.53,707.40 L425.08,707.08 L426.64,706.76 L428.19,706.45 L429.74,706.15 L431.29,705.84 L432.84,705.55 L434.39,705.25 L435.94,704.96 L437.49,704.68 L439.04,704.39 L440.59,704.12 L442.14,703.84 L443.69,703.57 L445.24,703.31 L446.79,703.05 L448.34,702.79 L449.89,702.54 L451.44,702.29 L452.99,702.05 L454.54,701.81 L456.09,701.57 L457.64,701.34 L459.19,701.11 L460.74,700.89 L462.29,700.67 L463.84,700.45 L465.39,700.24 L466.94,700.03 L468.49,699.83 L470.04,699.63 L471.59,699.43 L473.14,699.24 L474.69,699.05 L476.24,698.87 L477.79,698.69 L479.34,698.51 L480.89,698.34 L482.44,698.17 L483.99,698.01 L485.54,697.85 L487.09,697.69 L488.64,697.53 L490.19,697.38 L491.74,697.23 L493.29,697.09 L494.84,696.95 L496.39,696.81 L497.94,696.67 L499.49,696.54 L501.04,696.41 L502.59,696.28 L504.14,696.16 L505.69,696.03 L507.24,695.91 L508.79,695.80 L510.34,695.68 L511.89,695.57 L513.44,695.46 L514.99,695.35 L516.54,695.24 L518.09,695.14 L519.65,695.03 L521.20,694.93 L522.75,694.84 L524.30,694.74 L525.85,694.65 L527.40,694.55 L528.95,694.46 L530.50,694.37 L532.05,694.29 L533.60,694.20 L535.15,694.12 L536.70,694.03 L538.25,693.95 L539.80,693.87 L541.35,693.80 L542.90,693.72 L544.45,693.64 L546.00,693.57 L547.55,693.49 L549.10,693.42 L550.65,693.35 L552.20,693.28 L553.75,693.21 L555.30,693.13 L556.85,693.06 L558.40,692.99 L559.95,692.92 L561.50,692.86 L563.05,692.79 L564.60,692.72" fill="none" stroke="#e60000" stroke-width="1.8" stroke-linejoin="round"/>
<path d="M150.20,1096.15 L151.78,1095.18 L153.35,1094.20 L154.93,1093.23 L156.51,1092.26 L158.08,1091.28 L159.66,1090.31 L161.23,1089.34 L162.81,1088.36 L164.39,1087.39 L165.96,1086.42 L167.54,1085.44 L169.12,1084.47 L170.69,1083.50 L172.27,1082.53 L173.84,1081.55 L175.42,1080.58 L177.00,1079.61 L178.57,1078.64 L180.15,1077.67 L181.73,1076.69 L183.30,1075.72 L184.88,1074.75 L186.45,1073.78 L188.03,1072.82 L189.61,1071.85 L191.18,1070.88 L192.76,1069.91 L194.34,1068.95 L195.91,1067.98 L197.49,1067.02 L199.06,1066.06 L200.64,1065.10 L202.22,1064.14 L203.79,1063.18 L205.37,1062.22 L206.95,1061.26 L208.52,1060.31 L210.10,1059.36 L211.67,1058.40 L213.25,1057.45 L214.83,1056.50 L216.40,1055.55 L217.98,1054.61 L219.56,1053.66 L221.13,1052.72 L222.71,1051.78 L224.28,1050.84 L225.86,1049.90 L227.44,1048.96 L229.01,1048.03 L230.59,1047.09 L232.17,1046.16 L233.74,1045.23 L235.32,1044.31 L236.89,1043.38 L238.47,1042.46 L240.05,1041.53 L241.62,1040.62 L243.20,1039.70 L244.78,1038.78 L246.35,1037.87 L247.93,1036.96 L249.50,1036.06 L251.08,1035.15 L252.66,1034.25 L254.23,1033.35 L255.81,1032.45 L257.39,1031.56 L258.96,1030.67 L260.54,1029.78 L262.11,1028.90 L263.69,1028.02 L265.27,1027.14 L266.84,1026.27 L268.42,1025.40 L270.00,1024.53 L271.57,1023.66 L273.15,1022.80 L274.72,1021.94 L276.30,1021.09 L277.88,1020.24 L279.45,1019.39 L281.03,1018.55 L282.61,1017.70 L284.18,1016.87 L285.76,1016.03 L287.33,1015.20 L288.91,1014.37 L290.49,1013.55 L292.06,1012.73 L293.64,1011.91 L295.22,1011.10 L296.79,1010.29 L298.37,1009.48 L299.94,1008.68 L301.52,1007.88 L303.10,1007.09 L304.67,1006.30 L306.25,1005.51 L307.83,1004.73 L309.40,1003.95 L310.98,1003.17 L312.55,1002.40 L314.13,1001.64 L315.71,1000.88 L317.28,1000.12 L318.86,999.37 L320.44,998.62 L322.01,997.87 L323.59,997.14 L325.16,996.40 L326.74,995.67 L328.32,994.95 L329.89,994.23 L331.47,993.51 L333.05,992.80 L334.62,992.09 L336.20,991.39 L337.77,990.70 L339.35,990.01 L340.93,989.32 L342.50,988.64 L344.08,987.96 L345.66,987.29 L347.23,986.62 L348.81,985.96 L350.38,985.31 L351.96,984.66 L353.54,984.01 L355.11,983.37 L356.69,982.74 L358.27,982.11 L359.84,981.48 L361.42,980.86 L362.99,980.25 L364.57,979.64 L366.15,979.04 L367.72,978.44 L369.30,977.85 L370.88,977.26 L372.45,976.68 L374.03,976.11 L375.60,975.54 L377.18,974.97 L378.76,974.41 L380.33,973.86 L381.91,973.31 L383.49,972.77 L385.06,972.23 L386.64,971.70 L388.21,971.17 L389.79,970.65 L391.37,970.13 L392.94,969.62 L394.52,969.12 L396.10,968.62 L397.67,968.12 L399.25,967.63 L400.82,967.15 L402.40,966.67 L403.98,966.19 L405.55,965.72 L407.13,965.26 L408.71,964.80 L410.28,964.34 L411.86,963.90 L413.43,963.45 L415.01,963.01 L416.59,962.58 L418.16,962.15 L419.74,961.73 L421.32,961.31 L422.89,960.89 L424.47,960.48 L426.04,960.08 L427.62,959.68 L429.20,959.28 L430.77,958.89 L432.35,958.51 L433.93,958.13 L435.50,957.75 L437.08,957.38 L438.65,957.02 L440.23,956.66 L441.81,956.30 L443.38,955.95 L444.96,955.60 L446.54,955.26 L448.11,954.92 L449.69,954.59 L451.26,954.26 L452.84,953.93 L454.42,953.61 L455.99,953.30 L457.57,952.98 L459.15,952.68 L460.72,952.37 L462.30,952.08 L463.87,951.78 L465.45,951.49 L467.03,951.20 L468.60,950.92 L470.18,950.64 L471.76,950.37 L473.33,950.10 L474.91,949.83 L476.48,949.57 L478.06,949.31 L479.64,949.05 L481.21,948.80 L482.79,948.55 L484.37,948.30 L485.94,948.05 L487.52,947.81 L489.09,947.58 L490.67,947.34 L492.25,947.11 L493.82,946.88 L495.40,946.66 L496.98,946.43 L498.55,946.21 L500.13,945.99 L501.70,945.78 L503.28,945.57 L504.86,945.36 L506.43,945.15 L508.01,944.95 L509.59,944.75 L511.16,944.55 L512.74,944.36 L514.31,944.17 L515.89,943.98 L517.47,943.80 L519.04,943.61 L520.62,943.43 L522.20,943.26 L523.77,943.08 L525.35,942.91 L526.92,942.74 L528.50,942.58 L530.08,942.42 L531.65,942.26 L533.23,942.10 L534.81,941.94 L536.38,941.79 L537.96,941.64 L539.53,941.50 L541.11,941.35 L542.69,941.21 L544.26,941.07 L545.84,940.94 L547.42,940.80 L548.99,940.67 L550.57,940.54 L552.14,940.42 L553.72,940.29 L555.30,940.17 L556.87,940.05 L558.45,939.94 L560.03,939.82 L561.60,939.71 L563.18,939.60 L564.75,939.49 L566.33,939.38 L567.91,939.28 L569.48,939.17 L571.06,939.07 L572.64,938.97 L574.21,938.88 L575.79,938.78 L577.36,938.69 L578.94,938.60 L580.52,938.50 L582.09,938.42 L583.67,938.33 L585.25,938.24 L586.82,938.16 L588.40,938.07 L589.97,937.99 L591.55,937.91 L593.13,937.83 L594.70,937.75 L596.28,937.67 L597.86,937.59 L599.43,937.52 L601.01,937.44 L602.58,937.37 L604.16,937.29 L605.74,937.22 L607.31,937.14 L608.89,937.07 L610.47,937.00 L612.04,936.93 L613.62,936.85 L615.19,936.78 L616.77,936.71 L618.35,936.64 L619.92,936.57 L621.50,936.50" fill="none" stroke="#e4f4e2" stroke-width="3.8000000000000003" clip-path="url(#cC)"/>
<path d="M150.20,1096.15 L151.78,1095.18 L153.35,1094.20 L154.93,1093.23 L156.51,1092.26 L158.08,1091.28 L159.66,1090.31 L161.23,1089.34 L162.81,1088.36 L164.39,1087.39 L165.96,1086.42 L167.54,1085.44 L169.12,1084.47 L170.69,1083.50 L172.27,1082.53 L173.84,1081.55 L175.42,1080.58 L177.00,1079.61 L178.57,1078.64 L180.15,1077.67 L181.73,1076.69 L183.30,1075.72 L184.88,1074.75 L186.45,1073.78 L188.03,1072.82 L189.61,1071.85 L191.18,1070.88 L192.76,1069.91 L194.34,1068.95 L195.91,1067.98 L197.49,1067.02 L199.06,1066.06 L200.64,1065.10 L202.22,1064.14 L203.79,1063.18 L205.37,1062.22 L206.95,1061.26 L208.52,1060.31 L210.10,1059.36 L211.67,1058.40 L213.25,1057.45 L214.83,1056.50 L216.40,1055.55 L217.98,1054.61 L219.56,1053.66 L221.13,1052.72 L222.71,1051.78 L224.28,1050.84 L225.86,1049.90 L227.44,1048.96 L229.01,1048.03 L230.59,1047.09 L232.17,1046.16 L233.74,1045.23 L235.32,1044.31 L236.89,1043.38 L238.47,1042.46 L240.05,1041.53 L241.62,1040.62 L243.20,1039.70 L244.78,1038.78 L246.35,1037.87 L247.93,1036.96 L249.50,1036.06 L251.08,1035.15 L252.66,1034.25 L254.23,1033.35 L255.81,1032.45 L257.39,1031.56 L258.96,1030.67 L260.54,1029.78 L262.11,1028.90 L263.69,1028.02 L265.27,1027.14 L266.84,1026.27 L268.42,1025.40 L270.00,1024.53 L271.57,1023.66 L273.15,1022.80 L274.72,1021.94 L276.30,1021.09 L277.88,1020.24 L279.45,1019.39 L281.03,1018.55 L282.61,1017.70 L284.18,1016.87 L285.76,1016.03 L287.33,1015.20 L288.91,1014.37 L290.49,1013.55 L292.06,1012.73 L293.64,1011.91 L295.22,1011.10 L296.79,1010.29 L298.37,1009.48 L299.94,1008.68 L301.52,1007.88 L303.10,1007.09 L304.67,1006.30 L306.25,1005.51 L307.83,1004.73 L309.40,1003.95 L310.98,1003.17 L312.55,1002.40 L314.13,1001.64 L315.71,1000.88 L317.28,1000.12 L318.86,999.37 L320.44,998.62 L322.01,997.87 L323.59,997.14 L325.16,996.40 L326.74,995.67 L328.32,994.95 L329.89,994.23 L331.47,993.51 L333.05,992.80 L334.62,992.09 L336.20,991.39 L337.77,990.70 L339.35,990.01 L340.93,989.32 L342.50,988.64 L344.08,987.96 L345.66,987.29 L347.23,986.62 L348.81,985.96 L350.38,985.31 L351.96,984.66 L353.54,984.01 L355.11,983.37 L356.69,982.74 L358.27,982.11 L359.84,981.48 L361.42,980.86 L362.99,980.25 L364.57,979.64 L366.15,979.04 L367.72,978.44 L369.30,977.85 L370.88,977.26 L372.45,976.68 L374.03,976.11 L375.60,975.54 L377.18,974.97 L378.76,974.41 L380.33,973.86 L381.91,973.31 L383.49,972.77 L385.06,972.23 L386.64,971.70 L388.21,971.17 L389.79,970.65 L391.37,970.13 L392.94,969.62 L394.52,969.12 L396.10,968.62 L397.67,968.12 L399.25,967.63 L400.82,967.15 L402.40,966.67 L403.98,966.19 L405.55,965.72 L407.13,965.26 L408.71,964.80 L410.28,964.34 L411.86,963.90 L413.43,963.45 L415.01,963.01 L416.59,962.58 L418.16,962.15 L419.74,961.73 L421.32,961.31 L422.89,960.89 L424.47,960.48 L426.04,960.08 L427.62,959.68 L429.20,959.28 L430.77,958.89 L432.35,958.51 L433.93,958.13 L435.50,957.75 L437.08,957.38 L438.65,957.02 L440.23,956.66 L441.81,956.30 L443.38,955.95 L444.96,955.60 L446.54,955.26 L448.11,954.92 L449.69,954.59 L451.26,954.26 L452.84,953.93 L454.42,953.61 L455.99,953.30 L457.57,952.98 L459.15,952.68 L460.72,952.37 L462.30,952.08 L463.87,951.78 L465.45,951.49 L467.03,951.20 L468.60,950.92 L470.18,950.64 L471.76,950.37 L473.33,950.10 L474.91,949.83 L476.48,949.57 L478.06,949.31 L479.64,949.05 L481.21,948.80 L482.79,948.55 L484.37,948.30 L485.94,948.05 L487.52,947.81 L489.09,947.58 L490.67,947.34 L492.25,947.11 L493.82,946.88 L495.40,946.66 L496.98,946.43 L498.55,946.21 L500.13,945.99 L501.70,945.78 L503.28,945.57 L504.86,945.36 L506.43,945.15 L508.01,944.95 L509.59,944.75 L511.16,944.55 L512.74,944.36 L514.31,944.17 L515.89,943.98 L517.47,943.80 L519.04,943.61 L520.62,943.43 L522.20,943.26 L523.77,943.08 L525.35,942.91 L526.92,942.74 L528.50,942.58 L530.08,942.42 L531.65,942.26 L533.23,942.10 L534.81,941.94 L536.38,941.79 L537.96,941.64 L539.53,941.50 L541.11,941.35 L542.69,941.21 L544.26,941.07 L545.84,940.94 L547.42,940.80 L548.99,940.67 L550.57,940.54 L552.14,940.42 L553.72,940.29 L555.30,940.17 L556.87,940.05 L558.45,939.94 L560.03,939.82 L561.60,939.71 L563.18,939.60 L564.75,939.49 L566.33,939.38 L567.91,939.28 L569.48,939.17 L571.06,939.07 L572.64,938.97 L574.21,938.88 L575.79,938.78 L577.36,938.69 L578.94,938.60 L580.52,938.50 L582.09,938.42 L583.67,938.33 L585.25,938.24 L586.82,938.16 L588.40,938.07 L589.97,937.99 L591.55,937.91 L593.13,937.83 L594.70,937.75 L596.28,937.67 L597.86,937.59 L599.43,937.52 L601.01,937.44 L602.58,937.37 L604.16,937.29 L605.74,937.22 L607.31,937.14 L608.89,937.07 L610.47,937.00 L612.04,936.93 L613.62,936.85 L615.19,936.78 L616.77,936.71 L618.35,936.64 L619.92,936.57 L621.50,936.50" fill="none" stroke="#1a4f96" stroke-width="1.6" stroke-linejoin="round"/>
<path d="M173.14,648.80 L174.11,650.28 L175.08,651.75 L176.06,653.23 L177.03,654.71 L178.00,656.19 L178.97,657.66 L179.94,659.14 L180.92,660.62 L181.89,662.10 L182.86,663.57 L183.84,665.05 L184.81,666.53 L185.78,668.00 L186.76,669.48 L187.73,670.96 L188.70,672.44 L189.68,673.91 L190.65,675.39 L191.63,676.87 L192.61,678.35 L193.58,679.82 L194.56,681.30 L195.54,682.78 L196.51,684.25 L197.49,685.73 L198.47,687.21 L199.45,688.69 L200.43,690.16 L201.41,691.64 L202.39,693.12 L203.37,694.59 L204.36,696.07 L205.34,697.55 L206.32,699.03 L207.31,700.50 L208.29,701.98 L209.28,703.46 L210.27,704.94 L211.25,706.41 L212.24,707.89 L213.23,709.37 L214.22,710.84 L215.21,712.32 L216.20,713.80 L217.20,715.28 L218.19,716.75 L219.18,718.23 L220.18,719.71 L221.18,721.19 L222.17,722.66 L223.17,724.14 L224.17,725.62 L225.17,727.09 L226.17,728.57 L227.17,730.05 L228.18,731.53 L229.18,733.00 L230.19,734.48 L231.19,735.96 L232.20,737.44 L233.21,738.91 L234.22,740.39 L235.23,741.87 L236.25,743.34 L237.26,744.82 L238.28,746.30 L239.29,747.78 L240.31,749.25 L241.33,750.73 L242.35,752.21 L243.38,753.69 L244.40,755.16 L245.43,756.64 L246.45,758.12 L247.48,759.59 L248.51,761.07 L249.55,762.55 L250.58,764.03 L251.62,765.50 L252.66,766.98 L253.70,768.46 L254.74,769.94 L255.79,771.41 L256.83,772.89 L257.88,774.37 L258.93,775.84 L259.99,777.32 L261.04,778.80 L262.10,780.28 L263.16,781.75 L264.23,783.23 L265.29,784.71 L266.36,786.18 L267.43,787.66 L268.50,789.14 L269.58,790.62 L270.66,792.09 L271.74,793.57 L272.82,795.05 L273.90,796.53 L274.99,798.00 L276.08,799.48 L277.18,800.96 L278.27,802.43 L279.37,803.91 L280.47,805.39 L281.57,806.87 L282.68,808.34 L283.79,809.82 L284.90,811.30 L286.01,812.78 L287.12,814.25 L288.24,815.73 L289.36,817.21 L290.48,818.68 L291.61,820.16 L292.74,821.64 L293.86,823.12 L295.00,824.59 L296.13,826.07 L297.27,827.55 L298.40,829.03 L299.54,830.50 L300.69,831.98 L301.83,833.46 L302.98,834.93 L304.13,836.41 L305.28,837.89 L306.43,839.37 L307.59,840.84 L308.74,842.32 L309.90,843.80 L311.06,845.28 L312.23,846.75 L313.39,848.23 L314.56,849.71 L315.73,851.18 L316.90,852.66 L318.07,854.14 L319.24,855.62 L320.42,857.09 L321.59,858.57 L322.77,860.05 L323.95,861.53 L325.14,863.00 L326.32,864.48 L327.51,865.96 L328.70,867.43 L329.88,868.91 L331.08,870.39 L332.27,871.87 L333.47,873.34 L334.66,874.82 L335.86,876.30 L337.06,877.77 L338.27,879.25 L339.47,880.73 L340.68,882.21 L341.89,883.68 L343.11,885.16 L344.32,886.64 L345.54,888.12 L346.76,889.59 L347.98,891.07 L349.21,892.55 L350.44,894.02 L351.67,895.50 L352.91,896.98 L354.14,898.46 L355.39,899.93 L356.63,901.41 L357.88,902.89 L359.13,904.37 L360.39,905.84 L361.64,907.32 L362.91,908.80 L364.17,910.27 L365.44,911.75 L366.72,913.23 L367.99,914.71 L369.28,916.18 L370.56,917.66 L371.85,919.14 L373.15,920.62 L374.44,922.09 L375.75,923.57 L377.05,925.05 L378.36,926.52 L379.68,928.00 L381.00,929.48 L382.32,930.96 L383.65,932.43 L384.99,933.91 L386.32,935.39 L387.67,936.87 L389.01,938.34 L390.36,939.82 L391.72,941.30 L393.08,942.77 L394.45,944.25 L395.82,945.73 L397.19,947.21 L398.57,948.68 L399.96,950.16 L401.34,951.64 L402.74,953.12 L404.14,954.59 L405.54,956.07 L406.95,957.55 L408.36,959.02 L409.78,960.50 L411.20,961.98 L412.63,963.46 L414.06,964.93 L415.50,966.41 L416.94,967.89 L418.38,969.36 L419.84,970.84 L421.29,972.32 L422.75,973.80 L424.22,975.27 L425.69,976.75 L427.16,978.23 L428.64,979.71 L430.12,981.18 L431.61,982.66 L433.10,984.14 L434.60,985.61 L436.10,987.09 L437.61,988.57 L439.12,990.05 L440.63,991.52 L442.15,993.00 L443.67,994.48 L445.20,995.96 L446.73,997.43 L448.26,998.91 L449.80,1000.39 L451.34,1001.86 L452.88,1003.34 L454.43,1004.82 L455.99,1006.30 L457.54,1007.77 L459.10,1009.25 L460.66,1010.73 L462.23,1012.21 L463.79,1013.68 L465.37,1015.16 L466.94,1016.64 L468.51,1018.11 L470.09,1019.59 L471.67,1021.07 L473.26,1022.55 L474.84,1024.02 L476.43,1025.50 L478.01,1026.98 L479.60,1028.46 L481.19,1029.93 L482.79,1031.41 L484.38,1032.89 L485.97,1034.36 L487.57,1035.84 L489.17,1037.32 L490.76,1038.80 L492.36,1040.27 L493.96,1041.75 L495.56,1043.23 L497.16,1044.71 L498.75,1046.18 L500.35,1047.66 L501.95,1049.14 L503.55,1050.61 L505.15,1052.09 L506.75,1053.57 L508.35,1055.05 L509.95,1056.52 L511.55,1058.00 L513.15,1059.48 L514.75,1060.95 L516.34,1062.43 L517.94,1063.91 L519.54,1065.39 L521.14,1066.86 L522.73,1068.34 L524.33,1069.82 L525.93,1071.30 L527.52,1072.77 L529.12,1074.25 L530.71,1075.73 L532.31,1077.20 L533.91,1078.68 L535.50,1080.16 L537.10,1081.64 L538.69,1083.11 L540.29,1084.59 L541.88,1086.07 L543.48,1087.55 L545.07,1089.02 L546.66,1090.50" fill="none" stroke="#d6f6f6" stroke-width="4.0" clip-path="url(#cC)"/>
<path d="M173.14,648.80 L174.11,650.28 L175.08,651.75 L176.06,653.23 L177.03,654.71 L178.00,656.19 L178.97,657.66 L179.94,659.14 L180.92,660.62 L181.89,662.10 L182.86,663.57 L183.84,665.05 L184.81,666.53 L185.78,668.00 L186.76,669.48 L187.73,670.96 L188.70,672.44 L189.68,673.91 L190.65,675.39 L191.63,676.87 L192.61,678.35 L193.58,679.82 L194.56,681.30 L195.54,682.78 L196.51,684.25 L197.49,685.73 L198.47,687.21 L199.45,688.69 L200.43,690.16 L201.41,691.64 L202.39,693.12 L203.37,694.59 L204.36,696.07 L205.34,697.55 L206.32,699.03 L207.31,700.50 L208.29,701.98 L209.28,703.46 L210.27,704.94 L211.25,706.41 L212.24,707.89 L213.23,709.37 L214.22,710.84 L215.21,712.32 L216.20,713.80 L217.20,715.28 L218.19,716.75 L219.18,718.23 L220.18,719.71 L221.18,721.19 L222.17,722.66 L223.17,724.14 L224.17,725.62 L225.17,727.09 L226.17,728.57 L227.17,730.05 L228.18,731.53 L229.18,733.00 L230.19,734.48 L231.19,735.96 L232.20,737.44 L233.21,738.91 L234.22,740.39 L235.23,741.87 L236.25,743.34 L237.26,744.82 L238.28,746.30 L239.29,747.78 L240.31,749.25 L241.33,750.73 L242.35,752.21 L243.38,753.69 L244.40,755.16 L245.43,756.64 L246.45,758.12 L247.48,759.59 L248.51,761.07 L249.55,762.55 L250.58,764.03 L251.62,765.50 L252.66,766.98 L253.70,768.46 L254.74,769.94 L255.79,771.41 L256.83,772.89 L257.88,774.37 L258.93,775.84 L259.99,777.32 L261.04,778.80 L262.10,780.28 L263.16,781.75 L264.23,783.23 L265.29,784.71 L266.36,786.18 L267.43,787.66 L268.50,789.14 L269.58,790.62 L270.66,792.09 L271.74,793.57 L272.82,795.05 L273.90,796.53 L274.99,798.00 L276.08,799.48 L277.18,800.96 L278.27,802.43 L279.37,803.91 L280.47,805.39 L281.57,806.87 L282.68,808.34 L283.79,809.82 L284.90,811.30 L286.01,812.78 L287.12,814.25 L288.24,815.73 L289.36,817.21 L290.48,818.68 L291.61,820.16 L292.74,821.64 L293.86,823.12 L295.00,824.59 L296.13,826.07 L297.27,827.55 L298.40,829.03 L299.54,830.50 L300.69,831.98 L301.83,833.46 L302.98,834.93 L304.13,836.41 L305.28,837.89 L306.43,839.37 L307.59,840.84 L308.74,842.32 L309.90,843.80 L311.06,845.28 L312.23,846.75 L313.39,848.23 L314.56,849.71 L315.73,851.18 L316.90,852.66 L318.07,854.14 L319.24,855.62 L320.42,857.09 L321.59,858.57 L322.77,860.05 L323.95,861.53 L325.14,863.00 L326.32,864.48 L327.51,865.96 L328.70,867.43 L329.88,868.91 L331.08,870.39 L332.27,871.87 L333.47,873.34 L334.66,874.82 L335.86,876.30 L337.06,877.77 L338.27,879.25 L339.47,880.73 L340.68,882.21 L341.89,883.68 L343.11,885.16 L344.32,886.64 L345.54,888.12 L346.76,889.59 L347.98,891.07 L349.21,892.55 L350.44,894.02 L351.67,895.50 L352.91,896.98 L354.14,898.46 L355.39,899.93 L356.63,901.41 L357.88,902.89 L359.13,904.37 L360.39,905.84 L361.64,907.32 L362.91,908.80 L364.17,910.27 L365.44,911.75 L366.72,913.23 L367.99,914.71 L369.28,916.18 L370.56,917.66 L371.85,919.14 L373.15,920.62 L374.44,922.09 L375.75,923.57 L377.05,925.05 L378.36,926.52 L379.68,928.00 L381.00,929.48 L382.32,930.96 L383.65,932.43 L384.99,933.91 L386.32,935.39 L387.67,936.87 L389.01,938.34 L390.36,939.82 L391.72,941.30 L393.08,942.77 L394.45,944.25 L395.82,945.73 L397.19,947.21 L398.57,948.68 L399.96,950.16 L401.34,951.64 L402.74,953.12 L404.14,954.59 L405.54,956.07 L406.95,957.55 L408.36,959.02 L409.78,960.50 L411.20,961.98 L412.63,963.46 L414.06,964.93 L415.50,966.41 L416.94,967.89 L418.38,969.36 L419.84,970.84 L421.29,972.32 L422.75,973.80 L424.22,975.27 L425.69,976.75 L427.16,978.23 L428.64,979.71 L430.12,981.18 L431.61,982.66 L433.10,984.14 L434.60,985.61 L436.10,987.09 L437.61,988.57 L439.12,990.05 L440.63,991.52 L442.15,993.00 L443.67,994.48 L445.20,995.96 L446.73,997.43 L448.26,998.91 L449.80,1000.39 L451.34,1001.86 L452.88,1003.34 L454.43,1004.82 L455.99,1006.30 L457.54,1007.77 L459.10,1009.25 L460.66,1010.73 L462.23,1012.21 L463.79,1013.68 L465.37,1015.16 L466.94,1016.64 L468.51,1018.11 L470.09,1019.59 L471.67,1021.07 L473.26,1022.55 L474.84,1024.02 L476.43,1025.50 L478.01,1026.98 L479.60,1028.46 L481.19,1029.93 L482.79,1031.41 L484.38,1032.89 L485.97,1034.36 L487.57,1035.84 L489.17,1037.32 L490.76,1038.80 L492.36,1040.27 L493.96,1041.75 L495.56,1043.23 L497.16,1044.71 L498.75,1046.18 L500.35,1047.66 L501.95,1049.14 L503.55,1050.61 L505.15,1052.09 L506.75,1053.57 L508.35,1055.05 L509.95,1056.52 L511.55,1058.00 L513.15,1059.48 L514.75,1060.95 L516.34,1062.43 L517.94,1063.91 L519.54,1065.39 L521.14,1066.86 L522.73,1068.34 L524.33,1069.82 L525.93,1071.30 L527.52,1072.77 L529.12,1074.25 L530.71,1075.73 L532.31,1077.20 L533.91,1078.68 L535.50,1080.16 L537.10,1081.64 L538.69,1083.11 L540.29,1084.59 L541.88,1086.07 L543.48,1087.55 L545.07,1089.02 L546.66,1090.50" fill="none" stroke="#000" stroke-width="1.8" stroke-linejoin="round"/>
<line x1="546.1" y1="1098.9" x2="546.1" y2="1118.2" stroke="#000" stroke-width="1.8" stroke-linecap="butt"/>
<line x1="99.9" y1="648.6" x2="99.9" y2="1090.9" stroke="#3c4444" stroke-width="1.1" stroke-linecap="butt"/>
<line x1="99.9" y1="1098.9" x2="99.9" y2="1118.2" stroke="#3c4444" stroke-width="1.1" stroke-linecap="butt"/>
<line x1="80.05" y1="647.45" x2="80.05" y2="1090.3" stroke="#000" stroke-width="1.7" stroke-linecap="butt"/>
<line x1="80.05" y1="1099.5" x2="80.05" y2="1119.1" stroke="#000" stroke-width="1.7" stroke-linecap="butt"/>
<line x1="71.05" y1="648.3" x2="80.05" y2="648.3" stroke="#000" stroke-width="1.7" stroke-linecap="butt"/>
<text x="64.75" y="655.1" font-size="22.4" fill="#000" text-anchor="end">70</text>
<line x1="71.05" y1="774.6" x2="80.05" y2="774.6" stroke="#000" stroke-width="1.7" stroke-linecap="butt"/>
<text x="64.75" y="781.4" font-size="22.4" fill="#000" text-anchor="end">60</text>
<line x1="71.05" y1="900.9" x2="80.05" y2="900.9" stroke="#000" stroke-width="1.7" stroke-linecap="butt"/>
<text x="64.75" y="907.7" font-size="22.4" fill="#000" text-anchor="end">50</text>
<line x1="71.05" y1="1027.2" x2="80.05" y2="1027.2" stroke="#000" stroke-width="1.7" stroke-linecap="butt"/>
<text x="64.75" y="1034" font-size="22.4" fill="#000" text-anchor="end">40</text>
<line x1="71.05" y1="1090.35" x2="80.05" y2="1090.35" stroke="#000" stroke-width="1.7" stroke-linecap="butt"/>
<text x="64.75" y="1097.15" font-size="22.4" fill="#000" text-anchor="end">35</text>
<line x1="71.05" y1="1118.25" x2="80.05" y2="1118.25" stroke="#000" stroke-width="1.7" stroke-linecap="butt"/>
<text x="64.75" y="1125.05" font-size="22.4" fill="#000" text-anchor="end">0</text>
<line x1="75.15" y1="711.45" x2="80.05" y2="711.45" stroke="#000" stroke-width="1.7" stroke-linecap="butt"/>
<line x1="75.15" y1="837.75" x2="80.05" y2="837.75" stroke="#000" stroke-width="1.7" stroke-linecap="butt"/>
<line x1="75.15" y1="964.05" x2="80.05" y2="964.05" stroke="#000" stroke-width="1.7" stroke-linecap="butt"/>
<line x1="71.5" y1="1094.8" x2="89.1" y2="1087" stroke="#000" stroke-width="1.7" stroke-linecap="butt"/>
<line x1="71.5" y1="1103.1" x2="89.1" y2="1095.3" stroke="#000" stroke-width="1.7" stroke-linecap="butt"/>
<line x1="80.05" y1="1118.25" x2="87.2" y2="1118.25" stroke="#000" stroke-width="1.7" stroke-linecap="butt"/>
<line x1="100.1" y1="1118.25" x2="752.1" y2="1118.25" stroke="#000" stroke-width="1.7" stroke-linecap="butt"/>
<line x1="99.27" y1="1118.25" x2="99.27" y2="1126.8" stroke="#000" stroke-width="1.7" stroke-linecap="butt"/>
<text x="99.27" y="1150.5" font-size="22.4" fill="#000" text-anchor="middle">2.2</text>
<line x1="165.2" y1="1118.25" x2="165.2" y2="1126.8" stroke="#000" stroke-width="1.7" stroke-linecap="butt"/>
<text x="165.2" y="1150.5" font-size="22.4" fill="#000" text-anchor="middle">4</text>
<line x1="238.46" y1="1118.25" x2="238.46" y2="1126.8" stroke="#000" stroke-width="1.7" stroke-linecap="butt"/>
<text x="238.46" y="1150.5" font-size="22.4" fill="#000" text-anchor="middle">6</text>
<line x1="311.72" y1="1118.25" x2="311.72" y2="1126.8" stroke="#000" stroke-width="1.7" stroke-linecap="butt"/>
<text x="311.72" y="1150.5" font-size="22.4" fill="#000" text-anchor="middle">8</text>
<line x1="384.98" y1="1118.25" x2="384.98" y2="1126.8" stroke="#000" stroke-width="1.7" stroke-linecap="butt"/>
<text x="384.98" y="1150.5" font-size="22.4" fill="#000" text-anchor="middle">10</text>
<line x1="458.24" y1="1118.25" x2="458.24" y2="1126.8" stroke="#000" stroke-width="1.7" stroke-linecap="butt"/>
<text x="458.24" y="1150.5" font-size="22.4" fill="#000" text-anchor="middle">12</text>
<line x1="531.5" y1="1118.25" x2="531.5" y2="1126.8" stroke="#000" stroke-width="1.7" stroke-linecap="butt"/>
<text x="531.5" y="1150.5" font-size="22.4" fill="#000" text-anchor="middle">14</text>
<line x1="604.76" y1="1118.25" x2="604.76" y2="1126.8" stroke="#000" stroke-width="1.7" stroke-linecap="butt"/>
<text x="604.76" y="1150.5" font-size="22.4" fill="#000" text-anchor="middle">16</text>
<line x1="678.02" y1="1118.25" x2="678.02" y2="1126.8" stroke="#000" stroke-width="1.7" stroke-linecap="butt"/>
<text x="678.02" y="1150.5" font-size="22.4" fill="#000" text-anchor="middle">18</text>
<line x1="751.28" y1="1118.25" x2="751.28" y2="1126.8" stroke="#000" stroke-width="1.7" stroke-linecap="butt"/>
<text x="751.28" y="1150.5" font-size="22.4" fill="#000" text-anchor="middle">20</text>
<line x1="201.83" y1="1118.25" x2="201.83" y2="1122.9" stroke="#000" stroke-width="1.7" stroke-linecap="butt"/>
<line x1="275.09" y1="1118.25" x2="275.09" y2="1122.9" stroke="#000" stroke-width="1.7" stroke-linecap="butt"/>
<line x1="348.35" y1="1118.25" x2="348.35" y2="1122.9" stroke="#000" stroke-width="1.7" stroke-linecap="butt"/>
<line x1="421.61" y1="1118.25" x2="421.61" y2="1122.9" stroke="#000" stroke-width="1.7" stroke-linecap="butt"/>
<line x1="494.87" y1="1118.25" x2="494.87" y2="1122.9" stroke="#000" stroke-width="1.7" stroke-linecap="butt"/>
<line x1="568.13" y1="1118.25" x2="568.13" y2="1122.9" stroke="#000" stroke-width="1.7" stroke-linecap="butt"/>
<line x1="641.39" y1="1118.25" x2="641.39" y2="1122.9" stroke="#000" stroke-width="1.7" stroke-linecap="butt"/>
<line x1="714.65" y1="1118.25" x2="714.65" y2="1122.9" stroke="#000" stroke-width="1.7" stroke-linecap="butt"/>
<line x1="82.5" y1="1127.1" x2="93.3" y2="1109.6" stroke="#000" stroke-width="1.7" stroke-linecap="butt"/>
<line x1="94.1" y1="1127.1" x2="105.1" y2="1109.6" stroke="#000" stroke-width="1.7" stroke-linecap="butt"/>
<text x="416" y="1189.3" font-size="24.2" fill="#000" text-anchor="middle">Moisture content (% dry weight)</text>
<text transform="translate(19.45,882.05) rotate(-90)" font-size="24.2" fill="#000" text-anchor="middle"><tspan font-style="italic">T</tspan><tspan font-size="17" dy="6.9">g</tspan><tspan dy="-6.9"> (°C)</tspan></text>
<text x="3.8" y="659.2" font-size="30.4" fill="#000" text-anchor="start" font-weight="bold">C</text>
<line x1="764.8" y1="689.9" x2="764.8" y2="892.5" stroke="#e8141b" stroke-width="1.4" stroke-linecap="butt"/>
<line x1="758.9" y1="891.8" x2="764.8" y2="891.8" stroke="#e8141b" stroke-width="1.4" stroke-linecap="butt"/>
<text x="771" y="897.64" font-size="19.6" fill="#e60000" text-anchor="start">0</text>
<line x1="761.8" y1="871.68" x2="764.8" y2="871.68" stroke="#e8141b" stroke-width="1.4" stroke-linecap="butt"/>
<line x1="758.9" y1="851.56" x2="764.8" y2="851.56" stroke="#e8141b" stroke-width="1.4" stroke-linecap="butt"/>
<text x="771" y="857.4" font-size="19.6" fill="#e60000" text-anchor="start">20</text>
<line x1="761.8" y1="831.44" x2="764.8" y2="831.44" stroke="#e8141b" stroke-width="1.4" stroke-linecap="butt"/>
<line x1="758.9" y1="811.32" x2="764.8" y2="811.32" stroke="#e8141b" stroke-width="1.4" stroke-linecap="butt"/>
<text x="771" y="817.16" font-size="19.6" fill="#e60000" text-anchor="start">40</text>
<line x1="761.8" y1="791.2" x2="764.8" y2="791.2" stroke="#e8141b" stroke-width="1.4" stroke-linecap="butt"/>
<line x1="758.9" y1="771.08" x2="764.8" y2="771.08" stroke="#e8141b" stroke-width="1.4" stroke-linecap="butt"/>
<text x="771" y="776.92" font-size="19.6" fill="#e60000" text-anchor="start">60</text>
<line x1="761.8" y1="750.96" x2="764.8" y2="750.96" stroke="#e8141b" stroke-width="1.4" stroke-linecap="butt"/>
<line x1="758.9" y1="730.84" x2="764.8" y2="730.84" stroke="#e8141b" stroke-width="1.4" stroke-linecap="butt"/>
<text x="771" y="736.68" font-size="19.6" fill="#e60000" text-anchor="start">80</text>
<line x1="761.8" y1="710.72" x2="764.8" y2="710.72" stroke="#e8141b" stroke-width="1.4" stroke-linecap="butt"/>
<line x1="758.9" y1="690.6" x2="764.8" y2="690.6" stroke="#e8141b" stroke-width="1.4" stroke-linecap="butt"/>
<text x="771" y="696.44" font-size="19.6" fill="#e60000" text-anchor="start">100</text>
<text transform="translate(830.5,791.4) rotate(-90)" font-size="22.7" fill="#e60000" text-anchor="middle">eRH (%) at 60°C</text>
<line x1="784.9" y1="934.2" x2="784.9" y2="1096.6" stroke="#2a5c9e" stroke-width="1.4" stroke-linecap="butt"/>
<line x1="779" y1="1095.9" x2="784.9" y2="1095.9" stroke="#2a5c9e" stroke-width="1.4" stroke-linecap="butt"/>
<text x="791.1" y="1100.97" font-size="17.4" fill="#08307f" text-anchor="start">20</text>
<line x1="781.9" y1="1075.78" x2="784.9" y2="1075.78" stroke="#2a5c9e" stroke-width="1.4" stroke-linecap="butt"/>
<line x1="779" y1="1055.65" x2="784.9" y2="1055.65" stroke="#2a5c9e" stroke-width="1.4" stroke-linecap="butt"/>
<text x="791.1" y="1060.72" font-size="17.4" fill="#08307f" text-anchor="start">40</text>
<line x1="781.9" y1="1035.53" x2="784.9" y2="1035.53" stroke="#2a5c9e" stroke-width="1.4" stroke-linecap="butt"/>
<line x1="779" y1="1015.4" x2="784.9" y2="1015.4" stroke="#2a5c9e" stroke-width="1.4" stroke-linecap="butt"/>
<text x="791.1" y="1020.47" font-size="17.4" fill="#08307f" text-anchor="start">60</text>
<line x1="781.9" y1="995.28" x2="784.9" y2="995.28" stroke="#2a5c9e" stroke-width="1.4" stroke-linecap="butt"/>
<line x1="779" y1="975.15" x2="784.9" y2="975.15" stroke="#2a5c9e" stroke-width="1.4" stroke-linecap="butt"/>
<text x="791.1" y="980.22" font-size="17.4" fill="#08307f" text-anchor="start">80</text>
<line x1="781.9" y1="955.02" x2="784.9" y2="955.02" stroke="#2a5c9e" stroke-width="1.4" stroke-linecap="butt"/>
<line x1="779" y1="934.9" x2="784.9" y2="934.9" stroke="#2a5c9e" stroke-width="1.4" stroke-linecap="butt"/>
<text x="791.1" y="939.97" font-size="17.4" fill="#08307f" text-anchor="start">100</text>
<text transform="translate(845,1015.3) rotate(-90)" font-size="20.1" fill="#08307f" text-anchor="middle">eRH (%) at 45°C</text>
<path d="M953.90,1090.90 L953.90,648.60 L1191.19,648.80 L1193.11,650.28 L1195.04,651.75 L1196.96,653.23 L1198.88,654.71 L1200.81,656.18 L1202.73,657.66 L1204.65,659.14 L1206.58,660.61 L1208.50,662.09 L1210.42,663.57 L1212.35,665.04 L1214.27,666.52 L1216.19,668.00 L1218.11,669.47 L1220.04,670.95 L1221.96,672.43 L1223.88,673.90 L1225.80,675.38 L1227.73,676.86 L1229.65,678.33 L1231.57,679.81 L1233.50,681.28 L1235.42,682.76 L1237.34,684.24 L1239.26,685.71 L1241.19,687.19 L1243.11,688.67 L1245.03,690.14 L1246.96,691.62 L1248.88,693.10 L1250.80,694.57 L1252.73,696.05 L1254.65,697.53 L1256.58,699.00 L1258.50,700.48 L1260.42,701.96 L1262.35,703.43 L1264.28,704.91 L1266.20,706.39 L1268.13,707.86 L1270.05,709.34 L1271.98,710.82 L1273.91,712.29 L1275.84,713.77 L1277.77,715.25 L1279.69,716.72 L1281.62,718.20 L1283.55,719.68 L1285.48,721.15 L1287.41,722.63 L1289.34,724.11 L1291.27,725.58 L1293.20,727.06 L1295.13,728.54 L1297.06,730.01 L1298.99,731.49 L1300.92,732.97 L1302.85,734.44 L1304.78,735.92 L1306.71,737.40 L1308.64,738.87 L1310.57,740.35 L1312.50,741.83 L1314.43,743.30 L1316.36,744.78 L1318.28,746.25 L1320.21,747.73 L1322.14,749.21 L1324.06,750.68 L1325.99,752.16 L1327.91,753.64 L1329.83,755.11 L1331.76,756.59 L1333.68,758.07 L1335.60,759.54 L1337.52,761.02 L1339.43,762.50 L1341.35,763.97 L1343.27,765.45 L1345.18,766.93 L1347.09,768.40 L1349.00,769.88 L1350.90,771.36 L1352.80,772.83 L1354.70,774.31 L1356.60,775.79 L1358.49,777.26 L1360.38,778.74 L1362.27,780.22 L1364.15,781.69 L1366.03,783.17 L1367.90,784.65 L1369.77,786.12 L1371.64,787.60 L1373.50,789.08 L1375.35,790.55 L1377.20,792.03 L1379.04,793.51 L1380.88,794.98 L1382.71,796.46 L1384.54,797.94 L1386.35,799.41 L1388.17,800.89 L1389.97,802.37 L1391.77,803.84 L1393.56,805.32 L1395.35,806.79 L1397.13,808.27 L1398.90,809.75 L1400.66,811.22 L1402.42,812.70 L1404.17,814.18 L1405.91,815.65 L1407.64,817.13 L1409.37,818.61 L1411.08,820.08 L1412.79,821.56 L1414.49,823.04 L1416.19,824.51 L1417.87,825.99 L1419.55,827.47 L1421.22,828.94 L1422.88,830.42 L1424.54,831.90 L1426.18,833.37 L1427.82,834.85 L1429.45,836.33 L1431.07,837.80 L1432.68,839.28 L1434.29,840.76 L1435.89,842.23 L1437.47,843.71 L1439.06,845.19 L1440.63,846.66 L1442.19,848.14 L1443.75,849.62 L1445.30,851.09 L1446.84,852.57 L1448.37,854.05 L1449.90,855.52 L1451.41,857.00 L1452.92,858.48 L1454.42,859.95 L1455.92,861.43 L1457.40,862.91 L1458.88,864.38 L1460.35,865.86 L1461.81,867.34 L1463.27,868.81 L1464.71,870.29 L1466.15,871.76 L1467.58,873.24 L1469.01,874.72 L1470.42,876.19 L1471.83,877.67 L1473.23,879.15 L1474.62,880.62 L1476.01,882.10 L1477.38,883.58 L1478.75,885.05 L1480.11,886.53 L1481.46,888.01 L1482.81,889.48 L1484.14,890.96 L1485.47,892.44 L1486.79,893.91 L1488.10,895.39 L1489.41,896.87 L1490.70,898.34 L1491.99,899.82 L1493.27,901.30 L1494.54,902.77 L1495.81,904.25 L1497.06,905.73 L1498.32,907.20 L1499.56,908.68 L1500.79,910.16 L1502.02,911.63 L1503.24,913.11 L1504.46,914.59 L1505.67,916.06 L1506.87,917.54 L1508.06,919.02 L1509.25,920.49 L1510.43,921.97 L1511.60,923.45 L1512.77,924.92 L1513.93,926.40 L1515.09,927.88 L1516.23,929.35 L1517.38,930.83 L1518.51,932.31 L1519.64,933.78 L1520.76,935.26 L1521.87,936.73 L1522.98,938.21 L1524.08,939.69 L1525.17,941.16 L1526.26,942.64 L1527.34,944.12 L1528.41,945.59 L1529.47,947.07 L1530.52,948.55 L1531.57,950.02 L1532.61,951.50 L1533.64,952.98 L1534.66,954.45 L1535.68,955.93 L1536.68,957.41 L1537.68,958.88 L1538.67,960.36 L1539.64,961.84 L1540.61,963.31 L1541.58,964.79 L1542.53,966.27 L1543.47,967.74 L1544.40,969.22 L1545.33,970.70 L1546.24,972.17 L1547.15,973.65 L1548.05,975.13 L1548.94,976.60 L1549.82,978.08 L1550.69,979.56 L1551.55,981.03 L1552.40,982.51 L1553.24,983.99 L1554.08,985.46 L1554.91,986.94 L1555.72,988.42 L1556.53,989.89 L1557.33,991.37 L1558.12,992.85 L1558.91,994.32 L1559.69,995.80 L1560.45,997.27 L1561.21,998.75 L1561.97,1000.23 L1562.71,1001.70 L1563.45,1003.18 L1564.18,1004.66 L1564.91,1006.13 L1565.63,1007.61 L1566.34,1009.09 L1567.04,1010.56 L1567.74,1012.04 L1568.44,1013.52 L1569.12,1014.99 L1569.81,1016.47 L1570.48,1017.95 L1571.15,1019.42 L1571.82,1020.90 L1572.48,1022.38 L1573.14,1023.85 L1573.79,1025.33 L1574.44,1026.81 L1575.08,1028.28 L1575.72,1029.76 L1576.35,1031.24 L1576.98,1032.71 L1577.61,1034.19 L1578.23,1035.67 L1578.85,1037.14 L1579.47,1038.62 L1580.08,1040.10 L1580.69,1041.57 L1581.30,1043.05 L1581.90,1044.53 L1582.51,1046.00 L1583.10,1047.48 L1583.70,1048.96 L1584.29,1050.43 L1584.89,1051.91 L1585.48,1053.39 L1586.06,1054.86 L1586.65,1056.34 L1587.23,1057.82 L1587.82,1059.29 L1588.40,1060.77 L1588.98,1062.24 L1589.56,1063.72 L1590.13,1065.20 L1590.71,1066.67 L1591.28,1068.15 L1591.86,1069.63 L1592.43,1071.10 L1593.01,1072.58 L1593.58,1074.06 L1594.15,1075.53 L1594.72,1077.01 L1595.29,1078.49 L1595.86,1079.96 L1596.43,1081.44 L1597.00,1082.92 L1597.57,1084.39 L1598.14,1085.87 L1598.71,1087.35 L1599.27,1088.82 L1599.84,1090.30 Z" fill="#b8d1d2"/>
<rect x="953.9" y="1098.9" width="645.3000000000001" height="18.699999999999818" fill="#b8d1d2"/>
<line x1="954.5" y1="649" x2="954.5" y2="1090.9" stroke="#d2f2f2" stroke-width="1.0" stroke-linecap="butt"/>
<line x1="954.5" y1="1098.9" x2="954.5" y2="1117.5" stroke="#d2f2f2" stroke-width="1.0" stroke-linecap="butt"/>
<line x1="955" y1="1117" x2="1598" y2="1117" stroke="#d2f2f2" stroke-width="1.0" stroke-linecap="butt"/>
<line x1="953.9" y1="775.1" x2="1624.2" y2="775.1" stroke="#979797" stroke-width="1.5" stroke-linecap="butt"/>
<line x1="953.9" y1="964.35" x2="1623.6" y2="964.35" stroke="#b2b2b2" stroke-width="1.1" stroke-linecap="butt"/>
<path d="M966.00,831.97 L968.18,831.11 L970.36,830.29 L972.54,829.51 L974.72,828.75 L976.90,828.03 L979.08,827.33 L981.25,826.65 L983.43,826.00 L985.61,825.38 L987.79,824.77 L989.97,824.18 L992.15,823.61 L994.33,823.06 L996.51,822.52 L998.69,822.00 L1000.87,821.50 L1003.05,821.00 L1005.23,820.52 L1007.41,820.05 L1009.59,819.59 L1011.76,819.15 L1013.94,818.71 L1016.12,818.28 L1018.30,817.86 L1020.48,817.45 L1022.66,817.05 L1024.84,816.66 L1027.02,816.27 L1029.20,815.89 L1031.38,815.52 L1033.56,815.15 L1035.74,814.79 L1037.92,814.44 L1040.09,814.09 L1042.27,813.74 L1044.45,813.41 L1046.63,813.07 L1048.81,812.74 L1050.99,812.42 L1053.17,812.10 L1055.35,811.78 L1057.53,811.47 L1059.71,811.16 L1061.89,810.85 L1064.07,810.55 L1066.25,810.25 L1068.43,809.95 L1070.60,809.66 L1072.78,809.37 L1074.96,809.08 L1077.14,808.79 L1079.32,808.51 L1081.50,808.22 L1083.68,807.95 L1085.86,807.67 L1088.04,807.39 L1090.22,807.12 L1092.40,806.85 L1094.58,806.58 L1096.76,806.31 L1098.94,806.04 L1101.11,805.77 L1103.29,805.51 L1105.47,805.24 L1107.65,804.98 L1109.83,804.72 L1112.01,804.46 L1114.19,804.20 L1116.37,803.94 L1118.55,803.69 L1120.73,803.43 L1122.91,803.17 L1125.09,802.92 L1127.27,802.66 L1129.44,802.41 L1131.62,802.16 L1133.80,801.91 L1135.98,801.65 L1138.16,801.40 L1140.34,801.15 L1142.52,800.90 L1144.70,800.65 L1146.88,800.40 L1149.06,800.15 L1151.24,799.90 L1153.42,799.65 L1155.60,799.40 L1157.78,799.15 L1159.95,798.90 L1162.13,798.65 L1164.31,798.40 L1166.49,798.15 L1168.67,797.90 L1170.85,797.65 L1173.03,797.40 L1175.21,797.15 L1177.39,796.90 L1179.57,796.65 L1181.75,796.40 L1183.93,796.15 L1186.11,795.90 L1188.28,795.65 L1190.46,795.40 L1192.64,795.15 L1194.82,794.90 L1197.00,794.64 L1199.18,794.39 L1201.36,794.14 L1203.54,793.89 L1205.72,793.63 L1207.90,793.38 L1210.08,793.12 L1212.26,792.87 L1214.44,792.61 L1216.62,792.36 L1218.79,792.10 L1220.97,791.85 L1223.15,791.59 L1225.33,791.33 L1227.51,791.07 L1229.69,790.81 L1231.87,790.55 L1234.05,790.29 L1236.23,790.03 L1238.41,789.77 L1240.59,789.51 L1242.77,789.25 L1244.95,788.98 L1247.13,788.72 L1249.30,788.46 L1251.48,788.19 L1253.66,787.93 L1255.84,787.66 L1258.02,787.39 L1260.20,787.12 L1262.38,786.86 L1264.56,786.59 L1266.74,786.32 L1268.92,786.04 L1271.10,785.77 L1273.28,785.50 L1275.46,785.23 L1277.63,784.95 L1279.81,784.68 L1281.99,784.40 L1284.17,784.13 L1286.35,783.85 L1288.53,783.57 L1290.71,783.29 L1292.89,783.01 L1295.07,782.73 L1297.25,782.45 L1299.43,782.17 L1301.61,781.89 L1303.79,781.60 L1305.97,781.32 L1308.14,781.03 L1310.32,780.74 L1312.50,780.46 L1314.68,780.17 L1316.86,779.88 L1319.04,779.59 L1321.22,779.29 L1323.40,779.00 L1325.58,778.71 L1327.76,778.41 L1329.94,778.12 L1332.12,777.82 L1334.30,777.52 L1336.47,777.22 L1338.65,776.92 L1340.83,776.62 L1343.01,776.32 L1345.19,776.01 L1347.37,775.71 L1349.55,775.40 L1351.73,775.10 L1353.91,774.79 L1356.09,774.48 L1358.27,774.17 L1360.45,773.86 L1362.63,773.54 L1364.81,773.23 L1366.98,772.91 L1369.16,772.60 L1371.34,772.28 L1373.52,771.96 L1375.70,771.64 L1377.88,771.32 L1380.06,770.99 L1382.24,770.67 L1384.42,770.34 L1386.60,770.01 L1388.78,769.68 L1390.96,769.35 L1393.14,769.02 L1395.32,768.68 L1397.49,768.35 L1399.67,768.01 L1401.85,767.67 L1404.03,767.33 L1406.21,766.99 L1408.39,766.64 L1410.57,766.30 L1412.75,765.95 L1414.93,765.60 L1417.11,765.25 L1419.29,764.89 L1421.47,764.54 L1423.65,764.18 L1425.82,763.82 L1428.00,763.46 L1430.18,763.09 L1432.36,762.73 L1434.54,762.36 L1436.72,761.99 L1438.90,761.61 L1441.08,761.24 L1443.26,760.86 L1445.44,760.48 L1447.62,760.09 L1449.80,759.71 L1451.98,759.32 L1454.16,758.93 L1456.33,758.53 L1458.51,758.13 L1460.69,757.73 L1462.87,757.33 L1465.05,756.92 L1467.23,756.51 L1469.41,756.09 L1471.59,755.67 L1473.77,755.25 L1475.95,754.82 L1478.13,754.39 L1480.31,753.96 L1482.49,753.52 L1484.66,753.07 L1486.84,752.63 L1489.02,752.17 L1491.20,751.71 L1493.38,751.25 L1495.56,750.78 L1497.74,750.31 L1499.92,749.83 L1502.10,749.34 L1504.28,748.85 L1506.46,748.35 L1508.64,747.84 L1510.82,747.33 L1513.00,746.81 L1515.17,746.28 L1517.35,745.74 L1519.53,745.20 L1521.71,744.65 L1523.89,744.08 L1526.07,743.51 L1528.25,742.93 L1530.43,742.33 L1532.61,741.73 L1534.79,741.11 L1536.97,740.48 L1539.15,739.84 L1541.33,739.18 L1543.51,738.51 L1545.68,737.83 L1547.86,737.12 L1550.04,736.40 L1552.22,735.67 L1554.40,734.91 L1556.58,734.13 L1558.76,733.33 L1560.94,732.51 L1563.12,731.66 L1565.30,730.79 L1567.48,729.88 L1569.66,728.95 L1571.84,727.99 L1574.01,726.99 L1576.19,725.95 L1578.37,724.87 L1580.55,723.75 L1582.73,722.58 L1584.91,721.35 L1587.09,720.08 L1589.27,718.74 L1591.45,717.33 L1593.63,715.85 L1595.81,714.30 L1597.99,712.65 L1600.17,710.90 L1602.35,709.05 L1604.52,707.07 L1606.70,704.96 L1608.88,702.70 L1611.06,700.27 L1613.24,697.64 L1615.42,694.79 L1617.60,691.69" fill="none" stroke="#a6fbfb" stroke-width="3.2" clip-path="url(#cD)"/>
<path d="M966.00,831.97 L968.18,831.11 L970.36,830.29 L972.54,829.51 L974.72,828.75 L976.90,828.03 L979.08,827.33 L981.25,826.65 L983.43,826.00 L985.61,825.38 L987.79,824.77 L989.97,824.18 L992.15,823.61 L994.33,823.06 L996.51,822.52 L998.69,822.00 L1000.87,821.50 L1003.05,821.00 L1005.23,820.52 L1007.41,820.05 L1009.59,819.59 L1011.76,819.15 L1013.94,818.71 L1016.12,818.28 L1018.30,817.86 L1020.48,817.45 L1022.66,817.05 L1024.84,816.66 L1027.02,816.27 L1029.20,815.89 L1031.38,815.52 L1033.56,815.15 L1035.74,814.79 L1037.92,814.44 L1040.09,814.09 L1042.27,813.74 L1044.45,813.41 L1046.63,813.07 L1048.81,812.74 L1050.99,812.42 L1053.17,812.10 L1055.35,811.78 L1057.53,811.47 L1059.71,811.16 L1061.89,810.85 L1064.07,810.55 L1066.25,810.25 L1068.43,809.95 L1070.60,809.66 L1072.78,809.37 L1074.96,809.08 L1077.14,808.79 L1079.32,808.51 L1081.50,808.22 L1083.68,807.95 L1085.86,807.67 L1088.04,807.39 L1090.22,807.12 L1092.40,806.85 L1094.58,806.58 L1096.76,806.31 L1098.94,806.04 L1101.11,805.77 L1103.29,805.51 L1105.47,805.24 L1107.65,804.98 L1109.83,804.72 L1112.01,804.46 L1114.19,804.20 L1116.37,803.94 L1118.55,803.69 L1120.73,803.43 L1122.91,803.17 L1125.09,802.92 L1127.27,802.66 L1129.44,802.41 L1131.62,802.16 L1133.80,801.91 L1135.98,801.65 L1138.16,801.40 L1140.34,801.15 L1142.52,800.90 L1144.70,800.65 L1146.88,800.40 L1149.06,800.15 L1151.24,799.90 L1153.42,799.65 L1155.60,799.40 L1157.78,799.15 L1159.95,798.90 L1162.13,798.65 L1164.31,798.40 L1166.49,798.15 L1168.67,797.90 L1170.85,797.65 L1173.03,797.40 L1175.21,797.15 L1177.39,796.90 L1179.57,796.65 L1181.75,796.40 L1183.93,796.15 L1186.11,795.90 L1188.28,795.65 L1190.46,795.40 L1192.64,795.15 L1194.82,794.90 L1197.00,794.64 L1199.18,794.39 L1201.36,794.14 L1203.54,793.89 L1205.72,793.63 L1207.90,793.38 L1210.08,793.12 L1212.26,792.87 L1214.44,792.61 L1216.62,792.36 L1218.79,792.10 L1220.97,791.85 L1223.15,791.59 L1225.33,791.33 L1227.51,791.07 L1229.69,790.81 L1231.87,790.55 L1234.05,790.29 L1236.23,790.03 L1238.41,789.77 L1240.59,789.51 L1242.77,789.25 L1244.95,788.98 L1247.13,788.72 L1249.30,788.46 L1251.48,788.19 L1253.66,787.93 L1255.84,787.66 L1258.02,787.39 L1260.20,787.12 L1262.38,786.86 L1264.56,786.59 L1266.74,786.32 L1268.92,786.04 L1271.10,785.77 L1273.28,785.50 L1275.46,785.23 L1277.63,784.95 L1279.81,784.68 L1281.99,784.40 L1284.17,784.13 L1286.35,783.85 L1288.53,783.57 L1290.71,783.29 L1292.89,783.01 L1295.07,782.73 L1297.25,782.45 L1299.43,782.17 L1301.61,781.89 L1303.79,781.60 L1305.97,781.32 L1308.14,781.03 L1310.32,780.74 L1312.50,780.46 L1314.68,780.17 L1316.86,779.88 L1319.04,779.59 L1321.22,779.29 L1323.40,779.00 L1325.58,778.71 L1327.76,778.41 L1329.94,778.12 L1332.12,777.82 L1334.30,777.52 L1336.47,777.22 L1338.65,776.92 L1340.83,776.62 L1343.01,776.32 L1345.19,776.01 L1347.37,775.71 L1349.55,775.40 L1351.73,775.10 L1353.91,774.79 L1356.09,774.48 L1358.27,774.17 L1360.45,773.86 L1362.63,773.54 L1364.81,773.23 L1366.98,772.91 L1369.16,772.60 L1371.34,772.28 L1373.52,771.96 L1375.70,771.64 L1377.88,771.32 L1380.06,770.99 L1382.24,770.67 L1384.42,770.34 L1386.60,770.01 L1388.78,769.68 L1390.96,769.35 L1393.14,769.02 L1395.32,768.68 L1397.49,768.35 L1399.67,768.01 L1401.85,767.67 L1404.03,767.33 L1406.21,766.99 L1408.39,766.64 L1410.57,766.30 L1412.75,765.95 L1414.93,765.60 L1417.11,765.25 L1419.29,764.89 L1421.47,764.54 L1423.65,764.18 L1425.82,763.82 L1428.00,763.46 L1430.18,763.09 L1432.36,762.73 L1434.54,762.36 L1436.72,761.99 L1438.90,761.61 L1441.08,761.24 L1443.26,760.86 L1445.44,760.48 L1447.62,760.09 L1449.80,759.71 L1451.98,759.32 L1454.16,758.93 L1456.33,758.53 L1458.51,758.13 L1460.69,757.73 L1462.87,757.33 L1465.05,756.92 L1467.23,756.51 L1469.41,756.09 L1471.59,755.67 L1473.77,755.25 L1475.95,754.82 L1478.13,754.39 L1480.31,753.96 L1482.49,753.52 L1484.66,753.07 L1486.84,752.63 L1489.02,752.17 L1491.20,751.71 L1493.38,751.25 L1495.56,750.78 L1497.74,750.31 L1499.92,749.83 L1502.10,749.34 L1504.28,748.85 L1506.46,748.35 L1508.64,747.84 L1510.82,747.33 L1513.00,746.81 L1515.17,746.28 L1517.35,745.74 L1519.53,745.20 L1521.71,744.65 L1523.89,744.08 L1526.07,743.51 L1528.25,742.93 L1530.43,742.33 L1532.61,741.73 L1534.79,741.11 L1536.97,740.48 L1539.15,739.84 L1541.33,739.18 L1543.51,738.51 L1545.68,737.83 L1547.86,737.12 L1550.04,736.40 L1552.22,735.67 L1554.40,734.91 L1556.58,734.13 L1558.76,733.33 L1560.94,732.51 L1563.12,731.66 L1565.30,730.79 L1567.48,729.88 L1569.66,728.95 L1571.84,727.99 L1574.01,726.99 L1576.19,725.95 L1578.37,724.87 L1580.55,723.75 L1582.73,722.58 L1584.91,721.35 L1587.09,720.08 L1589.27,718.74 L1591.45,717.33 L1593.63,715.85 L1595.81,714.30 L1597.99,712.65 L1600.17,710.90 L1602.35,709.05 L1604.52,707.07 L1606.70,704.96 L1608.88,702.70 L1611.06,700.27 L1613.24,697.64 L1615.42,694.79 L1617.60,691.69" fill="none" stroke="#ee2222" stroke-width="1.4" stroke-linejoin="round"/>
<path d="M966.00,1065.09 L968.18,1064.13 L970.36,1063.21 L972.54,1062.33 L974.72,1061.48 L976.90,1060.67 L979.08,1059.89 L981.25,1059.14 L983.43,1058.41 L985.61,1057.72 L987.79,1057.04 L989.97,1056.39 L992.15,1055.76 L994.33,1055.15 L996.51,1054.55 L998.69,1053.98 L1000.87,1053.42 L1003.05,1052.87 L1005.23,1052.34 L1007.41,1051.83 L1009.59,1051.32 L1011.76,1050.83 L1013.94,1050.36 L1016.12,1049.89 L1018.30,1049.43 L1020.48,1048.98 L1022.66,1048.55 L1024.84,1048.12 L1027.02,1047.70 L1029.20,1047.28 L1031.38,1046.88 L1033.56,1046.48 L1035.74,1046.09 L1037.92,1045.70 L1040.09,1045.32 L1042.27,1044.95 L1044.45,1044.58 L1046.63,1044.22 L1048.81,1043.87 L1050.99,1043.51 L1053.17,1043.16 L1055.35,1042.82 L1057.53,1042.48 L1059.71,1042.15 L1061.89,1041.81 L1064.07,1041.48 L1066.25,1041.16 L1068.43,1040.84 L1070.60,1040.52 L1072.78,1040.20 L1074.96,1039.89 L1077.14,1039.57 L1079.32,1039.26 L1081.50,1038.96 L1083.68,1038.65 L1085.86,1038.35 L1088.04,1038.05 L1090.22,1037.75 L1092.40,1037.45 L1094.58,1037.15 L1096.76,1036.86 L1098.94,1036.56 L1101.11,1036.27 L1103.29,1035.98 L1105.47,1035.69 L1107.65,1035.40 L1109.83,1035.11 L1112.01,1034.82 L1114.19,1034.53 L1116.37,1034.25 L1118.55,1033.96 L1120.73,1033.68 L1122.91,1033.39 L1125.09,1033.11 L1127.27,1032.82 L1129.44,1032.54 L1131.62,1032.26 L1133.80,1031.97 L1135.98,1031.69 L1138.16,1031.41 L1140.34,1031.13 L1142.52,1030.84 L1144.70,1030.56 L1146.88,1030.28 L1149.06,1030.00 L1151.24,1029.71 L1153.42,1029.43 L1155.60,1029.15 L1157.78,1028.87 L1159.95,1028.58 L1162.13,1028.30 L1164.31,1028.01 L1166.49,1027.73 L1168.67,1027.45 L1170.85,1027.16 L1173.03,1026.88 L1175.21,1026.59 L1177.39,1026.31 L1179.57,1026.02 L1181.75,1025.73 L1183.93,1025.45 L1186.11,1025.16 L1188.28,1024.87 L1190.46,1024.58 L1192.64,1024.29 L1194.82,1024.00 L1197.00,1023.71 L1199.18,1023.42 L1201.36,1023.13 L1203.54,1022.84 L1205.72,1022.55 L1207.90,1022.25 L1210.08,1021.96 L1212.26,1021.66 L1214.44,1021.37 L1216.62,1021.07 L1218.79,1020.78 L1220.97,1020.48 L1223.15,1020.18 L1225.33,1019.88 L1227.51,1019.59 L1229.69,1019.29 L1231.87,1018.99 L1234.05,1018.68 L1236.23,1018.38 L1238.41,1018.08 L1240.59,1017.78 L1242.77,1017.47 L1244.95,1017.17 L1247.13,1016.86 L1249.30,1016.56 L1251.48,1016.25 L1253.66,1015.94 L1255.84,1015.64 L1258.02,1015.33 L1260.20,1015.02 L1262.38,1014.71 L1264.56,1014.40 L1266.74,1014.08 L1268.92,1013.77 L1271.10,1013.46 L1273.28,1013.14 L1275.46,1012.83 L1277.63,1012.51 L1279.81,1012.20 L1281.99,1011.88 L1284.17,1011.56 L1286.35,1011.24 L1288.53,1010.92 L1290.71,1010.60 L1292.89,1010.28 L1295.07,1009.96 L1297.25,1009.64 L1299.43,1009.32 L1301.61,1008.99 L1303.79,1008.67 L1305.97,1008.34 L1308.14,1008.02 L1310.32,1007.69 L1312.50,1007.36 L1314.68,1007.03 L1316.86,1006.71 L1319.04,1006.38 L1321.22,1006.05 L1323.40,1005.71 L1325.58,1005.38 L1327.76,1005.05 L1329.94,1004.71 L1332.12,1004.38 L1334.30,1004.04 L1336.47,1003.71 L1338.65,1003.37 L1340.83,1003.03 L1343.01,1002.70 L1345.19,1002.36 L1347.37,1002.02 L1349.55,1001.67 L1351.73,1001.33 L1353.91,1000.99 L1356.09,1000.65 L1358.27,1000.30 L1360.45,999.96 L1362.63,999.61 L1364.81,999.26 L1366.98,998.92 L1369.16,998.57 L1371.34,998.22 L1373.52,997.87 L1375.70,997.52 L1377.88,997.16 L1380.06,996.81 L1382.24,996.45 L1384.42,996.10 L1386.60,995.74 L1388.78,995.39 L1390.96,995.03 L1393.14,994.67 L1395.32,994.31 L1397.49,993.94 L1399.67,993.58 L1401.85,993.22 L1404.03,992.85 L1406.21,992.48 L1408.39,992.12 L1410.57,991.75 L1412.75,991.38 L1414.93,991.00 L1417.11,990.63 L1419.29,990.26 L1421.47,989.88 L1423.65,989.50 L1425.82,989.12 L1428.00,988.74 L1430.18,988.36 L1432.36,987.97 L1434.54,987.59 L1436.72,987.20 L1438.90,986.81 L1441.08,986.42 L1443.26,986.02 L1445.44,985.63 L1447.62,985.23 L1449.80,984.83 L1451.98,984.43 L1454.16,984.02 L1456.33,983.61 L1458.51,983.20 L1460.69,982.79 L1462.87,982.37 L1465.05,981.95 L1467.23,981.53 L1469.41,981.11 L1471.59,980.68 L1473.77,980.25 L1475.95,979.81 L1478.13,979.37 L1480.31,978.93 L1482.49,978.48 L1484.66,978.03 L1486.84,977.57 L1489.02,977.11 L1491.20,976.65 L1493.38,976.18 L1495.56,975.70 L1497.74,975.22 L1499.92,974.74 L1502.10,974.24 L1504.28,973.74 L1506.46,973.24 L1508.64,972.73 L1510.82,972.21 L1513.00,971.68 L1515.17,971.14 L1517.35,970.60 L1519.53,970.04 L1521.71,969.48 L1523.89,968.91 L1526.07,968.33 L1528.25,967.73 L1530.43,967.13 L1532.61,966.51 L1534.79,965.88 L1536.97,965.23 L1539.15,964.57 L1541.33,963.90 L1543.51,963.21 L1545.68,962.50 L1547.86,961.77 L1550.04,961.02 L1552.22,960.26 L1554.40,959.47 L1556.58,958.65 L1558.76,957.81 L1560.94,956.95 L1563.12,956.05 L1565.30,955.13 L1567.48,954.17 L1569.66,953.17 L1571.84,952.13 L1574.01,951.06 L1576.19,949.94 L1578.37,948.77 L1580.55,947.54 L1582.73,946.26 L1584.91,944.92 L1587.09,943.51 L1589.27,942.03 L1591.45,940.46 L1593.63,938.81 L1595.81,937.05 L1597.99,935.19 L1600.17,933.20 L1602.35,931.08 L1604.52,928.82 L1606.70,926.38 L1608.88,923.75 L1611.06,920.91 L1613.24,917.83 L1615.42,914.47 L1617.60,910.79" fill="none" stroke="#e4f4e2" stroke-width="3.8000000000000003" clip-path="url(#cD)"/>
<path d="M966.00,1065.09 L968.18,1064.13 L970.36,1063.21 L972.54,1062.33 L974.72,1061.48 L976.90,1060.67 L979.08,1059.89 L981.25,1059.14 L983.43,1058.41 L985.61,1057.72 L987.79,1057.04 L989.97,1056.39 L992.15,1055.76 L994.33,1055.15 L996.51,1054.55 L998.69,1053.98 L1000.87,1053.42 L1003.05,1052.87 L1005.23,1052.34 L1007.41,1051.83 L1009.59,1051.32 L1011.76,1050.83 L1013.94,1050.36 L1016.12,1049.89 L1018.30,1049.43 L1020.48,1048.98 L1022.66,1048.55 L1024.84,1048.12 L1027.02,1047.70 L1029.20,1047.28 L1031.38,1046.88 L1033.56,1046.48 L1035.74,1046.09 L1037.92,1045.70 L1040.09,1045.32 L1042.27,1044.95 L1044.45,1044.58 L1046.63,1044.22 L1048.81,1043.87 L1050.99,1043.51 L1053.17,1043.16 L1055.35,1042.82 L1057.53,1042.48 L1059.71,1042.15 L1061.89,1041.81 L1064.07,1041.48 L1066.25,1041.16 L1068.43,1040.84 L1070.60,1040.52 L1072.78,1040.20 L1074.96,1039.89 L1077.14,1039.57 L1079.32,1039.26 L1081.50,1038.96 L1083.68,1038.65 L1085.86,1038.35 L1088.04,1038.05 L1090.22,1037.75 L1092.40,1037.45 L1094.58,1037.15 L1096.76,1036.86 L1098.94,1036.56 L1101.11,1036.27 L1103.29,1035.98 L1105.47,1035.69 L1107.65,1035.40 L1109.83,1035.11 L1112.01,1034.82 L1114.19,1034.53 L1116.37,1034.25 L1118.55,1033.96 L1120.73,1033.68 L1122.91,1033.39 L1125.09,1033.11 L1127.27,1032.82 L1129.44,1032.54 L1131.62,1032.26 L1133.80,1031.97 L1135.98,1031.69 L1138.16,1031.41 L1140.34,1031.13 L1142.52,1030.84 L1144.70,1030.56 L1146.88,1030.28 L1149.06,1030.00 L1151.24,1029.71 L1153.42,1029.43 L1155.60,1029.15 L1157.78,1028.87 L1159.95,1028.58 L1162.13,1028.30 L1164.31,1028.01 L1166.49,1027.73 L1168.67,1027.45 L1170.85,1027.16 L1173.03,1026.88 L1175.21,1026.59 L1177.39,1026.31 L1179.57,1026.02 L1181.75,1025.73 L1183.93,1025.45 L1186.11,1025.16 L1188.28,1024.87 L1190.46,1024.58 L1192.64,1024.29 L1194.82,1024.00 L1197.00,1023.71 L1199.18,1023.42 L1201.36,1023.13 L1203.54,1022.84 L1205.72,1022.55 L1207.90,1022.25 L1210.08,1021.96 L1212.26,1021.66 L1214.44,1021.37 L1216.62,1021.07 L1218.79,1020.78 L1220.97,1020.48 L1223.15,1020.18 L1225.33,1019.88 L1227.51,1019.59 L1229.69,1019.29 L1231.87,1018.99 L1234.05,1018.68 L1236.23,1018.38 L1238.41,1018.08 L1240.59,1017.78 L1242.77,1017.47 L1244.95,1017.17 L1247.13,1016.86 L1249.30,1016.56 L1251.48,1016.25 L1253.66,1015.94 L1255.84,1015.64 L1258.02,1015.33 L1260.20,1015.02 L1262.38,1014.71 L1264.56,1014.40 L1266.74,1014.08 L1268.92,1013.77 L1271.10,1013.46 L1273.28,1013.14 L1275.46,1012.83 L1277.63,1012.51 L1279.81,1012.20 L1281.99,1011.88 L1284.17,1011.56 L1286.35,1011.24 L1288.53,1010.92 L1290.71,1010.60 L1292.89,1010.28 L1295.07,1009.96 L1297.25,1009.64 L1299.43,1009.32 L1301.61,1008.99 L1303.79,1008.67 L1305.97,1008.34 L1308.14,1008.02 L1310.32,1007.69 L1312.50,1007.36 L1314.68,1007.03 L1316.86,1006.71 L1319.04,1006.38 L1321.22,1006.05 L1323.40,1005.71 L1325.58,1005.38 L1327.76,1005.05 L1329.94,1004.71 L1332.12,1004.38 L1334.30,1004.04 L1336.47,1003.71 L1338.65,1003.37 L1340.83,1003.03 L1343.01,1002.70 L1345.19,1002.36 L1347.37,1002.02 L1349.55,1001.67 L1351.73,1001.33 L1353.91,1000.99 L1356.09,1000.65 L1358.27,1000.30 L1360.45,999.96 L1362.63,999.61 L1364.81,999.26 L1366.98,998.92 L1369.16,998.57 L1371.34,998.22 L1373.52,997.87 L1375.70,997.52 L1377.88,997.16 L1380.06,996.81 L1382.24,996.45 L1384.42,996.10 L1386.60,995.74 L1388.78,995.39 L1390.96,995.03 L1393.14,994.67 L1395.32,994.31 L1397.49,993.94 L1399.67,993.58 L1401.85,993.22 L1404.03,992.85 L1406.21,992.48 L1408.39,992.12 L1410.57,991.75 L1412.75,991.38 L1414.93,991.00 L1417.11,990.63 L1419.29,990.26 L1421.47,989.88 L1423.65,989.50 L1425.82,989.12 L1428.00,988.74 L1430.18,988.36 L1432.36,987.97 L1434.54,987.59 L1436.72,987.20 L1438.90,986.81 L1441.08,986.42 L1443.26,986.02 L1445.44,985.63 L1447.62,985.23 L1449.80,984.83 L1451.98,984.43 L1454.16,984.02 L1456.33,983.61 L1458.51,983.20 L1460.69,982.79 L1462.87,982.37 L1465.05,981.95 L1467.23,981.53 L1469.41,981.11 L1471.59,980.68 L1473.77,980.25 L1475.95,979.81 L1478.13,979.37 L1480.31,978.93 L1482.49,978.48 L1484.66,978.03 L1486.84,977.57 L1489.02,977.11 L1491.20,976.65 L1493.38,976.18 L1495.56,975.70 L1497.74,975.22 L1499.92,974.74 L1502.10,974.24 L1504.28,973.74 L1506.46,973.24 L1508.64,972.73 L1510.82,972.21 L1513.00,971.68 L1515.17,971.14 L1517.35,970.60 L1519.53,970.04 L1521.71,969.48 L1523.89,968.91 L1526.07,968.33 L1528.25,967.73 L1530.43,967.13 L1532.61,966.51 L1534.79,965.88 L1536.97,965.23 L1539.15,964.57 L1541.33,963.90 L1543.51,963.21 L1545.68,962.50 L1547.86,961.77 L1550.04,961.02 L1552.22,960.26 L1554.40,959.47 L1556.58,958.65 L1558.76,957.81 L1560.94,956.95 L1563.12,956.05 L1565.30,955.13 L1567.48,954.17 L1569.66,953.17 L1571.84,952.13 L1574.01,951.06 L1576.19,949.94 L1578.37,948.77 L1580.55,947.54 L1582.73,946.26 L1584.91,944.92 L1587.09,943.51 L1589.27,942.03 L1591.45,940.46 L1593.63,938.81 L1595.81,937.05 L1597.99,935.19 L1600.17,933.20 L1602.35,931.08 L1604.52,928.82 L1606.70,926.38 L1608.88,923.75 L1611.06,920.91 L1613.24,917.83 L1615.42,914.47 L1617.60,910.79" fill="none" stroke="#1a4f96" stroke-width="1.6" stroke-linejoin="round"/>
<path d="M1191.19,648.80 L1193.11,650.28 L1195.04,651.75 L1196.96,653.23 L1198.88,654.71 L1200.81,656.18 L1202.73,657.66 L1204.65,659.14 L1206.58,660.61 L1208.50,662.09 L1210.42,663.57 L1212.35,665.04 L1214.27,666.52 L1216.19,668.00 L1218.11,669.47 L1220.04,670.95 L1221.96,672.43 L1223.88,673.90 L1225.80,675.38 L1227.73,676.86 L1229.65,678.33 L1231.57,679.81 L1233.50,681.28 L1235.42,682.76 L1237.34,684.24 L1239.26,685.71 L1241.19,687.19 L1243.11,688.67 L1245.03,690.14 L1246.96,691.62 L1248.88,693.10 L1250.80,694.57 L1252.73,696.05 L1254.65,697.53 L1256.58,699.00 L1258.50,700.48 L1260.42,701.96 L1262.35,703.43 L1264.28,704.91 L1266.20,706.39 L1268.13,707.86 L1270.05,709.34 L1271.98,710.82 L1273.91,712.29 L1275.84,713.77 L1277.77,715.25 L1279.69,716.72 L1281.62,718.20 L1283.55,719.68 L1285.48,721.15 L1287.41,722.63 L1289.34,724.11 L1291.27,725.58 L1293.20,727.06 L1295.13,728.54 L1297.06,730.01 L1298.99,731.49 L1300.92,732.97 L1302.85,734.44 L1304.78,735.92 L1306.71,737.40 L1308.64,738.87 L1310.57,740.35 L1312.50,741.83 L1314.43,743.30 L1316.36,744.78 L1318.28,746.25 L1320.21,747.73 L1322.14,749.21 L1324.06,750.68 L1325.99,752.16 L1327.91,753.64 L1329.83,755.11 L1331.76,756.59 L1333.68,758.07 L1335.60,759.54 L1337.52,761.02 L1339.43,762.50 L1341.35,763.97 L1343.27,765.45 L1345.18,766.93 L1347.09,768.40 L1349.00,769.88 L1350.90,771.36 L1352.80,772.83 L1354.70,774.31 L1356.60,775.79 L1358.49,777.26 L1360.38,778.74 L1362.27,780.22 L1364.15,781.69 L1366.03,783.17 L1367.90,784.65 L1369.77,786.12 L1371.64,787.60 L1373.50,789.08 L1375.35,790.55 L1377.20,792.03 L1379.04,793.51 L1380.88,794.98 L1382.71,796.46 L1384.54,797.94 L1386.35,799.41 L1388.17,800.89 L1389.97,802.37 L1391.77,803.84 L1393.56,805.32 L1395.35,806.79 L1397.13,808.27 L1398.90,809.75 L1400.66,811.22 L1402.42,812.70 L1404.17,814.18 L1405.91,815.65 L1407.64,817.13 L1409.37,818.61 L1411.08,820.08 L1412.79,821.56 L1414.49,823.04 L1416.19,824.51 L1417.87,825.99 L1419.55,827.47 L1421.22,828.94 L1422.88,830.42 L1424.54,831.90 L1426.18,833.37 L1427.82,834.85 L1429.45,836.33 L1431.07,837.80 L1432.68,839.28 L1434.29,840.76 L1435.89,842.23 L1437.47,843.71 L1439.06,845.19 L1440.63,846.66 L1442.19,848.14 L1443.75,849.62 L1445.30,851.09 L1446.84,852.57 L1448.37,854.05 L1449.90,855.52 L1451.41,857.00 L1452.92,858.48 L1454.42,859.95 L1455.92,861.43 L1457.40,862.91 L1458.88,864.38 L1460.35,865.86 L1461.81,867.34 L1463.27,868.81 L1464.71,870.29 L1466.15,871.76 L1467.58,873.24 L1469.01,874.72 L1470.42,876.19 L1471.83,877.67 L1473.23,879.15 L1474.62,880.62 L1476.01,882.10 L1477.38,883.58 L1478.75,885.05 L1480.11,886.53 L1481.46,888.01 L1482.81,889.48 L1484.14,890.96 L1485.47,892.44 L1486.79,893.91 L1488.10,895.39 L1489.41,896.87 L1490.70,898.34 L1491.99,899.82 L1493.27,901.30 L1494.54,902.77 L1495.81,904.25 L1497.06,905.73 L1498.32,907.20 L1499.56,908.68 L1500.79,910.16 L1502.02,911.63 L1503.24,913.11 L1504.46,914.59 L1505.67,916.06 L1506.87,917.54 L1508.06,919.02 L1509.25,920.49 L1510.43,921.97 L1511.60,923.45 L1512.77,924.92 L1513.93,926.40 L1515.09,927.88 L1516.23,929.35 L1517.38,930.83 L1518.51,932.31 L1519.64,933.78 L1520.76,935.26 L1521.87,936.73 L1522.98,938.21 L1524.08,939.69 L1525.17,941.16 L1526.26,942.64 L1527.34,944.12 L1528.41,945.59 L1529.47,947.07 L1530.52,948.55 L1531.57,950.02 L1532.61,951.50 L1533.64,952.98 L1534.66,954.45 L1535.68,955.93 L1536.68,957.41 L1537.68,958.88 L1538.67,960.36 L1539.64,961.84 L1540.61,963.31 L1541.58,964.79 L1542.53,966.27 L1543.47,967.74 L1544.40,969.22 L1545.33,970.70 L1546.24,972.17 L1547.15,973.65 L1548.05,975.13 L1548.94,976.60 L1549.82,978.08 L1550.69,979.56 L1551.55,981.03 L1552.40,982.51 L1553.24,983.99 L1554.08,985.46 L1554.91,986.94 L1555.72,988.42 L1556.53,989.89 L1557.33,991.37 L1558.12,992.85 L1558.91,994.32 L1559.69,995.80 L1560.45,997.27 L1561.21,998.75 L1561.97,1000.23 L1562.71,1001.70 L1563.45,1003.18 L1564.18,1004.66 L1564.91,1006.13 L1565.63,1007.61 L1566.34,1009.09 L1567.04,1010.56 L1567.74,1012.04 L1568.44,1013.52 L1569.12,1014.99 L1569.81,1016.47 L1570.48,1017.95 L1571.15,1019.42 L1571.82,1020.90 L1572.48,1022.38 L1573.14,1023.85 L1573.79,1025.33 L1574.44,1026.81 L1575.08,1028.28 L1575.72,1029.76 L1576.35,1031.24 L1576.98,1032.71 L1577.61,1034.19 L1578.23,1035.67 L1578.85,1037.14 L1579.47,1038.62 L1580.08,1040.10 L1580.69,1041.57 L1581.30,1043.05 L1581.90,1044.53 L1582.51,1046.00 L1583.10,1047.48 L1583.70,1048.96 L1584.29,1050.43 L1584.89,1051.91 L1585.48,1053.39 L1586.06,1054.86 L1586.65,1056.34 L1587.23,1057.82 L1587.82,1059.29 L1588.40,1060.77 L1588.98,1062.24 L1589.56,1063.72 L1590.13,1065.20 L1590.71,1066.67 L1591.28,1068.15 L1591.86,1069.63 L1592.43,1071.10 L1593.01,1072.58 L1593.58,1074.06 L1594.15,1075.53 L1594.72,1077.01 L1595.29,1078.49 L1595.86,1079.96 L1596.43,1081.44 L1597.00,1082.92 L1597.57,1084.39 L1598.14,1085.87 L1598.71,1087.35 L1599.27,1088.82 L1599.84,1090.30" fill="none" stroke="#d6f6f6" stroke-width="4.0" clip-path="url(#cD)"/>
<path d="M1191.19,648.80 L1193.11,650.28 L1195.04,651.75 L1196.96,653.23 L1198.88,654.71 L1200.81,656.18 L1202.73,657.66 L1204.65,659.14 L1206.58,660.61 L1208.50,662.09 L1210.42,663.57 L1212.35,665.04 L1214.27,666.52 L1216.19,668.00 L1218.11,669.47 L1220.04,670.95 L1221.96,672.43 L1223.88,673.90 L1225.80,675.38 L1227.73,676.86 L1229.65,678.33 L1231.57,679.81 L1233.50,681.28 L1235.42,682.76 L1237.34,684.24 L1239.26,685.71 L1241.19,687.19 L1243.11,688.67 L1245.03,690.14 L1246.96,691.62 L1248.88,693.10 L1250.80,694.57 L1252.73,696.05 L1254.65,697.53 L1256.58,699.00 L1258.50,700.48 L1260.42,701.96 L1262.35,703.43 L1264.28,704.91 L1266.20,706.39 L1268.13,707.86 L1270.05,709.34 L1271.98,710.82 L1273.91,712.29 L1275.84,713.77 L1277.77,715.25 L1279.69,716.72 L1281.62,718.20 L1283.55,719.68 L1285.48,721.15 L1287.41,722.63 L1289.34,724.11 L1291.27,725.58 L1293.20,727.06 L1295.13,728.54 L1297.06,730.01 L1298.99,731.49 L1300.92,732.97 L1302.85,734.44 L1304.78,735.92 L1306.71,737.40 L1308.64,738.87 L1310.57,740.35 L1312.50,741.83 L1314.43,743.30 L1316.36,744.78 L1318.28,746.25 L1320.21,747.73 L1322.14,749.21 L1324.06,750.68 L1325.99,752.16 L1327.91,753.64 L1329.83,755.11 L1331.76,756.59 L1333.68,758.07 L1335.60,759.54 L1337.52,761.02 L1339.43,762.50 L1341.35,763.97 L1343.27,765.45 L1345.18,766.93 L1347.09,768.40 L1349.00,769.88 L1350.90,771.36 L1352.80,772.83 L1354.70,774.31 L1356.60,775.79 L1358.49,777.26 L1360.38,778.74 L1362.27,780.22 L1364.15,781.69 L1366.03,783.17 L1367.90,784.65 L1369.77,786.12 L1371.64,787.60 L1373.50,789.08 L1375.35,790.55 L1377.20,792.03 L1379.04,793.51 L1380.88,794.98 L1382.71,796.46 L1384.54,797.94 L1386.35,799.41 L1388.17,800.89 L1389.97,802.37 L1391.77,803.84 L1393.56,805.32 L1395.35,806.79 L1397.13,808.27 L1398.90,809.75 L1400.66,811.22 L1402.42,812.70 L1404.17,814.18 L1405.91,815.65 L1407.64,817.13 L1409.37,818.61 L1411.08,820.08 L1412.79,821.56 L1414.49,823.04 L1416.19,824.51 L1417.87,825.99 L1419.55,827.47 L1421.22,828.94 L1422.88,830.42 L1424.54,831.90 L1426.18,833.37 L1427.82,834.85 L1429.45,836.33 L1431.07,837.80 L1432.68,839.28 L1434.29,840.76 L1435.89,842.23 L1437.47,843.71 L1439.06,845.19 L1440.63,846.66 L1442.19,848.14 L1443.75,849.62 L1445.30,851.09 L1446.84,852.57 L1448.37,854.05 L1449.90,855.52 L1451.41,857.00 L1452.92,858.48 L1454.42,859.95 L1455.92,861.43 L1457.40,862.91 L1458.88,864.38 L1460.35,865.86 L1461.81,867.34 L1463.27,868.81 L1464.71,870.29 L1466.15,871.76 L1467.58,873.24 L1469.01,874.72 L1470.42,876.19 L1471.83,877.67 L1473.23,879.15 L1474.62,880.62 L1476.01,882.10 L1477.38,883.58 L1478.75,885.05 L1480.11,886.53 L1481.46,888.01 L1482.81,889.48 L1484.14,890.96 L1485.47,892.44 L1486.79,893.91 L1488.10,895.39 L1489.41,896.87 L1490.70,898.34 L1491.99,899.82 L1493.27,901.30 L1494.54,902.77 L1495.81,904.25 L1497.06,905.73 L1498.32,907.20 L1499.56,908.68 L1500.79,910.16 L1502.02,911.63 L1503.24,913.11 L1504.46,914.59 L1505.67,916.06 L1506.87,917.54 L1508.06,919.02 L1509.25,920.49 L1510.43,921.97 L1511.60,923.45 L1512.77,924.92 L1513.93,926.40 L1515.09,927.88 L1516.23,929.35 L1517.38,930.83 L1518.51,932.31 L1519.64,933.78 L1520.76,935.26 L1521.87,936.73 L1522.98,938.21 L1524.08,939.69 L1525.17,941.16 L1526.26,942.64 L1527.34,944.12 L1528.41,945.59 L1529.47,947.07 L1530.52,948.55 L1531.57,950.02 L1532.61,951.50 L1533.64,952.98 L1534.66,954.45 L1535.68,955.93 L1536.68,957.41 L1537.68,958.88 L1538.67,960.36 L1539.64,961.84 L1540.61,963.31 L1541.58,964.79 L1542.53,966.27 L1543.47,967.74 L1544.40,969.22 L1545.33,970.70 L1546.24,972.17 L1547.15,973.65 L1548.05,975.13 L1548.94,976.60 L1549.82,978.08 L1550.69,979.56 L1551.55,981.03 L1552.40,982.51 L1553.24,983.99 L1554.08,985.46 L1554.91,986.94 L1555.72,988.42 L1556.53,989.89 L1557.33,991.37 L1558.12,992.85 L1558.91,994.32 L1559.69,995.80 L1560.45,997.27 L1561.21,998.75 L1561.97,1000.23 L1562.71,1001.70 L1563.45,1003.18 L1564.18,1004.66 L1564.91,1006.13 L1565.63,1007.61 L1566.34,1009.09 L1567.04,1010.56 L1567.74,1012.04 L1568.44,1013.52 L1569.12,1014.99 L1569.81,1016.47 L1570.48,1017.95 L1571.15,1019.42 L1571.82,1020.90 L1572.48,1022.38 L1573.14,1023.85 L1573.79,1025.33 L1574.44,1026.81 L1575.08,1028.28 L1575.72,1029.76 L1576.35,1031.24 L1576.98,1032.71 L1577.61,1034.19 L1578.23,1035.67 L1578.85,1037.14 L1579.47,1038.62 L1580.08,1040.10 L1580.69,1041.57 L1581.30,1043.05 L1581.90,1044.53 L1582.51,1046.00 L1583.10,1047.48 L1583.70,1048.96 L1584.29,1050.43 L1584.89,1051.91 L1585.48,1053.39 L1586.06,1054.86 L1586.65,1056.34 L1587.23,1057.82 L1587.82,1059.29 L1588.40,1060.77 L1588.98,1062.24 L1589.56,1063.72 L1590.13,1065.20 L1590.71,1066.67 L1591.28,1068.15 L1591.86,1069.63 L1592.43,1071.10 L1593.01,1072.58 L1593.58,1074.06 L1594.15,1075.53 L1594.72,1077.01 L1595.29,1078.49 L1595.86,1079.96 L1596.43,1081.44 L1597.00,1082.92 L1597.57,1084.39 L1598.14,1085.87 L1598.71,1087.35 L1599.27,1088.82 L1599.84,1090.30" fill="none" stroke="#000" stroke-width="1.8" stroke-linejoin="round"/>
<line x1="1599.2" y1="1098.9" x2="1599.2" y2="1118.2" stroke="#000" stroke-width="1.8" stroke-linecap="butt"/>
<line x1="952.9" y1="647.45" x2="952.9" y2="1090.3" stroke="#000" stroke-width="1.7" stroke-linecap="butt"/>
<line x1="952.9" y1="1099.5" x2="952.9" y2="1119.1" stroke="#000" stroke-width="1.7" stroke-linecap="butt"/>
<line x1="943.9" y1="648.3" x2="952.9" y2="648.3" stroke="#000" stroke-width="1.7" stroke-linecap="butt"/>
<text x="937.6" y="655.1" font-size="22.4" fill="#000" text-anchor="end">70</text>
<line x1="943.9" y1="774.6" x2="952.9" y2="774.6" stroke="#000" stroke-width="1.7" stroke-linecap="butt"/>
<text x="937.6" y="781.4" font-size="22.4" fill="#000" text-anchor="end">60</text>
<line x1="943.9" y1="900.9" x2="952.9" y2="900.9" stroke="#000" stroke-width="1.7" stroke-linecap="butt"/>
<text x="937.6" y="907.7" font-size="22.4" fill="#000" text-anchor="end">50</text>
<line x1="943.9" y1="1027.2" x2="952.9" y2="1027.2" stroke="#000" stroke-width="1.7" stroke-linecap="butt"/>
<text x="937.6" y="1034" font-size="22.4" fill="#000" text-anchor="end">40</text>
<line x1="943.9" y1="1118.25" x2="952.9" y2="1118.25" stroke="#000" stroke-width="1.7" stroke-linecap="butt"/>
<text x="937.6" y="1125.05" font-size="22.4" fill="#000" text-anchor="end">0</text>
<line x1="948" y1="711.45" x2="952.9" y2="711.45" stroke="#000" stroke-width="1.7" stroke-linecap="butt"/>
<line x1="948" y1="837.75" x2="952.9" y2="837.75" stroke="#000" stroke-width="1.7" stroke-linecap="butt"/>
<line x1="948" y1="964.05" x2="952.9" y2="964.05" stroke="#000" stroke-width="1.7" stroke-linecap="butt"/>
<line x1="948" y1="1090.35" x2="952.9" y2="1090.35" stroke="#000" stroke-width="1.7" stroke-linecap="butt"/>
<line x1="944" y1="1094.8" x2="961.8" y2="1087" stroke="#000" stroke-width="1.7" stroke-linecap="butt"/>
<line x1="944" y1="1102.8" x2="961.8" y2="1095.3" stroke="#000" stroke-width="1.7" stroke-linecap="butt"/>
<line x1="952.9" y1="1118.25" x2="1624" y2="1118.25" stroke="#000" stroke-width="1.7" stroke-linecap="butt"/>
<line x1="952.8" y1="1118.25" x2="952.8" y2="1126.8" stroke="#000" stroke-width="1.7" stroke-linecap="butt"/>
<text x="952.8" y="1150.5" font-size="22.4" fill="#000" text-anchor="middle">0</text>
<line x1="1086.96" y1="1118.25" x2="1086.96" y2="1126.8" stroke="#000" stroke-width="1.7" stroke-linecap="butt"/>
<text x="1086.96" y="1150.5" font-size="22.4" fill="#000" text-anchor="middle">20</text>
<line x1="1221.12" y1="1118.25" x2="1221.12" y2="1126.8" stroke="#000" stroke-width="1.7" stroke-linecap="butt"/>
<text x="1221.12" y="1150.5" font-size="22.4" fill="#000" text-anchor="middle">40</text>
<line x1="1355.28" y1="1118.25" x2="1355.28" y2="1126.8" stroke="#000" stroke-width="1.7" stroke-linecap="butt"/>
<text x="1355.28" y="1150.5" font-size="22.4" fill="#000" text-anchor="middle">60</text>
<line x1="1489.44" y1="1118.25" x2="1489.44" y2="1126.8" stroke="#000" stroke-width="1.7" stroke-linecap="butt"/>
<text x="1489.44" y="1150.5" font-size="22.4" fill="#000" text-anchor="middle">80</text>
<line x1="1623.6" y1="1118.25" x2="1623.6" y2="1126.8" stroke="#000" stroke-width="1.7" stroke-linecap="butt"/>
<text x="1623.6" y="1150.5" font-size="22.4" fill="#000" text-anchor="middle">100</text>
<line x1="1019.88" y1="1118.25" x2="1019.88" y2="1122.9" stroke="#000" stroke-width="1.7" stroke-linecap="butt"/>
<line x1="1154.04" y1="1118.25" x2="1154.04" y2="1122.9" stroke="#000" stroke-width="1.7" stroke-linecap="butt"/>
<line x1="1288.2" y1="1118.25" x2="1288.2" y2="1122.9" stroke="#000" stroke-width="1.7" stroke-linecap="butt"/>
<line x1="1422.36" y1="1118.25" x2="1422.36" y2="1122.9" stroke="#000" stroke-width="1.7" stroke-linecap="butt"/>
<line x1="1556.52" y1="1118.25" x2="1556.52" y2="1122.9" stroke="#000" stroke-width="1.7" stroke-linecap="butt"/>
<text x="1288.6" y="1189.3" font-size="24.2" fill="#000" text-anchor="middle">eRH (%)</text>
<text transform="translate(884.5,882.05) rotate(-90)" font-size="24.2" fill="#000" text-anchor="middle"><tspan font-style="italic">T</tspan><tspan font-size="17" dy="6.9">g</tspan><tspan dy="-6.9"> (°C)</tspan></text>
<text x="866.6" y="659" font-size="30.4" fill="#000" text-anchor="start" font-weight="bold">D</text>
<line x1="1637.4" y1="639.7" x2="1637.4" y2="842.2" stroke="#e8141b" stroke-width="1.4" stroke-linecap="butt"/>
<line x1="1631.5" y1="841.5" x2="1637.4" y2="841.5" stroke="#e8141b" stroke-width="1.4" stroke-linecap="butt"/>
<text x="1643.6" y="847.34" font-size="19.6" fill="#e60000" text-anchor="start">0</text>
<line x1="1634.4" y1="821.39" x2="1637.4" y2="821.39" stroke="#e8141b" stroke-width="1.4" stroke-linecap="butt"/>
<line x1="1631.5" y1="801.28" x2="1637.4" y2="801.28" stroke="#e8141b" stroke-width="1.4" stroke-linecap="butt"/>
<text x="1643.6" y="807.12" font-size="19.6" fill="#e60000" text-anchor="start">4</text>
<line x1="1634.4" y1="781.17" x2="1637.4" y2="781.17" stroke="#e8141b" stroke-width="1.4" stroke-linecap="butt"/>
<line x1="1631.5" y1="761.06" x2="1637.4" y2="761.06" stroke="#e8141b" stroke-width="1.4" stroke-linecap="butt"/>
<text x="1643.6" y="766.9" font-size="19.6" fill="#e60000" text-anchor="start">8</text>
<line x1="1634.4" y1="740.95" x2="1637.4" y2="740.95" stroke="#e8141b" stroke-width="1.4" stroke-linecap="butt"/>
<line x1="1631.5" y1="720.84" x2="1637.4" y2="720.84" stroke="#e8141b" stroke-width="1.4" stroke-linecap="butt"/>
<text x="1643.6" y="726.68" font-size="19.6" fill="#e60000" text-anchor="start">12</text>
<line x1="1634.4" y1="700.73" x2="1637.4" y2="700.73" stroke="#e8141b" stroke-width="1.4" stroke-linecap="butt"/>
<line x1="1631.5" y1="680.62" x2="1637.4" y2="680.62" stroke="#e8141b" stroke-width="1.4" stroke-linecap="butt"/>
<text x="1643.6" y="686.46" font-size="19.6" fill="#e60000" text-anchor="start">16</text>
<line x1="1634.4" y1="660.51" x2="1637.4" y2="660.51" stroke="#e8141b" stroke-width="1.4" stroke-linecap="butt"/>
<line x1="1631.5" y1="640.4" x2="1637.4" y2="640.4" stroke="#e8141b" stroke-width="1.4" stroke-linecap="butt"/>
<text x="1643.6" y="646.24" font-size="19.6" fill="#e60000" text-anchor="start">20</text>
<text transform="translate(1693.9,743.3) rotate(-90)" font-size="22.8" fill="#e60000" text-anchor="middle">Moisture content</text>
<text transform="translate(1724.6,740.75) rotate(-90)" font-size="22.8" fill="#e60000" text-anchor="middle">(% dry weight) at 60°C</text>
<line x1="1657.8" y1="873.7" x2="1657.8" y2="1076.2" stroke="#2a5c9e" stroke-width="1.4" stroke-linecap="butt"/>
<line x1="1651.9" y1="1075.5" x2="1657.8" y2="1075.5" stroke="#2a5c9e" stroke-width="1.4" stroke-linecap="butt"/>
<text x="1664" y="1081.31" font-size="19.5" fill="#08307f" text-anchor="start">0</text>
<line x1="1654.8" y1="1055.39" x2="1657.8" y2="1055.39" stroke="#2a5c9e" stroke-width="1.4" stroke-linecap="butt"/>
<line x1="1651.9" y1="1035.28" x2="1657.8" y2="1035.28" stroke="#2a5c9e" stroke-width="1.4" stroke-linecap="butt"/>
<text x="1664" y="1041.09" font-size="19.5" fill="#08307f" text-anchor="start">4</text>
<line x1="1654.8" y1="1015.17" x2="1657.8" y2="1015.17" stroke="#2a5c9e" stroke-width="1.4" stroke-linecap="butt"/>
<line x1="1651.9" y1="995.06" x2="1657.8" y2="995.06" stroke="#2a5c9e" stroke-width="1.4" stroke-linecap="butt"/>
<text x="1664" y="1000.87" font-size="19.5" fill="#08307f" text-anchor="start">8</text>
<line x1="1654.8" y1="974.95" x2="1657.8" y2="974.95" stroke="#2a5c9e" stroke-width="1.4" stroke-linecap="butt"/>
<line x1="1651.9" y1="954.84" x2="1657.8" y2="954.84" stroke="#2a5c9e" stroke-width="1.4" stroke-linecap="butt"/>
<text x="1664" y="960.65" font-size="19.5" fill="#08307f" text-anchor="start">12</text>
<line x1="1654.8" y1="934.73" x2="1657.8" y2="934.73" stroke="#2a5c9e" stroke-width="1.4" stroke-linecap="butt"/>
<line x1="1651.9" y1="914.62" x2="1657.8" y2="914.62" stroke="#2a5c9e" stroke-width="1.4" stroke-linecap="butt"/>
<text x="1664" y="920.43" font-size="19.5" fill="#08307f" text-anchor="start">16</text>
<line x1="1654.8" y1="894.51" x2="1657.8" y2="894.51" stroke="#2a5c9e" stroke-width="1.4" stroke-linecap="butt"/>
<line x1="1651.9" y1="874.4" x2="1657.8" y2="874.4" stroke="#2a5c9e" stroke-width="1.4" stroke-linecap="butt"/>
<text x="1664" y="880.21" font-size="19.5" fill="#08307f" text-anchor="start">20</text>
<text transform="translate(1714,977.3) rotate(-90)" font-size="22.8" fill="#08307f" text-anchor="middle">Moisture content</text>
<text transform="translate(1744.7,973.75) rotate(-90)" font-size="22.8" fill="#08307f" text-anchor="middle">(% dry weight) at 45°C</text>
</svg>
</body></html>
